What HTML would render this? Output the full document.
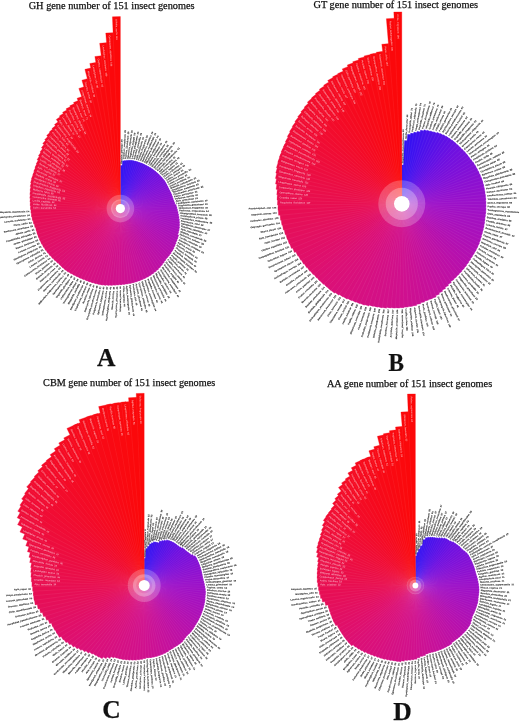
<!DOCTYPE html>
<html><head><meta charset="utf-8"><style>
html,body{margin:0;padding:0;background:#fff;width:520px;height:722px;overflow:hidden}
svg{display:block;filter:blur(0.3px)}
.t{font-family:"Liberation Serif",serif;fill:#111;stroke:#111;stroke-width:0.25px}
.l{font-family:"Liberation Sans",sans-serif}
</style></head><body>
<svg width="520" height="722" viewBox="0 0 520 722">
<rect width="520" height="722" fill="#fff"/>
<g class="l">
<!-- chart A -->
<path d="M120.40 208.60L120.40 165.40L123.33 165.50Z" fill="#2c10f4" stroke="#2c10f4" stroke-width="0.3"/>
<path d="M120.40 208.60L122.39 160.84L125.62 161.09Z" fill="#3010f3" stroke="#3010f3" stroke-width="0.3"/>
<path d="M120.40 208.60L124.41 160.50L127.66 160.88Z" fill="#3310f2" stroke="#3310f2" stroke-width="0.3"/>
<path d="M120.40 208.60L126.48 160.15L129.75 160.67Z" fill="#3710f1" stroke="#3710f1" stroke-width="0.3"/>
<path d="M120.40 208.60L128.54 160.13L131.81 160.79Z" fill="#3b10f0" stroke="#3b10f0" stroke-width="0.3"/>
<path d="M120.40 208.60L130.62 160.21L133.87 161.01Z" fill="#3e10ef" stroke="#3e10ef" stroke-width="0.3"/>
<path d="M120.40 208.60L132.65 160.57L135.87 161.51Z" fill="#4210ee" stroke="#4210ee" stroke-width="0.3"/>
<path d="M120.40 208.60L134.67 161.01L137.86 162.09Z" fill="#4610ed" stroke="#4610ed" stroke-width="0.3"/>
<path d="M120.40 208.60L136.67 161.54L139.82 162.75Z" fill="#4a10ec" stroke="#4a10ec" stroke-width="0.3"/>
<path d="M120.40 208.60L138.66 162.15L141.76 163.49Z" fill="#4d10ea" stroke="#4d10ea" stroke-width="0.3"/>
<path d="M120.40 208.60L140.62 162.84L143.67 164.32Z" fill="#5110e9" stroke="#5110e9" stroke-width="0.3"/>
<path d="M120.40 208.60L142.56 163.62L145.55 165.22Z" fill="#5510e8" stroke="#5510e8" stroke-width="0.3"/>
<path d="M120.40 208.60L144.47 164.48L147.40 166.21Z" fill="#5810e7" stroke="#5810e7" stroke-width="0.3"/>
<path d="M120.40 208.60L146.35 165.39L149.22 167.25Z" fill="#5c10e6" stroke="#5c10e6" stroke-width="0.3"/>
<path d="M120.40 208.60L148.21 166.39L151.00 168.37Z" fill="#6010e5" stroke="#6010e5" stroke-width="0.3"/>
<path d="M120.40 208.60L150.02 167.47L152.74 169.57Z" fill="#6310e4" stroke="#6310e4" stroke-width="0.3"/>
<path d="M120.40 208.60L151.80 168.62L154.43 170.84Z" fill="#6710e3" stroke="#6710e3" stroke-width="0.3"/>
<path d="M120.40 208.60L153.53 169.86L156.07 172.19Z" fill="#6b10e2" stroke="#6b10e2" stroke-width="0.3"/>
<path d="M120.40 208.60L155.24 171.12L157.70 173.57Z" fill="#6f10e0" stroke="#6f10e0" stroke-width="0.3"/>
<path d="M120.40 208.60L156.92 172.46L159.28 175.02Z" fill="#7110df" stroke="#7110df" stroke-width="0.3"/>
<path d="M120.40 208.60L158.50 173.91L160.76 176.57Z" fill="#7410de" stroke="#7410de" stroke-width="0.3"/>
<path d="M120.40 208.60L160.03 175.42L162.19 178.18Z" fill="#7610dd" stroke="#7610dd" stroke-width="0.3"/>
<path d="M120.40 208.60L161.50 177.01L163.55 179.86Z" fill="#7810db" stroke="#7810db" stroke-width="0.3"/>
<path d="M120.40 208.60L162.91 178.65L164.84 181.60Z" fill="#7b10da" stroke="#7b10da" stroke-width="0.3"/>
<path d="M120.40 208.60L164.25 180.36L166.06 183.40Z" fill="#7d10d9" stroke="#7d10d9" stroke-width="0.3"/>
<path d="M120.40 208.60L165.38 182.21L167.07 185.32Z" fill="#7f10d8" stroke="#7f10d8" stroke-width="0.3"/>
<path d="M120.40 208.60L166.44 184.11L168.00 187.28Z" fill="#8210d6" stroke="#8210d6" stroke-width="0.3"/>
<path d="M120.40 208.60L167.50 186.00L168.92 189.25Z" fill="#8410d5" stroke="#8410d5" stroke-width="0.3"/>
<path d="M120.40 208.60L168.48 187.95L169.77 191.25Z" fill="#8610d4" stroke="#8610d4" stroke-width="0.3"/>
<path d="M120.40 208.60L169.55 189.87L170.70 193.24Z" fill="#8910d2" stroke="#8910d2" stroke-width="0.3"/>
<path d="M120.40 208.60L170.54 191.85L171.56 195.28Z" fill="#8b10d1" stroke="#8b10d1" stroke-width="0.3"/>
<path d="M120.40 208.60L171.45 193.87L172.33 197.37Z" fill="#8d10d0" stroke="#8d10d0" stroke-width="0.3"/>
<path d="M120.40 208.60L172.27 195.95L173.01 199.49Z" fill="#9010cf" stroke="#9010cf" stroke-width="0.3"/>
<path d="M120.40 208.60L173.01 198.06L173.61 201.65Z" fill="#9210cd" stroke="#9210cd" stroke-width="0.3"/>
<path d="M120.40 208.60L173.91 200.18L174.36 203.83Z" fill="#9410cc" stroke="#9410cc" stroke-width="0.3"/>
<path d="M120.40 208.60L174.72 202.36L175.02 206.05Z" fill="#9710cb" stroke="#9710cb" stroke-width="0.3"/>
<path d="M120.40 208.60L176.19 204.53L176.34 208.32Z" fill="#9910ca" stroke="#9910ca" stroke-width="0.3"/>
<path d="M120.40 208.60L176.90 206.84L176.89 210.67Z" fill="#9b10c8" stroke="#9b10c8" stroke-width="0.3"/>
<path d="M120.40 208.60L177.51 209.19L177.33 213.06Z" fill="#9d10c7" stroke="#9d10c7" stroke-width="0.3"/>
<path d="M120.40 208.60L178.18 211.61L177.84 215.51Z" fill="#9f10c5" stroke="#9f10c5" stroke-width="0.3"/>
<path d="M120.40 208.60L178.75 214.08L178.24 218.02Z" fill="#a010c4" stroke="#a010c4" stroke-width="0.3"/>
<path d="M120.40 208.60L179.21 216.60L178.54 220.57Z" fill="#a210c2" stroke="#a210c2" stroke-width="0.3"/>
<path d="M120.40 208.60L179.57 219.17L178.71 223.16Z" fill="#a310c1" stroke="#a310c1" stroke-width="0.3"/>
<path d="M120.40 208.60L179.81 221.79L178.78 225.78Z" fill="#a510bf" stroke="#a510bf" stroke-width="0.3"/>
<path d="M120.40 208.60L179.83 224.41L178.62 228.40Z" fill="#a610be" stroke="#a610be" stroke-width="0.3"/>
<path d="M120.40 208.60L179.73 227.06L178.35 231.04Z" fill="#a710bd" stroke="#a710bd" stroke-width="0.3"/>
<path d="M120.40 208.60L179.27 229.64L177.71 233.58Z" fill="#a910bb" stroke="#a910bb" stroke-width="0.3"/>
<path d="M120.40 208.60L178.70 232.22L176.96 236.11Z" fill="#aa10ba" stroke="#aa10ba" stroke-width="0.3"/>
<path d="M120.40 208.60L178.91 235.19L176.97 239.09Z" fill="#ac10b8" stroke="#ac10b8" stroke-width="0.3"/>
<path d="M120.40 208.60L178.07 237.76L175.96 241.60Z" fill="#ad10b7" stroke="#ad10b7" stroke-width="0.3"/>
<path d="M120.40 208.60L177.12 240.31L174.84 244.08Z" fill="#af10b5" stroke="#af10b5" stroke-width="0.3"/>
<path d="M120.40 208.60L176.24 242.94L173.79 246.64Z" fill="#b010b4" stroke="#b010b4" stroke-width="0.3"/>
<path d="M120.40 208.60L175.24 245.55L172.61 249.18Z" fill="#b210b2" stroke="#b210b2" stroke-width="0.3"/>
<path d="M120.40 208.60L174.12 248.14L171.32 251.69Z" fill="#b310b1" stroke="#b310b1" stroke-width="0.3"/>
<path d="M120.40 208.60L172.74 250.59L169.77 254.04Z" fill="#b510af" stroke="#b510af" stroke-width="0.3"/>
<path d="M120.40 208.60L171.25 253.00L168.12 256.34Z" fill="#b610ae" stroke="#b610ae" stroke-width="0.3"/>
<path d="M120.40 208.60L169.51 255.22L166.24 258.43Z" fill="#b810ac" stroke="#b810ac" stroke-width="0.3"/>
<path d="M120.40 208.60L167.67 257.37L164.26 260.46Z" fill="#b910ab" stroke="#b910ab" stroke-width="0.3"/>
<path d="M120.40 208.60L166.12 259.88L162.55 262.86Z" fill="#ba10a9" stroke="#ba10a9" stroke-width="0.3"/>
<path d="M120.40 208.60L164.43 262.33L160.69 265.19Z" fill="#bc10a7" stroke="#bc10a7" stroke-width="0.3"/>
<path d="M120.40 208.60L162.62 264.72L158.72 267.45Z" fill="#bd10a6" stroke="#bd10a6" stroke-width="0.3"/>
<path d="M120.40 208.60L160.68 267.05L156.63 269.65Z" fill="#be10a4" stroke="#be10a4" stroke-width="0.3"/>
<path d="M120.40 208.60L158.62 269.32L154.41 271.77Z" fill="#bf10a3" stroke="#bf10a3" stroke-width="0.3"/>
<path d="M120.40 208.60L156.31 271.30L151.98 273.59Z" fill="#c110a1" stroke="#c110a1" stroke-width="0.3"/>
<path d="M120.40 208.60L153.91 273.19L149.45 275.31Z" fill="#c2109f" stroke="#c2109f" stroke-width="0.3"/>
<path d="M120.40 208.60L151.39 274.96L146.82 276.90Z" fill="#c3109e" stroke="#c3109e" stroke-width="0.3"/>
<path d="M120.40 208.60L148.78 276.62L144.11 278.39Z" fill="#c5109c" stroke="#c5109c" stroke-width="0.3"/>
<path d="M120.40 208.60L146.04 278.04L141.27 279.61Z" fill="#c6109b" stroke="#c6109b" stroke-width="0.3"/>
<path d="M120.40 208.60L143.22 279.34L138.38 280.72Z" fill="#c71099" stroke="#c71099" stroke-width="0.3"/>
<path d="M120.40 208.60L140.34 280.53L135.42 281.71Z" fill="#c81098" stroke="#c81098" stroke-width="0.3"/>
<path d="M120.40 208.60L137.40 281.60L132.42 282.58Z" fill="#ca1096" stroke="#ca1096" stroke-width="0.3"/>
<path d="M120.40 208.60L134.41 282.55L129.37 283.33Z" fill="#cb1094" stroke="#cb1094" stroke-width="0.3"/>
<path d="M120.40 208.60L131.35 283.27L126.27 283.84Z" fill="#cc1093" stroke="#cc1093" stroke-width="0.3"/>
<path d="M120.40 208.60L128.26 283.87L123.14 284.23Z" fill="#cd1091" stroke="#cd1091" stroke-width="0.3"/>
<path d="M120.40 208.60L125.13 284.34L119.99 284.49Z" fill="#cf1090" stroke="#cf1090" stroke-width="0.3"/>
<path d="M120.40 208.60L121.98 284.68L116.83 284.62Z" fill="#d0108e" stroke="#d0108e" stroke-width="0.3"/>
<path d="M120.40 208.60L118.81 285.04L113.64 284.76Z" fill="#d1108d" stroke="#d1108d" stroke-width="0.3"/>
<path d="M120.40 208.60L115.61 285.26L110.43 284.76Z" fill="#d1108b" stroke="#d1108b" stroke-width="0.3"/>
<path d="M120.40 208.60L112.38 285.44L107.19 284.72Z" fill="#d2108a" stroke="#d2108a" stroke-width="0.3"/>
<path d="M120.40 208.60L109.12 285.48L103.94 284.54Z" fill="#d31089" stroke="#d31089" stroke-width="0.3"/>
<path d="M120.40 208.60L105.85 285.38L100.68 284.22Z" fill="#d31088" stroke="#d31088" stroke-width="0.3"/>
<path d="M120.40 208.60L102.57 285.14L97.43 283.76Z" fill="#d41086" stroke="#d41086" stroke-width="0.3"/>
<path d="M120.40 208.60L99.34 284.54L94.25 282.94Z" fill="#d41085" stroke="#d41085" stroke-width="0.3"/>
<path d="M120.40 208.60L96.14 283.80L91.10 281.99Z" fill="#d51084" stroke="#d51084" stroke-width="0.3"/>
<path d="M120.40 208.60L92.96 282.93L87.98 280.90Z" fill="#d61083" stroke="#d61083" stroke-width="0.3"/>
<path d="M120.40 208.60L89.81 281.92L84.91 279.68Z" fill="#d61081" stroke="#d61081" stroke-width="0.3"/>
<path d="M120.40 208.60L86.69 280.78L81.88 278.33Z" fill="#d71080" stroke="#d71080" stroke-width="0.3"/>
<path d="M120.40 208.60L83.54 279.66L78.81 277.00Z" fill="#d8107f" stroke="#d8107f" stroke-width="0.3"/>
<path d="M120.40 208.60L80.42 278.40L75.79 275.53Z" fill="#d8107d" stroke="#d8107d" stroke-width="0.3"/>
<path d="M120.40 208.60L77.33 277.03L72.80 273.95Z" fill="#d9107c" stroke="#d9107c" stroke-width="0.3"/>
<path d="M120.40 208.60L74.29 275.52L69.86 272.24Z" fill="#da107b" stroke="#da107b" stroke-width="0.3"/>
<path d="M120.40 208.60L71.22 273.97L66.91 270.49Z" fill="#da107a" stroke="#da107a" stroke-width="0.3"/>
<path d="M120.40 208.60L68.21 272.28L64.02 268.60Z" fill="#db1078" stroke="#db1078" stroke-width="0.3"/>
<path d="M120.40 208.60L65.52 270.15L61.48 266.29Z" fill="#db1077" stroke="#db1077" stroke-width="0.3"/>
<path d="M120.40 208.60L62.92 267.90L59.04 263.87Z" fill="#dc1076" stroke="#dc1076" stroke-width="0.3"/>
<path d="M120.40 208.60L60.41 265.55L56.69 261.35Z" fill="#dd1074" stroke="#dd1074" stroke-width="0.3"/>
<path d="M120.40 208.60L57.70 263.35L54.14 258.97Z" fill="#dd1072" stroke="#dd1072" stroke-width="0.3"/>
<path d="M120.40 208.60L55.07 261.02L51.67 256.47Z" fill="#de1070" stroke="#de1070" stroke-width="0.3"/>
<path d="M120.40 208.60L52.52 258.57L49.29 253.85Z" fill="#df106e" stroke="#df106e" stroke-width="0.3"/>
<path d="M120.40 208.60L50.06 255.99L47.02 251.12Z" fill="#df0f6c" stroke="#df0f6c" stroke-width="0.3"/>
<path d="M120.40 208.60L47.81 253.24L44.95 248.22Z" fill="#e00f6a" stroke="#e00f6a" stroke-width="0.3"/>
<path d="M120.40 208.60L45.66 250.38L43.01 245.22Z" fill="#e10f68" stroke="#e10f68" stroke-width="0.3"/>
<path d="M120.40 208.60L43.63 247.41L41.18 242.13Z" fill="#e10f66" stroke="#e10f66" stroke-width="0.3"/>
<path d="M120.40 208.60L41.71 244.35L39.47 238.94Z" fill="#e20f64" stroke="#e20f64" stroke-width="0.3"/>
<path d="M120.40 208.60L40.15 241.11L38.13 235.60Z" fill="#e20f62" stroke="#e20f62" stroke-width="0.3"/>
<path d="M120.40 208.60L38.72 237.80L36.93 232.20Z" fill="#e30f60" stroke="#e30f60" stroke-width="0.3"/>
<path d="M120.40 208.60L37.51 234.39L35.95 228.72Z" fill="#e40f5e" stroke="#e40f5e" stroke-width="0.3"/>
<path d="M120.40 208.60L36.44 230.94L35.12 225.20Z" fill="#e40f5c" stroke="#e40f5c" stroke-width="0.3"/>
<path d="M120.40 208.60L34.94 227.57L33.86 221.74Z" fill="#e50f5a" stroke="#e50f5a" stroke-width="0.3"/>
<path d="M120.40 208.60L33.58 224.12L32.73 218.20Z" fill="#e60e58" stroke="#e60e58" stroke-width="0.3"/>
<path d="M120.40 208.60L32.36 220.58L31.75 214.59Z" fill="#e60e56" stroke="#e60e56" stroke-width="0.3"/>
<path d="M120.40 208.60L31.59 216.94L31.23 210.90Z" fill="#e70e54" stroke="#e70e54" stroke-width="0.3"/>
<path d="M120.40 208.60L30.97 213.26L30.86 207.19Z" fill="#e80e52" stroke="#e80e52" stroke-width="0.3"/>
<path d="M120.40 208.60L30.50 209.54L30.65 203.44Z" fill="#e80e50" stroke="#e80e50" stroke-width="0.3"/>
<path d="M120.40 208.60L30.14 205.78L30.54 199.68Z" fill="#e90e4e" stroke="#e90e4e" stroke-width="0.3"/>
<path d="M120.40 208.60L29.94 202.00L30.60 195.89Z" fill="#e90e4c" stroke="#e90e4c" stroke-width="0.3"/>
<path d="M120.40 208.60L29.79 198.19L30.70 192.07Z" fill="#ea0e4a" stroke="#ea0e4a" stroke-width="0.3"/>
<path d="M120.40 208.60L29.80 194.35L30.97 188.24Z" fill="#ea0e48" stroke="#ea0e48" stroke-width="0.3"/>
<path d="M120.40 208.60L29.97 190.49L31.41 184.41Z" fill="#eb0d47" stroke="#eb0d47" stroke-width="0.3"/>
<path d="M120.40 208.60L30.16 186.59L31.86 180.53Z" fill="#eb0d45" stroke="#eb0d45" stroke-width="0.3"/>
<path d="M120.40 208.60L30.49 182.66L32.46 176.63Z" fill="#ec0d43" stroke="#ec0d43" stroke-width="0.3"/>
<path d="M120.40 208.60L31.53 178.90L33.75 172.95Z" fill="#ec0d41" stroke="#ec0d41" stroke-width="0.3"/>
<path d="M120.40 208.60L32.73 175.19L35.19 169.33Z" fill="#ed0d3f" stroke="#ed0d3f" stroke-width="0.3"/>
<path d="M120.40 208.60L33.72 171.37L36.44 165.58Z" fill="#ed0d3e" stroke="#ed0d3e" stroke-width="0.3"/>
<path d="M120.40 208.60L34.88 167.57L37.86 161.87Z" fill="#ee0d3c" stroke="#ee0d3c" stroke-width="0.3"/>
<path d="M120.40 208.60L36.21 163.81L39.44 158.21Z" fill="#ee0d3a" stroke="#ee0d3a" stroke-width="0.3"/>
<path d="M120.40 208.60L37.03 159.69L40.53 154.15Z" fill="#ef0d38" stroke="#ef0d38" stroke-width="0.3"/>
<path d="M120.40 208.60L38.43 155.81L42.20 150.38Z" fill="#f00c36" stroke="#f00c36" stroke-width="0.3"/>
<path d="M120.40 208.60L40.02 151.97L44.04 146.66Z" fill="#f00c35" stroke="#f00c35" stroke-width="0.3"/>
<path d="M120.40 208.60L41.35 147.84L45.65 142.62Z" fill="#f10c33" stroke="#f10c33" stroke-width="0.3"/>
<path d="M120.40 208.60L42.71 143.56L47.29 138.45Z" fill="#f10c31" stroke="#f10c31" stroke-width="0.3"/>
<path d="M120.40 208.60L44.67 139.65L49.52 134.68Z" fill="#f20c2f" stroke="#f20c2f" stroke-width="0.3"/>
<path d="M120.40 208.60L46.62 135.58L51.73 130.75Z" fill="#f20c2d" stroke="#f20c2d" stroke-width="0.3"/>
<path d="M120.40 208.60L49.21 132.02L54.56 127.38Z" fill="#f30c2b" stroke="#f30c2b" stroke-width="0.3"/>
<path d="M120.40 208.60L51.98 128.57L57.56 124.12Z" fill="#f30b29" stroke="#f30b29" stroke-width="0.3"/>
<path d="M120.40 208.60L54.45 124.62L60.29 120.35Z" fill="#f40b27" stroke="#f40b27" stroke-width="0.3"/>
<path d="M120.40 208.60L56.23 119.50L62.41 115.35Z" fill="#f40b25" stroke="#f40b25" stroke-width="0.3"/>
<path d="M120.40 208.60L59.33 115.91L65.75 111.98Z" fill="#f50b23" stroke="#f50b23" stroke-width="0.3"/>
<path d="M120.40 208.60L62.57 112.33L69.23 108.64Z" fill="#f50b21" stroke="#f50b21" stroke-width="0.3"/>
<path d="M120.40 208.60L66.00 108.87L72.88 105.41Z" fill="#f60a1f" stroke="#f60a1f" stroke-width="0.3"/>
<path d="M120.40 208.60L69.76 105.80L76.84 102.60Z" fill="#f60a1d" stroke="#f60a1d" stroke-width="0.3"/>
<path d="M120.40 208.60L73.51 102.50L80.81 99.57Z" fill="#f70a1b" stroke="#f70a1b" stroke-width="0.3"/>
<path d="M120.40 208.60L77.05 98.31L84.62 95.63Z" fill="#f70a19" stroke="#f70a19" stroke-width="0.3"/>
<path d="M120.40 208.60L78.83 88.38L87.07 85.84Z" fill="#f80a17" stroke="#f80a17" stroke-width="0.3"/>
<path d="M120.40 208.60L81.89 80.15L90.68 77.83Z" fill="#f90915" stroke="#f90915" stroke-width="0.3"/>
<path d="M120.40 208.60L84.89 69.36L94.41 67.27Z" fill="#f90913" stroke="#f90913" stroke-width="0.3"/>
<path d="M120.40 208.60L89.77 63.50L99.67 61.76Z" fill="#fa0911" stroke="#fa0911" stroke-width="0.3"/>
<path d="M120.40 208.60L94.85 56.53L105.21 55.15Z" fill="#fa090f" stroke="#fa090f" stroke-width="0.3"/>
<path d="M120.40 208.60L99.66 43.30L110.90 42.27Z" fill="#fb090d" stroke="#fb090d" stroke-width="0.3"/>
<path d="M120.40 208.60L105.76 33.11L117.68 32.52Z" fill="#fb080b" stroke="#fb080b" stroke-width="0.3"/>
<path d="M120.40 208.60L112.41 16.77L120.40 16.60Z" fill="#fc0809" stroke="#fc0809" stroke-width="0.3"/>
<path d="M120.40 200.60L120.40 165.40M120.73 200.61L122.20 165.44M121.06 200.63L124.37 160.97M121.40 200.66L126.41 160.71M121.73 200.71L128.49 160.44M122.05 200.77L130.55 160.51M122.38 200.85L132.62 160.67M122.70 200.94L134.64 161.12M123.01 201.04L136.63 161.65M123.33 201.15L138.62 162.26M123.63 201.28L140.57 162.95M123.94 201.42L142.51 163.72M124.23 201.58L144.41 164.58M124.52 201.74L146.28 165.52M124.80 201.92L148.13 166.51M125.08 202.11L149.94 167.58M125.34 202.31L151.71 168.74M125.60 202.52L153.43 169.96M125.85 202.74L155.11 171.27M126.09 202.97L156.77 172.60M126.32 203.21L158.39 174.01M126.53 203.46L159.91 175.52M126.74 203.72L161.38 177.10M126.94 203.99L162.78 178.74M127.13 204.27L164.12 180.45M127.30 204.55L165.38 182.21M127.46 204.84L166.44 184.11M127.61 205.14L167.42 186.04M127.75 205.44L168.40 187.98M127.88 205.75L169.30 189.97M127.99 206.06L170.28 191.93M128.09 206.38L171.19 193.95M128.17 206.70L172.01 196.01M128.24 207.03L172.75 198.12M128.30 207.36L173.41 200.26M128.35 207.69L174.21 202.42M128.38 208.02L174.93 204.62M128.40 208.35L176.31 206.85M128.40 208.68L176.92 209.19M128.39 209.02L177.43 211.57M128.36 209.35L178.00 214.01M128.33 209.68L178.47 216.50M128.28 210.01L178.83 219.04M128.21 210.33L179.08 221.63M128.13 210.66L179.21 224.25M128.04 210.98L179.12 226.87M127.93 211.29L178.91 229.51M127.81 211.60L178.35 232.07M127.68 211.91L177.67 234.62M127.54 212.21L177.75 237.60M127.38 212.50L176.81 240.13M127.21 212.79L175.75 242.64M127.03 213.07L174.76 245.23M126.84 213.34L173.66 247.80M126.64 213.61L172.43 250.34M126.43 213.86L170.95 252.73M126.20 214.11L169.36 255.07M125.97 214.34L167.52 257.22M125.72 214.57L165.60 259.29M125.47 214.79L163.95 261.74M125.21 214.99L162.16 264.11M124.94 215.19L160.25 266.43M124.66 215.37L158.21 268.68M124.38 215.54L156.06 270.86M124.08 215.70L153.67 272.74M123.79 215.85L151.19 274.53M123.48 215.98L148.60 276.19M123.17 216.10L145.93 277.74M122.86 216.21L143.13 279.04M122.54 216.31L140.26 280.23M122.21 216.39L137.33 281.30M121.89 216.46L134.35 282.24M121.56 216.52L131.32 283.07M121.23 216.56L128.24 283.67M120.90 216.58L125.12 284.13M120.57 216.60L121.98 284.47M120.23 216.60L118.82 284.68M119.90 216.58L115.63 284.91M119.57 216.56L112.42 285.00M119.24 216.52L109.19 285.04M118.91 216.46L105.94 284.94M118.59 216.39L102.67 284.71M118.26 216.31L99.40 284.34M117.94 216.21L96.20 283.60M117.63 216.10L93.03 282.73M117.32 215.98L89.89 281.72M117.01 215.85L86.78 280.59M116.72 215.70L83.72 279.31M116.42 215.54L80.62 278.06M116.14 215.37L77.56 276.67M115.86 215.19L74.52 275.18M115.59 214.99L71.54 273.55M115.33 214.79L68.55 271.87M115.08 214.57L65.61 270.05M114.83 214.34L63.01 267.81M114.60 214.11L60.50 265.46M114.37 213.86L58.10 263.00M114.16 213.61L55.48 260.69M113.96 213.34L52.95 258.25M113.77 213.07L50.50 255.70M113.59 212.79L48.15 253.03M113.42 212.50L46.02 250.18M113.26 212.21L43.99 247.23M113.12 211.91L42.08 244.19M112.99 211.60L40.30 241.05M112.87 211.29L38.87 237.74M112.76 210.98L37.58 234.37M112.67 210.66L36.51 230.92M112.59 210.33L35.59 227.43M112.52 210.01L34.23 224.00M112.47 209.68L33.01 220.49M112.44 209.35L31.94 216.91M112.41 209.02L31.32 213.24M112.40 208.68L30.85 209.53M112.40 208.35L30.54 205.79M112.42 208.02L30.34 202.03M112.45 207.69L30.29 198.24M112.50 207.36L30.30 194.43M112.56 207.03L30.47 190.59M112.63 206.70L30.81 186.75M112.71 206.38L31.16 182.85M112.81 206.06L31.65 178.94M112.92 205.75L32.84 175.23M113.05 205.44L34.19 171.57M113.19 205.14L35.34 167.80M113.34 204.84L36.66 164.05M113.50 204.55L38.15 160.35M113.67 204.27L39.13 156.26M113.86 203.99L40.70 152.45M114.06 203.72L42.45 148.68M114.27 203.46L43.95 144.60M114.48 203.21L45.48 140.38M114.71 202.97L47.60 136.56M114.95 202.74L49.72 132.58M115.20 202.52L52.45 129.13M115.46 202.31L55.37 125.80M115.72 202.11L58.00 121.95M116.00 201.92L59.99 116.90M116.28 201.74L63.24 113.45M116.57 201.58L66.63 110.01M116.86 201.42L70.20 106.69M117.17 201.28L74.08 103.78M117.47 201.15L77.97 100.64M117.79 201.04L81.68 96.61M118.10 200.94L83.87 86.76M118.42 200.85L87.27 78.66M118.75 200.77L90.72 68.00M119.07 200.71L95.83 62.35M119.40 200.66L101.20 55.60M119.74 200.63L106.55 42.58M120.07 200.61L113.07 32.65" stroke="#fff" stroke-opacity="0.18" stroke-width="0.35" fill="none"/>
<g font-size="2.40" fill="#444" stroke="#444" stroke-width="0.14" font-weight="bold" text-rendering="geometricPrecision" style="filter:grayscale(1)"><text transform="translate(121.33 163.71) rotate(-88.81) scale(1 0.87)" dy="0.35em">Bemisia_gambiae&#160;&#160;26</text><text transform="translate(123.49 159.20) rotate(-86.42) scale(1 0.87)" dy="0.35em">Tribolium_nevadensis&#160;&#160;29</text><text transform="translate(125.59 158.90) rotate(-84.04) scale(1 0.87)" dy="0.35em">Polistes_canadensis&#160;&#160;29</text><text transform="translate(127.73 158.60) rotate(-81.66) scale(1 0.87)" dy="0.35em">Ephemera_migratoria&#160;&#160;29</text><text transform="translate(129.87 158.64) rotate(-79.27) scale(1 0.87)" dy="0.35em">Diaphorina_aegypti&#160;&#160;29</text><text transform="translate(132.01 158.77) rotate(-76.89) scale(1 0.87)" dy="0.35em">Locusta_planipennis&#160;&#160;30</text><text transform="translate(134.10 159.19) rotate(-74.50) scale(1 0.87)" dy="0.35em">Amyelois_persimilis&#160;&#160;30</text><text transform="translate(136.18 159.70) rotate(-72.12) scale(1 0.87)" dy="0.35em">Apis_canadensis&#160;&#160;30</text><text transform="translate(138.24 160.29) rotate(-69.74) scale(1 0.87)" dy="0.35em">Polistes_frugiperda&#160;&#160;30</text><text transform="translate(140.27 160.97) rotate(-67.35) scale(1 0.87)" dy="0.35em">Harpegnathos_simulans&#160;&#160;30</text><text transform="translate(142.29 161.73) rotate(-64.97) scale(1 0.87)" dy="0.35em">Bactrocera_occidentalis&#160;&#160;30</text><text transform="translate(144.27 162.58) rotate(-62.58) scale(1 0.87)" dy="0.35em">Spodoptera_floridanus&#160;&#160;30</text><text transform="translate(146.22 163.51) rotate(-60.20) scale(1 0.87)" dy="0.35em">Manduca_melpomene&#160;&#160;30</text><text transform="translate(148.15 164.50) rotate(-57.81) scale(1 0.87)" dy="0.35em">Ladona_floridanus&#160;&#160;30</text><text transform="translate(150.04 165.58) rotate(-55.43) scale(1 0.87)" dy="0.35em">Timema_melanogaster&#160;&#160;30</text><text transform="translate(151.89 166.73) rotate(-53.05) scale(1 0.87)" dy="0.35em">Rhodnius_mexicana&#160;&#160;30</text><text transform="translate(153.70 167.97) rotate(-50.66) scale(1 0.87)" dy="0.35em">Spodoptera_glabripennis&#160;&#160;30</text><text transform="translate(155.46 169.28) rotate(-48.28) scale(1 0.87)" dy="0.35em">Locusta_transitella&#160;&#160;31</text><text transform="translate(157.20 170.63) rotate(-45.89) scale(1 0.87)" dy="0.35em">Calycopis_decemlineata&#160;&#160;31</text><text transform="translate(158.89 172.06) rotate(-43.51) scale(1 0.87)" dy="0.35em">Apis_domestica&#160;&#160;31</text><text transform="translate(160.50 173.59) rotate(-41.13) scale(1 0.87)" dy="0.35em">Pediculus_yakuba&#160;&#160;31</text><text transform="translate(162.04 175.19) rotate(-38.74) scale(1 0.87)" dy="0.35em">Vespa_lugens&#160;&#160;31</text><text transform="translate(163.52 176.86) rotate(-36.36) scale(1 0.87)" dy="0.35em">Cimex_xylostella&#160;&#160;31</text><text transform="translate(164.93 178.59) rotate(-33.97) scale(1 0.87)" dy="0.35em">Ladona_armigera&#160;&#160;31</text><text transform="translate(166.27 180.39) rotate(-31.59) scale(1 0.87)" dy="0.35em">Aedes_accius&#160;&#160;31</text><text transform="translate(167.41 182.32) rotate(-29.21) scale(1 0.87)" dy="0.35em">Dufourea_persimilis&#160;&#160;31</text><text transform="translate(168.46 184.30) rotate(-26.82) scale(1 0.87)" dy="0.35em">Culex_cecrops&#160;&#160;31</text><text transform="translate(169.51 186.29) rotate(-24.44) scale(1 0.87)" dy="0.35em">Aedes_mellifera&#160;&#160;31</text><text transform="translate(170.48 188.31) rotate(-22.05) scale(1 0.87)" dy="0.35em">Blattella_canadensis&#160;&#160;31</text><text transform="translate(171.53 190.33) rotate(-19.67) scale(1 0.87)" dy="0.35em">Anoplophora_furcifera&#160;&#160;32</text><text transform="translate(172.50 192.39) rotate(-17.28) scale(1 0.87)" dy="0.35em">Tribolium_transitella&#160;&#160;32</text><text transform="translate(173.38 194.50) rotate(-14.90) scale(1 0.87)" dy="0.35em">Ceratosolen_americana&#160;&#160;32</text><text transform="translate(174.18 196.66) rotate(-12.52) scale(1 0.87)" dy="0.35em">Pieris_germanica&#160;&#160;32</text><text transform="translate(174.90 198.86) rotate(-10.13) scale(1 0.87)" dy="0.35em">Dufourea_humile&#160;&#160;32</text><text transform="translate(175.76 201.07) rotate(-7.75) scale(1 0.87)" dy="0.35em">Apis_grimshawi&#160;&#160;33</text><text transform="translate(176.53 203.33) rotate(-5.36) scale(1 0.87)" dy="0.35em">Laodelphax_castaneum&#160;&#160;33</text><text transform="translate(177.96 205.60) rotate(-2.98) scale(1 0.87)" dy="0.35em">Diaphorina_grimshawi&#160;&#160;34</text><text transform="translate(178.62 207.99) rotate(-0.60) scale(1 0.87)" dy="0.35em">Heliconius_frugiperda&#160;&#160;34</text><text transform="translate(179.18 210.43) rotate(1.79) scale(1 0.87)" dy="0.35em">Pediculus_mojavensis&#160;&#160;34</text><text transform="translate(179.80 212.93) rotate(4.17) scale(1 0.87)" dy="0.35em">Harpegnathos_humanus&#160;&#160;35</text><text transform="translate(180.31 215.49) rotate(6.56) scale(1 0.87)" dy="0.35em">Anoplophora_pisum&#160;&#160;35</text><text transform="translate(180.71 218.09) rotate(8.94) scale(1 0.87)" dy="0.35em">Laodelphax_melpomene&#160;&#160;36</text><text transform="translate(181.00 220.74) rotate(11.32) scale(1 0.87)" dy="0.35em">Bactrocera_mori&#160;&#160;36</text><text transform="translate(181.17 223.42) rotate(13.71) scale(1 0.87)" dy="0.35em">Neodiprion_destructor&#160;&#160;37</text><text transform="translate(181.12 226.12) rotate(16.09) scale(1 0.87)" dy="0.35em">Eufriesea_calcitrans&#160;&#160;37</text><text transform="translate(180.95 228.83) rotate(18.48) scale(1 0.87)" dy="0.35em">Apis_transitella&#160;&#160;37</text><text transform="translate(180.41 231.47) rotate(20.86) scale(1 0.87)" dy="0.35em">Blattella_canadensis&#160;&#160;38</text><text transform="translate(179.76 234.10) rotate(23.25) scale(1 0.87)" dy="0.35em">Heliconius_saltator&#160;&#160;38</text><text transform="translate(179.87 237.13) rotate(25.63) scale(1 0.87)" dy="0.35em">Lucilia_rotundata&#160;&#160;39</text><text transform="translate(178.95 239.75) rotate(28.01) scale(1 0.87)" dy="0.35em">Neodiprion_armigera&#160;&#160;39</text><text transform="translate(177.91 242.34) rotate(30.40) scale(1 0.87)" dy="0.35em">Agrilus_sexta&#160;&#160;39</text><text transform="translate(176.94 245.01) rotate(32.78) scale(1 0.87)" dy="0.35em">Nasonia_mellifera&#160;&#160;39</text><text transform="translate(175.85 247.67) rotate(35.17) scale(1 0.87)" dy="0.35em">Orussus_terrestris&#160;&#160;40</text><text transform="translate(174.63 250.29) rotate(37.55) scale(1 0.87)" dy="0.35em">Amyelois_calcitrans&#160;&#160;40</text><text transform="translate(173.16 252.76) rotate(39.93) scale(1 0.87)" dy="0.35em">Zootermopsis_furcifera&#160;&#160;40</text><text transform="translate(171.57 255.19) rotate(42.32) scale(1 0.87)" dy="0.35em">Papilio_gambiae&#160;&#160;41</text><text transform="translate(169.73 257.42) rotate(44.70) scale(1 0.87)" dy="0.35em">Pediculus_pisum&#160;&#160;41</text><text transform="translate(167.80 259.58) rotate(47.09) scale(1 0.87)" dy="0.35em">Fopius_americana&#160;&#160;41</text><text transform="translate(166.15 262.11) rotate(49.47) scale(1 0.87)" dy="0.35em">Dendroctonus_danica&#160;&#160;41</text><text transform="translate(164.36 264.57) rotate(51.85) scale(1 0.87)" dy="0.35em">Bombus_aegypti&#160;&#160;42</text><text transform="translate(162.43 266.96) rotate(54.24) scale(1 0.87)" dy="0.35em">Bactrocera_nevadensis&#160;&#160;42</text><text transform="translate(160.39 269.30) rotate(56.62) scale(1 0.87)" dy="0.35em">Trichogramma_morsitans&#160;&#160;43</text><text transform="translate(158.22 271.56) rotate(59.01) scale(1 0.87)" dy="0.35em">Pediculus_cinctus&#160;&#160;43</text><text transform="translate(155.81 273.52) rotate(61.39) scale(1 0.87)" dy="0.35em">Megachile_plexippus&#160;&#160;43</text><text transform="translate(153.31 275.40) rotate(63.77) scale(1 0.87)" dy="0.35em">Bactrocera_persimilis&#160;&#160;44</text><text transform="translate(150.69 277.14) rotate(66.16) scale(1 0.87)" dy="0.35em">Zootermopsis_taurus&#160;&#160;44</text><text transform="translate(147.98 278.78) rotate(68.54) scale(1 0.87)" dy="0.35em">Sogatella_furcifera&#160;&#160;44</text><text transform="translate(145.14 280.16) rotate(70.93) scale(1 0.87)" dy="0.35em">Anopheles_novaeangliae&#160;&#160;44</text><text transform="translate(142.23 281.43) rotate(73.31) scale(1 0.87)" dy="0.35em">Diaphorina_sennae&#160;&#160;45</text><text transform="translate(139.26 282.58) rotate(75.70) scale(1 0.87)" dy="0.35em">Operophtera_plexippus&#160;&#160;45</text><text transform="translate(136.23 283.60) rotate(78.08) scale(1 0.87)" dy="0.35em">Amyelois_grimshawi&#160;&#160;45</text><text transform="translate(133.15 284.50) rotate(80.46) scale(1 0.87)" dy="0.35em">Pediculus_citri&#160;&#160;45</text><text transform="translate(130.01 285.17) rotate(82.85) scale(1 0.87)" dy="0.35em">Ephemera_glabripennis&#160;&#160;45</text><text transform="translate(126.83 285.71) rotate(85.23) scale(1 0.87)" dy="0.35em">Agrilus_melanogaster&#160;&#160;45</text><text transform="translate(123.63 286.12) rotate(87.62) scale(1 0.87)" dy="0.35em">Chilo_capitata&#160;&#160;46</text><text transform="translate(120.40 286.40) rotate(270.00) scale(1 0.87)" dy="0.35em" text-anchor="end">Nilaparvata_erecta&#160;&#160;46</text><text transform="translate(117.15 286.69) rotate(272.38) scale(1 0.87)" dy="0.35em" text-anchor="end">Operophtera_plexippus&#160;&#160;46</text><text transform="translate(113.87 286.84) rotate(274.77) scale(1 0.87)" dy="0.35em" text-anchor="end">Nasonia_cinctus&#160;&#160;46</text><text transform="translate(110.57 286.94) rotate(277.15) scale(1 0.87)" dy="0.35em" text-anchor="end">Acyrthosiphon_vitripennis&#160;&#160;46</text><text transform="translate(107.25 286.90) rotate(279.54) scale(1 0.87)" dy="0.35em" text-anchor="end">Trichogramma_accius&#160;&#160;47</text><text transform="translate(103.91 286.73) rotate(281.92) scale(1 0.87)" dy="0.35em" text-anchor="end">Ephemera_migratoria&#160;&#160;47</text><text transform="translate(100.56 286.40) rotate(284.30) scale(1 0.87)" dy="0.35em" text-anchor="end">Periplaneta_mexicana&#160;&#160;47</text><text transform="translate(97.28 285.72) rotate(286.69) scale(1 0.87)" dy="0.35em" text-anchor="end">Drosophila_pseudoobscura&#160;&#160;49</text><text transform="translate(94.02 284.89) rotate(289.07) scale(1 0.87)" dy="0.35em" text-anchor="end">Habropoda_laboriosa&#160;&#160;47</text><text transform="translate(90.79 283.93) rotate(291.46) scale(1 0.87)" dy="0.35em" text-anchor="end">Bombus_sexta&#160;&#160;48</text><text transform="translate(87.60 282.82) rotate(293.84) scale(1 0.87)" dy="0.35em" text-anchor="end">Copidosoma_mexicana&#160;&#160;48</text><text transform="translate(84.45 281.59) rotate(296.23) scale(1 0.87)" dy="0.35em" text-anchor="end">Neodiprion_ponderosae&#160;&#160;48</text><text transform="translate(81.26 280.37) rotate(298.61) scale(1 0.87)" dy="0.35em" text-anchor="end">Megachile_sechellia&#160;&#160;48</text><text transform="translate(78.11 279.01) rotate(300.99) scale(1 0.87)" dy="0.35em" text-anchor="end">Trichogramma_tabaci&#160;&#160;48</text><text transform="translate(74.98 277.54) rotate(303.38) scale(1 0.87)" dy="0.35em" text-anchor="end">Leptinotarsa_rapae&#160;&#160;49</text><text transform="translate(71.91 275.93) rotate(305.76) scale(1 0.87)" dy="0.35em" text-anchor="end">Sogatella_plexippus&#160;&#160;49</text><text transform="translate(68.82 274.27) rotate(308.15) scale(1 0.87)" dy="0.35em" text-anchor="end">Spodoptera_erecta&#160;&#160;49</text><text transform="translate(65.79 272.47) rotate(310.53) scale(1 0.87)" dy="0.35em" text-anchor="end">Heliconius_melpomene_rosina_x&#160;&#160;52</text><text transform="translate(63.10 270.24) rotate(312.91) scale(1 0.87)" dy="0.35em" text-anchor="end">Manduca_canadensis&#160;&#160;49</text><text transform="translate(60.49 267.89) rotate(315.30) scale(1 0.87)" dy="0.35em" text-anchor="end">Copidosoma_germanica&#160;&#160;50</text><text transform="translate(57.98 265.43) rotate(317.68) scale(1 0.87)" dy="0.35em" text-anchor="end">Habropoda_rosae&#160;&#160;50</text><text transform="translate(55.27 263.12) rotate(320.07) scale(1 0.87)" dy="0.35em" text-anchor="end">Bemisia_terrestris&#160;&#160;50</text><text transform="translate(52.65 260.68) rotate(322.45) scale(1 0.87)" dy="0.35em" text-anchor="end">Vespa_gambiae&#160;&#160;50</text><text transform="translate(50.11 258.12) rotate(324.83) scale(1 0.87)" dy="0.35em" text-anchor="end">Camponotus_floridanus&#160;&#160;51</text><text transform="translate(47.66 255.44) rotate(327.22) scale(1 0.87)" dy="0.35em" text-anchor="end">Lerema_invicta&#160;&#160;51</text><text transform="translate(45.43 252.58) rotate(329.60) scale(1 0.87)" dy="0.35em" text-anchor="end">Culex_cinctus&#160;&#160;51</text><text transform="translate(43.31 249.61) rotate(331.99) scale(1 0.87)" dy="0.35em" text-anchor="end">Operophtera_xylostella&#160;&#160;51</text><text transform="translate(41.31 246.54) rotate(334.37) scale(1 0.87)" dy="0.35em" text-anchor="end">Spodoptera_vitripennis&#160;&#160;52</text><text transform="translate(39.43 243.38) rotate(336.75) scale(1 0.87)" dy="0.35em" text-anchor="end">Lerema_cecrops&#160;&#160;52</text><text transform="translate(37.90 240.04) rotate(339.14) scale(1 0.87)" dy="0.35em" text-anchor="end">Musca_mexicana&#160;&#160;52</text><text transform="translate(36.52 236.63) rotate(341.52) scale(1 0.87)" dy="0.35em" text-anchor="end">Aedes_grimshawi&#160;&#160;52</text><text transform="translate(35.36 233.13) rotate(343.91) scale(1 0.87)" dy="0.35em" text-anchor="end">Frankliniella_xylostella&#160;&#160;52</text><text transform="translate(34.35 229.59) rotate(346.29) scale(1 0.87)" dy="0.35em" text-anchor="end">Athalia_sexta&#160;&#160;52</text><text transform="translate(32.90 226.12) rotate(348.68) scale(1 0.87)" dy="0.35em" text-anchor="end">Bactrocera_americana&#160;&#160;53</text><text transform="translate(31.60 222.57) rotate(351.06) scale(1 0.87)" dy="0.35em" text-anchor="end">Pieris_virilis&#160;&#160;53</text><text transform="translate(30.44 218.94) rotate(353.44) scale(1 0.87)" dy="0.35em" text-anchor="end">Locusta_lectularius&#160;&#160;53</text><text transform="translate(29.74 215.21) rotate(355.83) scale(1 0.87)" dy="0.35em" text-anchor="end">Habropoda_nevadensis&#160;&#160;54</text><text transform="translate(29.19 211.45) rotate(358.21) scale(1 0.87)" dy="0.35em" text-anchor="end">Mayetiola_mojavensis&#160;&#160;54</text></g>
<g font-size="2.40" fill="#fff" fill-opacity="0.60" font-weight="bold" text-rendering="geometricPrecision"><text transform="translate(33.00 207.69) rotate(360.60)" dy="0.35em">Culex_persimilis&#160;&#160;54</text><text transform="translate(32.72 204.04) rotate(362.98)" dy="0.35em">Vespa_floridanus&#160;&#160;54</text><text transform="translate(32.59 200.35) rotate(365.36)" dy="0.35em">Lucilia_capitata&#160;&#160;54</text><text transform="translate(32.50 196.64) rotate(367.75)" dy="0.35em">Ceratosolen_brumata&#160;&#160;55</text><text transform="translate(32.58 192.91) rotate(370.13)" dy="0.35em">Frankliniella_occidentalis&#160;&#160;55</text><text transform="translate(32.81 189.16) rotate(372.52)" dy="0.35em">Melipona_fulva&#160;&#160;55</text><text transform="translate(33.06 185.36) rotate(374.90)" dy="0.35em">Tribolium_migratoria&#160;&#160;56</text><text transform="translate(33.44 181.54) rotate(377.28)" dy="0.35em">Zootermopsis_frugiperda&#160;&#160;56</text><text transform="translate(34.52 177.90) rotate(379.67)" dy="0.35em">Neodiprion_invicta&#160;&#160;56</text><text transform="translate(35.76 174.31) rotate(382.05)" dy="0.35em">Blattella_erecta&#160;&#160;56</text><text transform="translate(36.79 170.61) rotate(384.44)" dy="0.35em">Stomoxys_mexicana&#160;&#160;57</text><text transform="translate(37.99 166.93) rotate(386.82)" dy="0.35em">Apis_cuprina&#160;&#160;57</text><text transform="translate(39.34 163.29) rotate(389.21)" dy="0.35em">Orussus_cuprina&#160;&#160;57</text><text transform="translate(40.19 159.28) rotate(391.59)" dy="0.35em">Lucilia_willistoni&#160;&#160;58</text><text transform="translate(41.62 155.52) rotate(393.97)" dy="0.35em">Ephemera_plexippus&#160;&#160;58</text><text transform="translate(43.23 151.79) rotate(396.36)" dy="0.35em">Danaus_striatellus&#160;&#160;59</text><text transform="translate(44.59 147.77) rotate(398.74)" dy="0.35em">Ladona_quadrifasciata&#160;&#160;60</text><text transform="translate(45.96 143.60) rotate(401.13)" dy="0.35em">Copidosoma_taurus&#160;&#160;61</text><text transform="translate(47.93 139.81) rotate(403.51)" dy="0.35em">Drosophila_germanica&#160;&#160;61</text><text transform="translate(49.89 135.86) rotate(405.89)" dy="0.35em">Copidosoma_pisum&#160;&#160;62</text><text transform="translate(52.48 132.42) rotate(408.28)" dy="0.35em">Phoebis_armigera&#160;&#160;63</text><text transform="translate(55.24 129.10) rotate(410.66)" dy="0.35em">Bombus_fulva&#160;&#160;63</text><text transform="translate(57.71 125.27) rotate(413.05)" dy="0.35em">Copidosoma_suppressalis&#160;&#160;64</text><text transform="translate(59.51 120.24) rotate(415.43)" dy="0.35em">Apis_ananassae&#160;&#160;66</text><text transform="translate(62.61 116.77) rotate(417.81)" dy="0.35em">Lerema_danica&#160;&#160;67</text><text transform="translate(65.83 113.32) rotate(420.20)" dy="0.35em">Mayetiola_germanica&#160;&#160;67</text><text transform="translate(69.24 109.98) rotate(422.58)" dy="0.35em">Pediculus_accius&#160;&#160;68</text><text transform="translate(72.97 107.03) rotate(424.97)" dy="0.35em">Spodoptera_plexippus&#160;&#160;69</text><text transform="translate(76.69 103.85) rotate(427.35)" dy="0.35em">Lerema_mori&#160;&#160;70</text><text transform="translate(80.22 99.78) rotate(429.74)" dy="0.35em">Bombyx_rosae&#160;&#160;71</text><text transform="translate(82.11 89.92) rotate(432.12)" dy="0.35em">Linepithema_dorsalis&#160;&#160;76</text><text transform="translate(85.24 81.78) rotate(434.50)" dy="0.35em">Timema_accius&#160;&#160;80</text><text transform="translate(88.37 71.08) rotate(436.89)" dy="0.35em">Megachile_cristinae&#160;&#160;86</text><text transform="translate(93.26 65.35) rotate(439.27)" dy="0.35em">Laodelphax_citri&#160;&#160;89</text><text transform="translate(98.38 58.51) rotate(441.66)" dy="0.35em">Cephus_suppressalis&#160;&#160;93</text><text transform="translate(103.36 45.39) rotate(444.04)" dy="0.35em">Laodelphax_calcitrans&#160;&#160;100</text><text transform="translate(109.57 35.34) rotate(446.42)" dy="0.35em">Ceratosolen_abietinus&#160;&#160;106</text><text transform="translate(116.46 19.14) rotate(448.81)" dy="0.35em">Athalia_sexta&#160;&#160;115</text></g>
<circle cx="120.40" cy="208.60" r="13.80" fill="#fff" fill-opacity="0.22"/>
<circle cx="120.40" cy="208.60" r="9.43" fill="#fff" fill-opacity="0.28"/>
<circle cx="120.40" cy="208.60" r="4.60" fill="#fff"/>
<!-- chart B -->
<path d="M401.80 203.80L401.80 164.90L404.44 164.99Z" fill="#2c10f4" stroke="#2c10f4" stroke-width="0.3"/>
<path d="M401.80 203.80L404.44 140.45L408.72 140.78Z" fill="#3010f3" stroke="#3010f3" stroke-width="0.3"/>
<path d="M401.80 203.80L407.60 134.25L412.30 134.80Z" fill="#3310f2" stroke="#3310f2" stroke-width="0.3"/>
<path d="M401.80 203.80L410.67 133.09L415.44 133.85Z" fill="#3710f1" stroke="#3710f1" stroke-width="0.3"/>
<path d="M401.80 203.80L413.85 132.07L418.68 133.05Z" fill="#3b10f0" stroke="#3b10f0" stroke-width="0.3"/>
<path d="M401.80 203.80L417.13 131.20L422.01 132.40Z" fill="#3e10ef" stroke="#3e10ef" stroke-width="0.3"/>
<path d="M401.80 203.80L420.60 130.06L425.56 131.50Z" fill="#4210ee" stroke="#4210ee" stroke-width="0.3"/>
<path d="M401.80 203.80L424.00 129.76L428.96 131.44Z" fill="#4610ed" stroke="#4610ed" stroke-width="0.3"/>
<path d="M401.80 203.80L427.23 130.26L432.15 132.15Z" fill="#4a10ec" stroke="#4a10ec" stroke-width="0.3"/>
<path d="M401.80 203.80L430.45 130.90L435.32 133.01Z" fill="#4d10ea" stroke="#4d10ea" stroke-width="0.3"/>
<path d="M401.80 203.80L433.67 131.68L438.48 134.01Z" fill="#5110e9" stroke="#5110e9" stroke-width="0.3"/>
<path d="M401.80 203.80L437.07 132.21L441.83 134.76Z" fill="#5510e8" stroke="#5510e8" stroke-width="0.3"/>
<path d="M401.80 203.80L440.21 133.39L444.89 136.15Z" fill="#5810e7" stroke="#5810e7" stroke-width="0.3"/>
<path d="M401.80 203.80L443.31 134.70L447.89 137.67Z" fill="#5c10e6" stroke="#5c10e6" stroke-width="0.3"/>
<path d="M401.80 203.80L446.24 136.35L450.70 139.52Z" fill="#6010e5" stroke="#6010e5" stroke-width="0.3"/>
<path d="M401.80 203.80L449.09 138.14L453.42 141.50Z" fill="#6310e4" stroke="#6310e4" stroke-width="0.3"/>
<path d="M401.80 203.80L451.86 140.06L456.07 143.59Z" fill="#6710e3" stroke="#6710e3" stroke-width="0.3"/>
<path d="M401.80 203.80L454.49 142.17L458.55 145.88Z" fill="#6b10e2" stroke="#6b10e2" stroke-width="0.3"/>
<path d="M401.80 203.80L457.04 144.39L460.93 148.27Z" fill="#6f10e0" stroke="#6f10e0" stroke-width="0.3"/>
<path d="M401.80 203.80L459.48 146.71L463.22 150.75Z" fill="#7110df" stroke="#7110df" stroke-width="0.3"/>
<path d="M401.80 203.80L461.97 149.02L465.54 153.22Z" fill="#7410de" stroke="#7410de" stroke-width="0.3"/>
<path d="M401.80 203.80L464.36 151.43L467.76 155.79Z" fill="#7610dd" stroke="#7610dd" stroke-width="0.3"/>
<path d="M401.80 203.80L466.58 154.01L469.80 158.51Z" fill="#7810db" stroke="#7810db" stroke-width="0.3"/>
<path d="M401.80 203.80L468.69 156.68L471.73 161.32Z" fill="#7b10da" stroke="#7b10da" stroke-width="0.3"/>
<path d="M401.80 203.80L470.96 159.26L473.82 164.05Z" fill="#7d10d9" stroke="#7d10d9" stroke-width="0.3"/>
<path d="M401.80 203.80L473.13 161.96L475.80 166.88Z" fill="#7f10d8" stroke="#7f10d8" stroke-width="0.3"/>
<path d="M401.80 203.80L474.96 164.88L477.42 169.93Z" fill="#8210d6" stroke="#8210d6" stroke-width="0.3"/>
<path d="M401.80 203.80L476.66 167.89L478.92 173.04Z" fill="#8410d5" stroke="#8410d5" stroke-width="0.3"/>
<path d="M401.80 203.80L478.30 170.94L480.35 176.20Z" fill="#8610d4" stroke="#8610d4" stroke-width="0.3"/>
<path d="M401.80 203.80L479.82 174.07L481.66 179.42Z" fill="#8910d2" stroke="#8910d2" stroke-width="0.3"/>
<path d="M401.80 203.80L481.21 177.27L482.83 182.71Z" fill="#8b10d1" stroke="#8b10d1" stroke-width="0.3"/>
<path d="M401.80 203.80L482.32 180.57L483.71 186.08Z" fill="#8d10d0" stroke="#8d10d0" stroke-width="0.3"/>
<path d="M401.80 203.80L483.25 183.93L484.41 189.50Z" fill="#9010cf" stroke="#9010cf" stroke-width="0.3"/>
<path d="M401.80 203.80L484.00 187.34L484.93 192.94Z" fill="#9210cd" stroke="#9210cd" stroke-width="0.3"/>
<path d="M401.80 203.80L484.66 190.76L485.35 196.41Z" fill="#9410cc" stroke="#9410cc" stroke-width="0.3"/>
<path d="M401.80 203.80L485.21 194.21L485.67 199.89Z" fill="#9710cb" stroke="#9710cb" stroke-width="0.3"/>
<path d="M401.80 203.80L485.55 197.69L485.77 203.38Z" fill="#9910ca" stroke="#9910ca" stroke-width="0.3"/>
<path d="M401.80 203.80L485.80 201.18L485.79 206.87Z" fill="#9b10c8" stroke="#9b10c8" stroke-width="0.3"/>
<path d="M401.80 203.80L485.91 204.67L485.66 210.37Z" fill="#9d10c7" stroke="#9d10c7" stroke-width="0.3"/>
<path d="M401.80 203.80L485.98 208.18L485.49 213.87Z" fill="#9f10c5" stroke="#9f10c5" stroke-width="0.3"/>
<path d="M401.80 203.80L485.76 211.68L485.03 217.35Z" fill="#a010c4" stroke="#a010c4" stroke-width="0.3"/>
<path d="M401.80 203.80L485.39 215.17L484.43 220.81Z" fill="#a210c2" stroke="#a210c2" stroke-width="0.3"/>
<path d="M401.80 203.80L485.13 218.69L483.93 224.30Z" fill="#a310c1" stroke="#a310c1" stroke-width="0.3"/>
<path d="M401.80 203.80L484.73 222.21L483.29 227.78Z" fill="#a510bf" stroke="#a510bf" stroke-width="0.3"/>
<path d="M401.80 203.80L484.17 225.72L482.50 231.25Z" fill="#a610be" stroke="#a610be" stroke-width="0.3"/>
<path d="M401.80 203.80L483.42 229.20L481.51 234.67Z" fill="#a710bd" stroke="#a710bd" stroke-width="0.3"/>
<path d="M401.80 203.80L482.52 232.65L480.38 238.05Z" fill="#a910bb" stroke="#a910bb" stroke-width="0.3"/>
<path d="M401.80 203.80L481.67 236.16L479.29 241.49Z" fill="#aa10ba" stroke="#aa10ba" stroke-width="0.3"/>
<path d="M401.80 203.80L480.67 239.64L478.06 244.90Z" fill="#ac10b8" stroke="#ac10b8" stroke-width="0.3"/>
<path d="M401.80 203.80L479.51 243.09L476.67 248.26Z" fill="#ad10b7" stroke="#ad10b7" stroke-width="0.3"/>
<path d="M401.80 203.80L478.01 246.40L474.95 251.47Z" fill="#af10b5" stroke="#af10b5" stroke-width="0.3"/>
<path d="M401.80 203.80L476.37 249.66L473.09 254.60Z" fill="#b010b4" stroke="#b010b4" stroke-width="0.3"/>
<path d="M401.80 203.80L474.56 252.83L471.08 257.65Z" fill="#b210b2" stroke="#b210b2" stroke-width="0.3"/>
<path d="M401.80 203.80L472.62 255.93L468.93 260.61Z" fill="#b310b1" stroke="#b310b1" stroke-width="0.3"/>
<path d="M401.80 203.80L470.80 259.16L466.89 263.71Z" fill="#b510af" stroke="#b510af" stroke-width="0.3"/>
<path d="M401.80 203.80L468.83 262.33L464.71 266.73Z" fill="#b610ae" stroke="#b610ae" stroke-width="0.3"/>
<path d="M401.80 203.80L466.67 265.39L462.35 269.64Z" fill="#b810ac" stroke="#b810ac" stroke-width="0.3"/>
<path d="M401.80 203.80L464.38 268.37L459.86 272.46Z" fill="#b910ab" stroke="#b910ab" stroke-width="0.3"/>
<path d="M401.80 203.80L461.95 271.26L457.24 275.18Z" fill="#ba10a9" stroke="#ba10a9" stroke-width="0.3"/>
<path d="M401.80 203.80L459.42 274.10L454.52 277.84Z" fill="#bc10a7" stroke="#bc10a7" stroke-width="0.3"/>
<path d="M401.80 203.80L456.75 276.84L451.68 280.40Z" fill="#bd10a6" stroke="#bd10a6" stroke-width="0.3"/>
<path d="M401.80 203.80L453.95 279.49L448.71 282.84Z" fill="#be10a4" stroke="#be10a4" stroke-width="0.3"/>
<path d="M401.80 203.80L451.41 282.62L445.95 285.80Z" fill="#bf10a3" stroke="#bf10a3" stroke-width="0.3"/>
<path d="M401.80 203.80L448.64 285.58L442.99 288.56Z" fill="#c110a1" stroke="#c110a1" stroke-width="0.3"/>
<path d="M401.80 203.80L445.70 288.44L439.87 291.22Z" fill="#c2109f" stroke="#c2109f" stroke-width="0.3"/>
<path d="M401.80 203.80L442.70 291.37L436.67 293.94Z" fill="#c3109e" stroke="#c3109e" stroke-width="0.3"/>
<path d="M401.80 203.80L439.52 294.21L433.31 296.55Z" fill="#c5109c" stroke="#c5109c" stroke-width="0.3"/>
<path d="M401.80 203.80L436.18 296.92L429.80 299.04Z" fill="#c6109b" stroke="#c6109b" stroke-width="0.3"/>
<path d="M401.80 203.80L432.38 298.58L425.89 300.43Z" fill="#c71099" stroke="#c71099" stroke-width="0.3"/>
<path d="M401.80 203.80L428.49 300.08L421.91 301.66Z" fill="#c81098" stroke="#c81098" stroke-width="0.3"/>
<path d="M401.80 203.80L424.68 302.01L417.97 303.34Z" fill="#ca1096" stroke="#ca1096" stroke-width="0.3"/>
<path d="M401.80 203.80L420.75 303.79L413.93 304.85Z" fill="#cb1094" stroke="#cb1094" stroke-width="0.3"/>
<path d="M401.80 203.80L416.70 305.42L409.79 306.19Z" fill="#cc1093" stroke="#cc1093" stroke-width="0.3"/>
<path d="M401.80 203.80L412.50 306.31L405.53 306.80Z" fill="#cd1091" stroke="#cd1091" stroke-width="0.3"/>
<path d="M401.80 203.80L408.25 307.03L401.24 307.23Z" fill="#cf1090" stroke="#cf1090" stroke-width="0.3"/>
<path d="M401.80 203.80L403.96 307.79L396.91 307.69Z" fill="#d0108e" stroke="#d0108e" stroke-width="0.3"/>
<path d="M401.80 203.80L399.63 308.04L392.57 307.66Z" fill="#d1108d" stroke="#d1108d" stroke-width="0.3"/>
<path d="M401.80 203.80L395.28 308.12L388.23 307.44Z" fill="#d1108b" stroke="#d1108b" stroke-width="0.3"/>
<path d="M401.80 203.80L390.92 308.01L383.89 307.04Z" fill="#d2108a" stroke="#d2108a" stroke-width="0.3"/>
<path d="M401.80 203.80L386.48 308.23L379.44 306.95Z" fill="#d31089" stroke="#d31089" stroke-width="0.3"/>
<path d="M401.80 203.80L382.10 307.79L375.10 306.22Z" fill="#d31088" stroke="#d31088" stroke-width="0.3"/>
<path d="M401.80 203.80L377.72 307.17L370.77 305.30Z" fill="#d41086" stroke="#d41086" stroke-width="0.3"/>
<path d="M401.80 203.80L373.35 306.41L366.46 304.25Z" fill="#d41085" stroke="#d41085" stroke-width="0.3"/>
<path d="M401.80 203.80L368.79 306.11L361.94 303.64Z" fill="#d51084" stroke="#d51084" stroke-width="0.3"/>
<path d="M401.80 203.80L364.38 305.14L357.61 302.37Z" fill="#d61083" stroke="#d61083" stroke-width="0.3"/>
<path d="M401.80 203.80L360.06 303.83L353.38 300.77Z" fill="#d61081" stroke="#d61081" stroke-width="0.3"/>
<path d="M401.80 203.80L355.80 302.31L349.23 298.96Z" fill="#d71080" stroke="#d71080" stroke-width="0.3"/>
<path d="M401.80 203.80L351.54 300.70L345.09 297.07Z" fill="#d8107f" stroke="#d8107f" stroke-width="0.3"/>
<path d="M401.80 203.80L347.18 299.17L340.84 295.25Z" fill="#d8107d" stroke="#d8107d" stroke-width="0.3"/>
<path d="M401.80 203.80L343.12 297.04L336.94 292.85Z" fill="#d9107c" stroke="#d9107c" stroke-width="0.3"/>
<path d="M401.80 203.80L338.83 295.18L332.79 290.71Z" fill="#da107b" stroke="#da107b" stroke-width="0.3"/>
<path d="M401.80 203.80L334.51 293.25L328.61 288.48Z" fill="#da107a" stroke="#da107a" stroke-width="0.3"/>
<path d="M401.80 203.80L330.85 290.37L325.15 285.37Z" fill="#db1078" stroke="#db1078" stroke-width="0.3"/>
<path d="M401.80 203.80L327.31 287.34L321.82 282.11Z" fill="#db1077" stroke="#db1077" stroke-width="0.3"/>
<path d="M401.80 203.80L323.59 284.48L318.31 279.00Z" fill="#dc1076" stroke="#dc1076" stroke-width="0.3"/>
<path d="M401.80 203.80L320.13 281.33L315.06 275.62Z" fill="#dd1074" stroke="#dd1074" stroke-width="0.3"/>
<path d="M401.80 203.80L316.78 278.04L311.95 272.11Z" fill="#dd1072" stroke="#dd1072" stroke-width="0.3"/>
<path d="M401.80 203.80L313.30 274.81L308.70 268.65Z" fill="#de1070" stroke="#de1070" stroke-width="0.3"/>
<path d="M401.80 203.80L309.96 271.41L305.59 265.03Z" fill="#df106e" stroke="#df106e" stroke-width="0.3"/>
<path d="M401.80 203.80L306.74 267.85L302.62 261.27Z" fill="#df0f6c" stroke="#df0f6c" stroke-width="0.3"/>
<path d="M401.80 203.80L303.66 264.15L299.80 257.36Z" fill="#e00f6a" stroke="#e00f6a" stroke-width="0.3"/>
<path d="M401.80 203.80L300.73 260.30L297.13 253.32Z" fill="#e10f68" stroke="#e10f68" stroke-width="0.3"/>
<path d="M401.80 203.80L297.95 256.31L294.63 249.15Z" fill="#e10f66" stroke="#e10f66" stroke-width="0.3"/>
<path d="M401.80 203.80L294.47 252.57L291.41 245.19Z" fill="#e20f64" stroke="#e20f64" stroke-width="0.3"/>
<path d="M401.80 203.80L291.46 248.50L288.68 240.92Z" fill="#e20f62" stroke="#e20f62" stroke-width="0.3"/>
<path d="M401.80 203.80L289.24 244.03L286.77 236.32Z" fill="#e30f60" stroke="#e30f60" stroke-width="0.3"/>
<path d="M401.80 203.80L287.30 239.43L285.15 231.59Z" fill="#e40f5e" stroke="#e40f5e" stroke-width="0.3"/>
<path d="M401.80 203.80L285.28 234.81L283.44 226.84Z" fill="#e40f5c" stroke="#e40f5c" stroke-width="0.3"/>
<path d="M401.80 203.80L283.44 230.08L281.93 222.00Z" fill="#e50f5a" stroke="#e50f5a" stroke-width="0.3"/>
<path d="M401.80 203.80L281.92 225.22L280.75 217.05Z" fill="#e60e58" stroke="#e60e58" stroke-width="0.3"/>
<path d="M401.80 203.80L280.59 220.29L279.75 212.04Z" fill="#e60e56" stroke="#e60e56" stroke-width="0.3"/>
<path d="M401.80 203.80L278.57 215.37L278.07 207.00Z" fill="#e70e54" stroke="#e70e54" stroke-width="0.3"/>
<path d="M401.80 203.80L278.14 210.24L277.99 201.85Z" fill="#e80e52" stroke="#e80e52" stroke-width="0.3"/>
<path d="M401.80 203.80L277.47 205.09L277.67 196.67Z" fill="#e80e50" stroke="#e80e50" stroke-width="0.3"/>
<path d="M401.80 203.80L277.02 199.90L277.57 191.46Z" fill="#e90e4e" stroke="#e90e4e" stroke-width="0.3"/>
<path d="M401.80 203.80L276.78 194.68L277.69 186.23Z" fill="#e90e4c" stroke="#e90e4c" stroke-width="0.3"/>
<path d="M401.80 203.80L276.09 189.35L277.35 180.87Z" fill="#ea0e4a" stroke="#ea0e4a" stroke-width="0.3"/>
<path d="M401.80 203.80L275.50 183.93L277.13 175.42Z" fill="#ea0e48" stroke="#ea0e48" stroke-width="0.3"/>
<path d="M401.80 203.80L275.41 178.49L277.41 169.98Z" fill="#eb0d47" stroke="#eb0d47" stroke-width="0.3"/>
<path d="M401.80 203.80L275.78 173.06L278.15 164.59Z" fill="#eb0d45" stroke="#eb0d45" stroke-width="0.3"/>
<path d="M401.80 203.80L276.42 167.63L279.16 159.22Z" fill="#ec0d43" stroke="#ec0d43" stroke-width="0.3"/>
<path d="M401.80 203.80L277.78 162.36L280.87 154.05Z" fill="#ec0d41" stroke="#ec0d41" stroke-width="0.3"/>
<path d="M401.80 203.80L279.36 157.14L282.80 148.95Z" fill="#ed0d3f" stroke="#ed0d3f" stroke-width="0.3"/>
<path d="M401.80 203.80L281.15 151.98L284.94 143.93Z" fill="#ed0d3e" stroke="#ed0d3e" stroke-width="0.3"/>
<path d="M401.80 203.80L283.41 147.01L287.53 139.12Z" fill="#ee0d3c" stroke="#ee0d3c" stroke-width="0.3"/>
<path d="M401.80 203.80L285.31 141.83L289.78 134.08Z" fill="#ee0d3a" stroke="#ee0d3a" stroke-width="0.3"/>
<path d="M401.80 203.80L287.26 136.60L292.07 129.00Z" fill="#ef0d38" stroke="#ef0d38" stroke-width="0.3"/>
<path d="M401.80 203.80L289.52 131.49L294.67 124.05Z" fill="#f00c36" stroke="#f00c36" stroke-width="0.3"/>
<path d="M401.80 203.80L292.17 126.56L297.66 119.32Z" fill="#f00c35" stroke="#f00c35" stroke-width="0.3"/>
<path d="M401.80 203.80L294.83 121.57L300.64 114.51Z" fill="#f10c33" stroke="#f10c33" stroke-width="0.3"/>
<path d="M401.80 203.80L297.71 116.66L303.85 109.81Z" fill="#f10c31" stroke="#f10c31" stroke-width="0.3"/>
<path d="M401.80 203.80L300.82 111.86L307.28 105.23Z" fill="#f20c2f" stroke="#f20c2f" stroke-width="0.3"/>
<path d="M401.80 203.80L304.15 107.16L310.92 100.76Z" fill="#f20c2d" stroke="#f20c2d" stroke-width="0.3"/>
<path d="M401.80 203.80L307.31 102.17L314.41 96.00Z" fill="#f30c2b" stroke="#f30c2b" stroke-width="0.3"/>
<path d="M401.80 203.80L311.35 98.00L318.72 92.12Z" fill="#f30b29" stroke="#f30b29" stroke-width="0.3"/>
<path d="M401.80 203.80L315.29 93.65L322.95 88.04Z" fill="#f40b27" stroke="#f40b27" stroke-width="0.3"/>
<path d="M401.80 203.80L319.31 89.27L327.26 83.94Z" fill="#f40b25" stroke="#f40b25" stroke-width="0.3"/>
<path d="M401.80 203.80L323.63 85.15L331.85 80.13Z" fill="#f50b23" stroke="#f50b23" stroke-width="0.3"/>
<path d="M401.80 203.80L327.71 80.46L336.24 75.73Z" fill="#f50b21" stroke="#f50b21" stroke-width="0.3"/>
<path d="M401.80 203.80L332.57 76.87L341.33 72.48Z" fill="#f60a1f" stroke="#f60a1f" stroke-width="0.3"/>
<path d="M401.80 203.80L337.68 73.64L346.65 69.60Z" fill="#f60a1d" stroke="#f60a1d" stroke-width="0.3"/>
<path d="M401.80 203.80L342.18 68.88L351.45 65.15Z" fill="#f70a1b" stroke="#f70a1b" stroke-width="0.3"/>
<path d="M401.80 203.80L347.25 65.00L356.77 61.62Z" fill="#f70a19" stroke="#f70a19" stroke-width="0.3"/>
<path d="M401.80 203.80L352.70 61.78L362.43 58.78Z" fill="#f80a17" stroke="#f80a17" stroke-width="0.3"/>
<path d="M401.80 203.80L358.24 58.50L368.18 55.88Z" fill="#f90915" stroke="#f90915" stroke-width="0.3"/>
<path d="M401.80 203.80L364.09 55.92L374.20 53.71Z" fill="#f90913" stroke="#f90913" stroke-width="0.3"/>
<path d="M401.80 203.80L370.21 54.16L380.42 52.36Z" fill="#fa0911" stroke="#fa0911" stroke-width="0.3"/>
<path d="M401.80 203.80L376.34 52.22L386.66 50.85Z" fill="#fa090f" stroke="#fa090f" stroke-width="0.3"/>
<path d="M401.80 203.80L381.78 44.25L392.63 43.26Z" fill="#fb090d" stroke="#fb090d" stroke-width="0.3"/>
<path d="M401.80 203.80L386.36 18.64L398.93 18.02Z" fill="#fb080b" stroke="#fb080b" stroke-width="0.3"/>
<path d="M401.80 203.80L393.82 12.07L401.80 11.90Z" fill="#fc0809" stroke="#fc0809" stroke-width="0.3"/>
<path d="M401.80 195.80L401.80 164.90M402.13 195.81L403.42 164.93M402.46 195.83L407.07 140.62M402.80 195.86L410.49 134.55M403.13 195.91L413.61 133.52M403.45 195.97L416.82 132.63M403.78 196.05L420.13 131.90M404.10 196.14L423.65 130.90M404.41 196.24L427.06 130.75M404.73 196.35L430.26 131.38M405.03 196.48L433.46 132.16M405.34 196.62L436.64 133.07M405.63 196.78L440.01 133.74M405.92 196.94L443.10 135.04M406.20 197.12L446.15 136.49M406.48 197.31L449.00 138.26M406.74 197.51L451.78 140.17M407.00 197.72L454.47 142.19M407.25 197.94L457.01 144.41M407.49 198.17L459.46 146.74M407.72 198.41L461.81 149.16M407.93 198.66L464.19 151.57M408.14 198.92L466.48 154.08M408.34 199.19L468.59 156.74M408.53 199.47L470.59 159.50M408.70 199.75L472.75 162.18M408.86 200.04L474.81 164.96M409.01 200.34L476.51 167.96M409.15 200.64L478.09 171.03M409.28 200.95L479.60 174.15M409.39 201.26L480.99 177.34M409.49 201.58L482.25 180.59M409.57 201.90L483.21 183.94M409.64 202.23L484.00 187.34M409.70 202.56L484.62 190.77M409.75 202.89L485.13 194.22M409.78 203.22L485.54 197.69M409.80 203.55L485.73 201.18M409.80 203.88L485.84 204.67M409.79 204.22L485.80 208.17M409.76 204.55L485.72 211.68M409.73 204.88L485.36 215.17M409.68 205.21L484.85 218.64M409.61 205.53L484.44 222.15M409.53 205.86L483.89 225.64M409.44 206.18L483.19 229.13M409.33 206.49L482.29 232.57M409.21 206.80L481.25 235.99M409.08 207.11L480.25 239.45M408.94 207.41L479.11 242.89M408.78 207.70L477.81 246.29M408.61 207.99L476.17 249.54M408.43 208.27L474.40 252.72M408.24 208.54L472.46 255.82M408.04 208.81L470.39 258.83M407.83 209.06L468.44 261.98M407.60 209.31L466.34 265.06M407.37 209.54L464.06 268.03M407.12 209.77L461.64 270.91M406.87 209.99L459.09 273.71M406.61 210.19L456.44 276.44M406.34 210.39L453.66 279.07M406.06 210.57L450.76 281.59M405.78 210.74L448.08 284.61M405.48 210.90L445.19 287.45M405.19 211.05L442.15 290.19M404.88 211.18L439.02 293.00M404.57 211.30L435.73 295.70M404.26 211.41L432.28 298.27M403.94 211.51L428.41 299.77M403.61 211.59L424.47 301.10M403.29 211.66L420.57 302.88M402.96 211.72L416.57 304.49M402.63 211.76L412.46 305.95M402.30 211.78L408.23 306.67M401.97 211.80L403.95 307.21M401.63 211.80L399.64 307.79M401.30 211.78L395.30 307.86M400.97 211.76L390.95 307.76M400.64 211.72L386.59 307.47M400.31 211.66L382.15 307.50M399.99 211.59L377.79 306.88M399.66 211.51L373.44 306.08M399.34 211.41L369.11 305.14M399.03 211.30L364.56 304.65M398.72 211.18L360.20 303.49M398.41 211.05L355.94 302.00M398.12 210.90L351.74 300.31M397.82 210.74L347.55 298.52M397.54 210.57L343.26 296.81M397.26 210.39L339.29 294.51M396.99 210.19L335.08 292.48M396.73 209.99L330.85 290.37M396.48 209.77L327.31 287.34M396.23 209.54L323.90 284.17M396.00 209.31L320.31 281.16M395.77 209.06L316.97 277.87M395.56 208.81L313.76 274.44M395.36 208.54L310.43 271.06M395.17 208.27L307.22 267.53M394.99 207.99L304.16 263.84M394.82 207.70L301.24 260.01M394.66 207.41L298.47 256.05M394.52 207.11L295.85 251.94M394.39 206.80L292.53 248.06M394.27 206.49L289.69 243.87M394.16 206.18L287.66 239.32M394.07 205.86L285.92 234.63M393.99 205.53L284.09 229.93M393.92 205.21L282.45 225.13M393.87 204.88L281.14 220.22M393.84 204.55L280.01 215.24M393.81 204.22L278.20 210.23M393.80 203.88L277.98 205.09M393.80 203.55L277.52 199.92M393.82 203.22L277.29 194.72M393.85 202.89L277.27 189.49M393.90 202.56L276.80 184.13M393.96 202.23L276.43 178.69M394.03 201.90L276.57 173.25M394.11 201.58L277.17 167.84M394.21 201.26L278.04 162.44M394.32 200.95L279.61 157.24M394.45 200.64L281.40 152.09M394.59 200.34L283.41 147.01M394.74 200.04L285.88 142.13M394.90 199.75L287.99 137.03M395.07 199.47L290.15 131.90M395.26 199.19L292.62 126.88M395.46 198.92L295.48 122.07M395.67 198.66L298.34 117.19M395.88 198.41L301.43 112.41M396.11 198.17L304.73 107.73M396.35 197.94L308.25 103.18M396.60 197.72L311.62 98.32M396.86 197.51L315.83 94.33M397.12 197.31L319.95 90.15M397.40 197.12L324.15 85.93M397.68 196.94L328.64 82.00M397.97 196.78L332.91 77.49M398.26 196.62L337.91 74.10M398.57 196.48L343.15 71.09M398.87 196.35L347.84 66.52M399.19 196.24L353.07 62.85M399.50 196.14L358.65 59.86M399.82 196.05L364.32 56.81M400.15 195.97L370.28 54.48M400.47 195.91L376.46 52.97M400.80 195.86L382.66 51.30M401.14 195.83L388.43 43.56M401.47 195.81L394.07 18.16" stroke="#fff" stroke-opacity="0.18" stroke-width="0.35" fill="none"/>
<g font-size="2.40" fill="#444" stroke="#444" stroke-width="0.14" font-weight="bold" text-rendering="geometricPrecision" style="filter:grayscale(1)"><text transform="translate(402.64 163.21) rotate(-88.81) scale(1 0.87)" dy="0.35em">Sogatella_pseudoobscura&#160;&#160;40</text><text transform="translate(405.86 138.83) rotate(-86.42) scale(1 0.87)" dy="0.35em">Aedes_destructor&#160;&#160;65</text><text transform="translate(409.22 132.69) rotate(-84.04) scale(1 0.87)" dy="0.35em">Drosophila_tabaci&#160;&#160;71</text><text transform="translate(412.39 131.61) rotate(-81.66) scale(1 0.87)" dy="0.35em">Pediculus_migratoria&#160;&#160;73</text><text transform="translate(415.66 130.67) rotate(-79.27) scale(1 0.87)" dy="0.35em">Vespa_melanogaster&#160;&#160;74</text><text transform="translate(419.02 129.88) rotate(-76.89) scale(1 0.87)" dy="0.35em">Sogatella_simulans&#160;&#160;76</text><text transform="translate(422.59 128.83) rotate(-74.50) scale(1 0.87)" dy="0.35em">Fopius_decemlineata&#160;&#160;78</text><text transform="translate(426.05 128.62) rotate(-72.12) scale(1 0.87)" dy="0.35em">Megachile_willistoni&#160;&#160;79</text><text transform="translate(429.34 129.21) rotate(-69.74) scale(1 0.87)" dy="0.35em">Cephus_germanica&#160;&#160;79</text><text transform="translate(432.62 129.94) rotate(-67.35) scale(1 0.87)" dy="0.35em">Lucilia_melpomene&#160;&#160;80</text><text transform="translate(435.88 130.82) rotate(-64.97) scale(1 0.87)" dy="0.35em">Athalia_sennae&#160;&#160;80</text><text transform="translate(439.33 131.45) rotate(-62.58) scale(1 0.87)" dy="0.35em">Polistes_germanica&#160;&#160;81</text><text transform="translate(442.51 132.73) rotate(-60.20) scale(1 0.87)" dy="0.35em">Acyrthosiphon_cecrops&#160;&#160;82</text><text transform="translate(445.64 134.14) rotate(-57.81) scale(1 0.87)" dy="0.35em">Bemisia_pseudoobscura&#160;&#160;82</text><text transform="translate(448.59 135.89) rotate(-55.43) scale(1 0.87)" dy="0.35em">Leptinotarsa_hookeri&#160;&#160;82</text><text transform="translate(451.46 137.78) rotate(-53.05) scale(1 0.87)" dy="0.35em">Danaus_ananassae&#160;&#160;83</text><text transform="translate(454.26 139.80) rotate(-50.66) scale(1 0.87)" dy="0.35em">Sogatella_americana&#160;&#160;83</text><text transform="translate(456.90 142.01) rotate(-48.28) scale(1 0.87)" dy="0.35em">Megachile_frugiperda&#160;&#160;83</text><text transform="translate(459.44 144.33) rotate(-45.89) scale(1 0.87)" dy="0.35em">Trichogramma_vitripennis&#160;&#160;83</text><text transform="translate(461.89 146.75) rotate(-43.51) scale(1 0.87)" dy="0.35em">Orussus_invicta&#160;&#160;83</text><text transform="translate(464.37 149.16) rotate(-41.13) scale(1 0.87)" dy="0.35em">Camponotus_rapae&#160;&#160;83</text><text transform="translate(466.76 151.68) rotate(-38.74) scale(1 0.87)" dy="0.35em">Lerema_germanica&#160;&#160;83</text><text transform="translate(468.97 154.36) rotate(-36.36) scale(1 0.87)" dy="0.35em">Trichogramma_novaeangliae&#160;&#160;83</text><text transform="translate(471.06 157.13) rotate(-33.97) scale(1 0.87)" dy="0.35em">Pieris_armigera&#160;&#160;83</text><text transform="translate(473.32 159.82) rotate(-31.59) scale(1 0.87)" dy="0.35em">Periplaneta_prolixus&#160;&#160;84</text><text transform="translate(475.47 162.62) rotate(-29.21) scale(1 0.87)" dy="0.35em">Fopius_virilis&#160;&#160;84</text><text transform="translate(477.27 165.64) rotate(-26.82) scale(1 0.87)" dy="0.35em">Zootermopsis_capitata&#160;&#160;85</text><text transform="translate(478.94 168.75) rotate(-24.44) scale(1 0.87)" dy="0.35em">Rhodnius_rapae&#160;&#160;85</text><text transform="translate(480.55 171.90) rotate(-22.05) scale(1 0.87)" dy="0.35em">Operophtera_pisum&#160;&#160;85</text><text transform="translate(482.02 175.12) rotate(-19.67) scale(1 0.87)" dy="0.35em">Ephemera_accius&#160;&#160;85</text><text transform="translate(483.37 178.42) rotate(-17.28) scale(1 0.87)" dy="0.35em">Mayetiola_glabripennis&#160;&#160;85</text><text transform="translate(484.43 181.81) rotate(-14.90) scale(1 0.87)" dy="0.35em">Camponotus_domestica&#160;&#160;85</text><text transform="translate(485.30 185.26) rotate(-12.52) scale(1 0.87)" dy="0.35em">Apis_hookeri&#160;&#160;86</text><text transform="translate(486.00 188.75) rotate(-10.13) scale(1 0.87)" dy="0.35em">Phoebis_vitripennis&#160;&#160;86</text><text transform="translate(486.60 192.26) rotate(-7.75) scale(1 0.87)" dy="0.35em">Danaus_destructor&#160;&#160;86</text><text transform="translate(487.09 195.79) rotate(-5.36) scale(1 0.87)" dy="0.35em">Dendroctonus_xuthus&#160;&#160;86</text><text transform="translate(487.36 199.35) rotate(-2.98) scale(1 0.87)" dy="0.35em">Tribolium_canadensis&#160;&#160;86</text><text transform="translate(487.54 202.91) rotate(-0.60) scale(1 0.87)" dy="0.35em">Musca_migratoria&#160;&#160;86</text><text transform="translate(487.57 206.48) rotate(1.79) scale(1 0.87)" dy="0.35em">Papilio_cecrops&#160;&#160;86</text><text transform="translate(487.56 210.06) rotate(4.17) scale(1 0.87)" dy="0.35em">Trichogramma_occidentalis&#160;&#160;86</text><text transform="translate(487.26 213.62) rotate(6.56) scale(1 0.87)" dy="0.35em">Chilo_migratoria&#160;&#160;86</text><text transform="translate(486.82 217.17) rotate(8.94) scale(1 0.87)" dy="0.35em">Bombus_armigera&#160;&#160;86</text><text transform="translate(486.47 220.76) rotate(11.32) scale(1 0.87)" dy="0.35em">Plutella_abietinus&#160;&#160;86</text><text transform="translate(485.98 224.33) rotate(13.71) scale(1 0.87)" dy="0.35em">Locusta_invicta&#160;&#160;87</text><text transform="translate(485.33 227.90) rotate(16.09) scale(1 0.87)" dy="0.35em">Zootermopsis_dorsalis&#160;&#160;87</text><text transform="translate(484.49 231.43) rotate(18.48) scale(1 0.87)" dy="0.35em">Cimex_sexta&#160;&#160;87</text><text transform="translate(483.49 234.93) rotate(20.86) scale(1 0.87)" dy="0.35em">Fopius_planipennis&#160;&#160;87</text><text transform="translate(482.54 238.48) rotate(23.25) scale(1 0.87)" dy="0.35em">Eufriesea_cecrops&#160;&#160;88</text><text transform="translate(481.44 242.01) rotate(25.63) scale(1 0.87)" dy="0.35em">Mayetiola_citri&#160;&#160;88</text><text transform="translate(480.18 245.50) rotate(28.01) scale(1 0.87)" dy="0.35em">Polistes_floridanus&#160;&#160;89</text><text transform="translate(478.58 248.84) rotate(30.40) scale(1 0.87)" dy="0.35em">Plutella_rosae&#160;&#160;89</text><text transform="translate(476.83 252.12) rotate(32.78) scale(1 0.87)" dy="0.35em">Dufourea_brumata&#160;&#160;89</text><text transform="translate(474.92 255.31) rotate(35.17) scale(1 0.87)" dy="0.35em">Plutella_lugens&#160;&#160;89</text><text transform="translate(472.87 258.43) rotate(37.55) scale(1 0.87)" dy="0.35em">Onthophagus_fulva&#160;&#160;90</text><text transform="translate(470.94 261.68) rotate(39.93) scale(1 0.87)" dy="0.35em">Habropoda_germanica&#160;&#160;90</text><text transform="translate(468.85 264.85) rotate(42.32) scale(1 0.87)" dy="0.35em">Solenopsis_rotundata&#160;&#160;91</text><text transform="translate(466.59 267.92) rotate(44.70) scale(1 0.87)" dy="0.35em">Clitarchus_hookeri&#160;&#160;91</text><text transform="translate(464.18 270.90) rotate(47.09) scale(1 0.87)" dy="0.35em">Frankliniella_humile&#160;&#160;92</text><text transform="translate(461.64 273.79) rotate(49.47) scale(1 0.87)" dy="0.35em">Orussus_persimilis&#160;&#160;92</text><text transform="translate(458.99 276.62) rotate(51.85) scale(1 0.87)" dy="0.35em">Diaphorina_grimshawi&#160;&#160;93</text><text transform="translate(456.21 279.35) rotate(54.24) scale(1 0.87)" dy="0.35em">Ceratosolen_laboriosa&#160;&#160;93</text><text transform="translate(453.30 281.97) rotate(56.62) scale(1 0.87)" dy="0.35em">Spodoptera_novaeangliae&#160;&#160;94</text><text transform="translate(450.63 285.09) rotate(59.01) scale(1 0.87)" dy="0.35em">Plutella_frugiperda&#160;&#160;95</text><text transform="translate(447.74 288.02) rotate(61.39) scale(1 0.87)" dy="0.35em">Orussus_pisum&#160;&#160;96</text><text transform="translate(444.68 290.86) rotate(63.77) scale(1 0.87)" dy="0.35em">Dendroctonus_grimshawi&#160;&#160;97</text><text transform="translate(441.55 293.76) rotate(66.16) scale(1 0.87)" dy="0.35em">Musca_grimshawi&#160;&#160;99</text><text transform="translate(438.26 296.55) rotate(68.54) scale(1 0.87)" dy="0.35em">Zootermopsis_laboriosa&#160;&#160;100</text><text transform="translate(434.79 299.22) rotate(70.93) scale(1 0.87)" dy="0.35em">Papilio_tabaci&#160;&#160;101</text><text transform="translate(430.89 300.82) rotate(73.31) scale(1 0.87)" dy="0.35em">Danaus_cecrops&#160;&#160;102</text><text transform="translate(426.91 302.26) rotate(75.70) scale(1 0.87)" dy="0.35em">Spodoptera_saltator&#160;&#160;102</text><text transform="translate(422.98 304.13) rotate(78.08) scale(1 0.87)" dy="0.35em">Pieris_gambiae&#160;&#160;103</text><text transform="translate(418.94 305.84) rotate(80.46) scale(1 0.87)" dy="0.35em">Drosophila_plexippus&#160;&#160;104</text><text transform="translate(414.80 307.39) rotate(82.85) scale(1 0.87)" dy="0.35em">Amyelois_cinctus&#160;&#160;105</text><text transform="translate(410.51 308.21) rotate(85.23) scale(1 0.87)" dy="0.35em">Megachile_cristinae&#160;&#160;105</text><text transform="translate(406.17 308.84) rotate(87.62) scale(1 0.87)" dy="0.35em">Lucilia_invicta&#160;&#160;106</text><text transform="translate(401.80 309.51) rotate(270.00) scale(1 0.87)" dy="0.35em" text-anchor="end">Agrilus_planipennis&#160;&#160;106</text><text transform="translate(397.39 309.67) rotate(272.38) scale(1 0.87)" dy="0.35em" text-anchor="end">Megachile_striatellus&#160;&#160;106</text><text transform="translate(392.97 309.65) rotate(274.77) scale(1 0.87)" dy="0.35em" text-anchor="end">Amyelois_laboriosa&#160;&#160;107</text><text transform="translate(388.54 309.45) rotate(277.15) scale(1 0.87)" dy="0.35em" text-anchor="end">Bombus_humanus&#160;&#160;107</text><text transform="translate(384.03 309.56) rotate(279.54) scale(1 0.87)" dy="0.35em" text-anchor="end">Frankliniella_nevadensis&#160;&#160;108</text><text transform="translate(379.59 309.02) rotate(281.92) scale(1 0.87)" dy="0.35em" text-anchor="end">Bombus_planipennis&#160;&#160;108</text><text transform="translate(375.16 308.30) rotate(284.30) scale(1 0.87)" dy="0.35em" text-anchor="end">Periplaneta_humanus&#160;&#160;108</text><text transform="translate(370.73 307.43) rotate(286.69) scale(1 0.87)" dy="0.35em" text-anchor="end">Pediculus_mojavensis&#160;&#160;109</text><text transform="translate(366.11 307.01) rotate(289.07) scale(1 0.87)" dy="0.35em" text-anchor="end">Aedes_terrestris&#160;&#160;110</text><text transform="translate(361.66 305.92) rotate(291.46) scale(1 0.87)" dy="0.35em" text-anchor="end">Nilaparvata_rotundata&#160;&#160;110</text><text transform="translate(357.30 304.49) rotate(293.84) scale(1 0.87)" dy="0.35em" text-anchor="end">Papilio_xuthus&#160;&#160;111</text><text transform="translate(353.01 302.85) rotate(296.23) scale(1 0.87)" dy="0.35em" text-anchor="end">Lucilia_cristinae&#160;&#160;111</text><text transform="translate(348.72 301.12) rotate(298.61) scale(1 0.87)" dy="0.35em" text-anchor="end">Cimex_invicta&#160;&#160;111</text><text transform="translate(344.33 299.47) rotate(300.99) scale(1 0.87)" dy="0.35em" text-anchor="end">Diachasma_sennae&#160;&#160;112</text><text transform="translate(340.26 297.21) rotate(303.38) scale(1 0.87)" dy="0.35em" text-anchor="end">Chilo_terrestris&#160;&#160;112</text><text transform="translate(335.95 295.23) rotate(305.76) scale(1 0.87)" dy="0.35em" text-anchor="end">Bactrocera_destructor&#160;&#160;113</text><text transform="translate(331.61 293.17) rotate(308.15) scale(1 0.87)" dy="0.35em" text-anchor="end">Onthophagus_ponderosae&#160;&#160;114</text><text transform="translate(327.96 290.17) rotate(310.53) scale(1 0.87)" dy="0.35em" text-anchor="end">Bemisia_glabripennis&#160;&#160;114</text><text transform="translate(324.43 287.02) rotate(312.91) scale(1 0.87)" dy="0.35em" text-anchor="end">Bemisia_americana&#160;&#160;114</text><text transform="translate(320.72 284.04) rotate(315.30) scale(1 0.87)" dy="0.35em" text-anchor="end">Nasonia_mexicana&#160;&#160;115</text><text transform="translate(317.27 280.76) rotate(317.68) scale(1 0.87)" dy="0.35em" text-anchor="end">Fopius_rotundata&#160;&#160;115</text><text transform="translate(313.95 277.34) rotate(320.07) scale(1 0.87)" dy="0.35em" text-anchor="end">Aedes_gambiae&#160;&#160;115</text><text transform="translate(310.50 273.98) rotate(322.45) scale(1 0.87)" dy="0.35em" text-anchor="end">Heliconius_canadensis&#160;&#160;116</text><text transform="translate(307.18 270.46) rotate(324.83) scale(1 0.87)" dy="0.35em" text-anchor="end">Ceratitis_cristinae&#160;&#160;116</text><text transform="translate(304.00 266.78) rotate(327.22) scale(1 0.87)" dy="0.35em" text-anchor="end">Bemisia_nevadensis&#160;&#160;117</text><text transform="translate(300.96 262.95) rotate(329.60) scale(1 0.87)" dy="0.35em" text-anchor="end">Onthophagus_cecrops&#160;&#160;118</text><text transform="translate(298.07 258.98) rotate(331.99) scale(1 0.87)" dy="0.35em" text-anchor="end">Spodoptera_pisum&#160;&#160;118</text><text transform="translate(295.34 254.87) rotate(334.37) scale(1 0.87)" dy="0.35em" text-anchor="end">Dendroctonus_tabaci&#160;&#160;119</text><text transform="translate(291.92 251.00) rotate(336.75) scale(1 0.87)" dy="0.35em" text-anchor="end">Heliconius_lugens&#160;&#160;120</text><text transform="translate(288.96 246.80) rotate(339.14) scale(1 0.87)" dy="0.35em" text-anchor="end">Harpegnathos_furcifera&#160;&#160;121</text><text transform="translate(286.81 242.22) rotate(341.52) scale(1 0.87)" dy="0.35em" text-anchor="end">Cephus_transitella&#160;&#160;122</text><text transform="translate(284.95 237.51) rotate(343.91) scale(1 0.87)" dy="0.35em" text-anchor="end">Chilo_hookeri&#160;&#160;122</text><text transform="translate(283.01 232.78) rotate(346.29) scale(1 0.87)" dy="0.35em" text-anchor="end">Apis_nevadensis&#160;&#160;123</text><text transform="translate(281.25 227.94) rotate(348.68) scale(1 0.87)" dy="0.35em" text-anchor="end">Musca_pisum&#160;&#160;124</text><text transform="translate(279.82 222.99) rotate(351.06) scale(1 0.87)" dy="0.35em" text-anchor="end">Calycopis_germanica&#160;&#160;124</text><text transform="translate(278.59 217.96) rotate(353.44) scale(1 0.87)" dy="0.35em" text-anchor="end">Pediculus_abietinus&#160;&#160;125</text><text transform="translate(276.66 212.93) rotate(355.83) scale(1 0.87)" dy="0.35em" text-anchor="end">Amyelois_sennae&#160;&#160;126</text><text transform="translate(276.33 207.72) rotate(358.21) scale(1 0.87)" dy="0.35em" text-anchor="end">Acyrthosiphon_citri&#160;&#160;126</text></g>
<g font-size="2.40" fill="#fff" fill-opacity="0.60" font-weight="bold" text-rendering="geometricPrecision"><text transform="translate(279.97 202.53) rotate(360.60)" dy="0.35em">Anopheles_floridanus&#160;&#160;127</text><text transform="translate(279.62 197.44) rotate(362.98)" dy="0.35em">Ceratitis_rosae&#160;&#160;127</text><text transform="translate(279.49 192.32) rotate(365.36)" dy="0.35em">Operophtera_danica&#160;&#160;128</text><text transform="translate(278.89 187.08) rotate(367.75)" dy="0.35em">Ceratosolen_plexippus&#160;&#160;129</text><text transform="translate(278.40 181.75) rotate(370.13)" dy="0.35em">Linepithema_accius&#160;&#160;130</text><text transform="translate(278.40 176.41) rotate(372.52)" dy="0.35em">Nilaparvata_transitella&#160;&#160;131</text><text transform="translate(278.86 171.09) rotate(374.90)" dy="0.35em">Camponotus_rotundata&#160;&#160;132</text><text transform="translate(279.59 165.77) rotate(377.28)" dy="0.35em">Ceratosolen_frugiperda&#160;&#160;133</text><text transform="translate(281.02 160.63) rotate(379.67)" dy="0.35em">Camponotus_erecta&#160;&#160;133</text><text transform="translate(282.67 155.54) rotate(382.05)" dy="0.35em">Calycopis_armigera&#160;&#160;134</text><text transform="translate(284.53 150.51) rotate(384.44)" dy="0.35em">Phoebis_pseudoobscura&#160;&#160;134</text><text transform="translate(286.85 145.68) rotate(386.82)" dy="0.35em">Anopheles_pseudoobscura&#160;&#160;134</text><text transform="translate(288.81 140.64) rotate(389.21)" dy="0.35em">Leptinotarsa_cristinae&#160;&#160;135</text><text transform="translate(290.81 135.55) rotate(391.59)" dy="0.35em">Bactrocera_gambiae&#160;&#160;135</text><text transform="translate(293.12 130.57) rotate(393.97)" dy="0.35em">Zootermopsis_danica&#160;&#160;136</text><text transform="translate(295.82 125.78) rotate(396.36)" dy="0.35em">Pediculus_lectularius&#160;&#160;137</text><text transform="translate(298.51 120.93) rotate(398.74)" dy="0.35em">Orussus_accius&#160;&#160;138</text><text transform="translate(301.43 116.16) rotate(401.13)" dy="0.35em">Eufriesea_laboriosa&#160;&#160;138</text><text transform="translate(304.57 111.50) rotate(403.51)" dy="0.35em">Calycopis_calcitrans&#160;&#160;139</text><text transform="translate(307.92 106.94) rotate(405.89)" dy="0.35em">Sogatella_mellifera&#160;&#160;140</text><text transform="translate(311.11 102.09) rotate(408.28)" dy="0.35em">Bombus_capitata&#160;&#160;142</text><text transform="translate(315.15 98.08) rotate(410.66)" dy="0.35em">Frankliniella_dorsalis&#160;&#160;142</text><text transform="translate(319.10 93.87) rotate(413.05)" dy="0.35em">Drosophila_melpomene&#160;&#160;143</text><text transform="translate(323.13 89.63) rotate(415.43)" dy="0.35em">Solenopsis_yakuba&#160;&#160;144</text><text transform="translate(327.45 85.67) rotate(417.81)" dy="0.35em">Ceratosolen_laboriosa&#160;&#160;145</text><text transform="translate(331.54 81.12) rotate(420.20)" dy="0.35em">Diachasma_cuprina&#160;&#160;147</text><text transform="translate(336.38 77.68) rotate(422.58)" dy="0.35em">Ceratitis_erecta&#160;&#160;147</text><text transform="translate(341.46 74.60) rotate(424.97)" dy="0.35em">Ceratosolen_americana&#160;&#160;148</text><text transform="translate(345.96 69.98) rotate(427.35)" dy="0.35em">Chilo_germanica&#160;&#160;150</text><text transform="translate(351.01 66.24) rotate(429.74)" dy="0.35em">Harpegnathos_aegypti&#160;&#160;152</text><text transform="translate(356.43 63.16) rotate(432.12)" dy="0.35em">Polistes_lectularius&#160;&#160;153</text><text transform="translate(361.94 60.04) rotate(434.50)" dy="0.35em">Phoebis_cuprina&#160;&#160;155</text><text transform="translate(367.75 57.60) rotate(436.89)" dy="0.35em">Chilo_striatellus&#160;&#160;156</text><text transform="translate(373.79 55.99) rotate(439.27)" dy="0.35em">Harpegnathos_domestica&#160;&#160;156</text><text transform="translate(379.86 54.20) rotate(441.66)" dy="0.35em">Solenopsis_destructor&#160;&#160;157</text><text transform="translate(385.36 46.36) rotate(444.04)" dy="0.35em">Pieris_virilis&#160;&#160;164</text><text transform="translate(390.37 20.86) rotate(446.42)" dy="0.35em">Fopius_melanogaster&#160;&#160;190</text><text transform="translate(397.86 14.44) rotate(448.81)" dy="0.35em">Chilo_migratoria&#160;&#160;196</text></g>
<circle cx="401.80" cy="203.80" r="23.55" fill="#fff" fill-opacity="0.22"/>
<circle cx="401.80" cy="203.80" r="16.09" fill="#fff" fill-opacity="0.28"/>
<circle cx="401.80" cy="203.80" r="7.85" fill="#fff"/>
<!-- chart C -->
<path d="M144.20 585.40L144.20 558.40L146.03 558.46Z" fill="#2c10f4" stroke="#2c10f4" stroke-width="0.3"/>
<path d="M144.20 585.40L145.73 548.54L148.23 548.73Z" fill="#3010f3" stroke="#3010f3" stroke-width="0.3"/>
<path d="M144.20 585.40L147.46 546.30L150.10 546.61Z" fill="#3310f2" stroke="#3310f2" stroke-width="0.3"/>
<path d="M144.20 585.40L149.42 543.79L152.23 544.24Z" fill="#3710f1" stroke="#3710f1" stroke-width="0.3"/>
<path d="M144.20 585.40L151.38 542.69L154.25 543.27Z" fill="#3b10f0" stroke="#3b10f0" stroke-width="0.3"/>
<path d="M144.20 585.40L153.43 541.68L156.37 542.40Z" fill="#3e10ef" stroke="#3e10ef" stroke-width="0.3"/>
<path d="M144.20 585.40L155.25 542.05L158.16 542.90Z" fill="#4210ee" stroke="#4210ee" stroke-width="0.3"/>
<path d="M144.20 585.40L157.06 542.51L159.94 543.48Z" fill="#4610ed" stroke="#4610ed" stroke-width="0.3"/>
<path d="M144.20 585.40L159.62 540.80L162.61 541.95Z" fill="#4a10ec" stroke="#4a10ec" stroke-width="0.3"/>
<path d="M144.20 585.40L161.92 540.32L164.93 541.62Z" fill="#4d10ea" stroke="#4d10ea" stroke-width="0.3"/>
<path d="M144.20 585.40L164.28 539.95L167.32 541.41Z" fill="#5110e9" stroke="#5110e9" stroke-width="0.3"/>
<path d="M144.20 585.40L166.71 539.70L169.75 541.33Z" fill="#5510e8" stroke="#5510e8" stroke-width="0.3"/>
<path d="M144.20 585.40L168.77 540.35L171.77 542.12Z" fill="#5810e7" stroke="#5810e7" stroke-width="0.3"/>
<path d="M144.20 585.40L170.82 541.09L173.76 543.00Z" fill="#5c10e6" stroke="#5c10e6" stroke-width="0.3"/>
<path d="M144.20 585.40L172.82 541.96L175.70 544.00Z" fill="#6010e5" stroke="#6010e5" stroke-width="0.3"/>
<path d="M144.20 585.40L174.60 543.19L177.39 545.34Z" fill="#6310e4" stroke="#6310e4" stroke-width="0.3"/>
<path d="M144.20 585.40L176.33 544.49L179.03 546.76Z" fill="#6710e3" stroke="#6710e3" stroke-width="0.3"/>
<path d="M144.20 585.40L178.19 545.64L180.81 548.04Z" fill="#6b10e2" stroke="#6b10e2" stroke-width="0.3"/>
<path d="M144.20 585.40L180.22 546.66L182.76 549.19Z" fill="#6f10e0" stroke="#6f10e0" stroke-width="0.3"/>
<path d="M144.20 585.40L182.48 547.51L184.96 550.19Z" fill="#7110df" stroke="#7110df" stroke-width="0.3"/>
<path d="M144.20 585.40L184.26 548.92L186.64 551.72Z" fill="#7410de" stroke="#7410de" stroke-width="0.3"/>
<path d="M144.20 585.40L185.99 550.42L188.26 553.33Z" fill="#7610dd" stroke="#7610dd" stroke-width="0.3"/>
<path d="M144.20 585.40L187.97 551.76L190.15 554.80Z" fill="#7810db" stroke="#7810db" stroke-width="0.3"/>
<path d="M144.20 585.40L189.91 553.20L191.99 556.37Z" fill="#7b10da" stroke="#7b10da" stroke-width="0.3"/>
<path d="M144.20 585.40L192.52 554.28L194.51 557.63Z" fill="#7d10d9" stroke="#7d10d9" stroke-width="0.3"/>
<path d="M144.20 585.40L195.01 555.59L196.92 559.10Z" fill="#7f10d8" stroke="#7f10d8" stroke-width="0.3"/>
<path d="M144.20 585.40L196.21 557.73L197.97 561.32Z" fill="#8210d6" stroke="#8210d6" stroke-width="0.3"/>
<path d="M144.20 585.40L197.32 559.92L198.92 563.57Z" fill="#8410d5" stroke="#8410d5" stroke-width="0.3"/>
<path d="M144.20 585.40L198.33 562.15L199.78 565.87Z" fill="#8610d4" stroke="#8610d4" stroke-width="0.3"/>
<path d="M144.20 585.40L199.25 564.42L200.55 568.20Z" fill="#8910d2" stroke="#8910d2" stroke-width="0.3"/>
<path d="M144.20 585.40L200.08 566.73L201.21 570.56Z" fill="#8b10d1" stroke="#8b10d1" stroke-width="0.3"/>
<path d="M144.20 585.40L200.80 569.07L201.78 572.94Z" fill="#8d10d0" stroke="#8d10d0" stroke-width="0.3"/>
<path d="M144.20 585.40L201.43 571.44L202.25 575.35Z" fill="#9010cf" stroke="#9010cf" stroke-width="0.3"/>
<path d="M144.20 585.40L201.97 573.83L202.62 577.77Z" fill="#9210cd" stroke="#9210cd" stroke-width="0.3"/>
<path d="M144.20 585.40L202.46 576.23L202.95 580.20Z" fill="#9410cc" stroke="#9410cc" stroke-width="0.3"/>
<path d="M144.20 585.40L203.21 578.62L203.53 582.63Z" fill="#9710cb" stroke="#9710cb" stroke-width="0.3"/>
<path d="M144.20 585.40L203.86 581.05L204.01 585.10Z" fill="#9910ca" stroke="#9910ca" stroke-width="0.3"/>
<path d="M144.20 585.40L204.49 583.52L204.48 587.61Z" fill="#9b10c8" stroke="#9b10c8" stroke-width="0.3"/>
<path d="M144.20 585.40L205.01 586.03L204.83 590.15Z" fill="#9d10c7" stroke="#9d10c7" stroke-width="0.3"/>
<path d="M144.20 585.40L205.44 588.59L205.08 592.73Z" fill="#9f10c5" stroke="#9f10c5" stroke-width="0.3"/>
<path d="M144.20 585.40L205.71 591.18L205.18 595.33Z" fill="#a010c4" stroke="#a010c4" stroke-width="0.3"/>
<path d="M144.20 585.40L205.42 593.73L204.72 597.86Z" fill="#a210c2" stroke="#a210c2" stroke-width="0.3"/>
<path d="M144.20 585.40L205.38 596.33L204.50 600.45Z" fill="#a310c1" stroke="#a310c1" stroke-width="0.3"/>
<path d="M144.20 585.40L205.26 598.95L204.20 603.06Z" fill="#a510bf" stroke="#a510bf" stroke-width="0.3"/>
<path d="M144.20 585.40L204.87 601.54L203.64 605.62Z" fill="#a610be" stroke="#a610be" stroke-width="0.3"/>
<path d="M144.20 585.40L204.37 604.12L202.96 608.16Z" fill="#a710bd" stroke="#a710bd" stroke-width="0.3"/>
<path d="M144.20 585.40L203.76 606.69L202.18 610.68Z" fill="#a910bb" stroke="#a910bb" stroke-width="0.3"/>
<path d="M144.20 585.40L203.04 609.24L201.29 613.17Z" fill="#aa10ba" stroke="#aa10ba" stroke-width="0.3"/>
<path d="M144.20 585.40L202.21 611.76L200.29 615.63Z" fill="#ac10b8" stroke="#ac10b8" stroke-width="0.3"/>
<path d="M144.20 585.40L201.28 614.26L199.19 618.06Z" fill="#ad10b7" stroke="#ad10b7" stroke-width="0.3"/>
<path d="M144.20 585.40L200.23 616.72L197.98 620.45Z" fill="#af10b5" stroke="#af10b5" stroke-width="0.3"/>
<path d="M144.20 585.40L199.08 619.15L196.67 622.79Z" fill="#b010b4" stroke="#b010b4" stroke-width="0.3"/>
<path d="M144.20 585.40L197.80 621.52L195.23 625.06Z" fill="#b210b2" stroke="#b210b2" stroke-width="0.3"/>
<path d="M144.20 585.40L196.41 623.83L193.69 627.28Z" fill="#b310b1" stroke="#b310b1" stroke-width="0.3"/>
<path d="M144.20 585.40L195.07 626.22L192.19 629.57Z" fill="#b510af" stroke="#b510af" stroke-width="0.3"/>
<path d="M144.20 585.40L193.63 628.56L190.59 631.81Z" fill="#b610ae" stroke="#b610ae" stroke-width="0.3"/>
<path d="M144.20 585.40L191.99 630.76L188.80 633.90Z" fill="#b810ac" stroke="#b810ac" stroke-width="0.3"/>
<path d="M144.20 585.40L190.12 632.77L186.80 635.77Z" fill="#b910ab" stroke="#b910ab" stroke-width="0.3"/>
<path d="M144.20 585.40L188.11 634.64L184.67 637.50Z" fill="#ba10a9" stroke="#ba10a9" stroke-width="0.3"/>
<path d="M144.20 585.40L186.42 636.91L182.83 639.65Z" fill="#bc10a7" stroke="#bc10a7" stroke-width="0.3"/>
<path d="M144.20 585.40L184.73 639.27L180.99 641.90Z" fill="#bd10a6" stroke="#bd10a6" stroke-width="0.3"/>
<path d="M144.20 585.40L182.92 641.59L179.02 644.08Z" fill="#be10a4" stroke="#be10a4" stroke-width="0.3"/>
<path d="M144.20 585.40L180.64 643.30L176.64 645.64Z" fill="#bf10a3" stroke="#bf10a3" stroke-width="0.3"/>
<path d="M144.20 585.40L178.30 644.93L174.18 647.10Z" fill="#c110a1" stroke="#c110a1" stroke-width="0.3"/>
<path d="M144.20 585.40L175.87 646.46L171.66 648.46Z" fill="#c2109f" stroke="#c2109f" stroke-width="0.3"/>
<path d="M144.20 585.40L173.50 648.15L169.19 649.99Z" fill="#c3109e" stroke="#c3109e" stroke-width="0.3"/>
<path d="M144.20 585.40L171.02 649.67L166.60 651.33Z" fill="#c5109c" stroke="#c5109c" stroke-width="0.3"/>
<path d="M144.20 585.40L168.61 651.50L164.07 653.00Z" fill="#c6109b" stroke="#c6109b" stroke-width="0.3"/>
<path d="M144.20 585.40L165.98 652.90L161.35 654.22Z" fill="#c71099" stroke="#c71099" stroke-width="0.3"/>
<path d="M144.20 585.40L163.27 654.19L158.57 655.32Z" fill="#c81098" stroke="#c81098" stroke-width="0.3"/>
<path d="M144.20 585.40L160.47 655.25L155.70 656.19Z" fill="#ca1096" stroke="#ca1096" stroke-width="0.3"/>
<path d="M144.20 585.40L157.61 656.19L152.79 656.93Z" fill="#cb1094" stroke="#cb1094" stroke-width="0.3"/>
<path d="M144.20 585.40L154.70 657.01L149.83 657.56Z" fill="#cc1093" stroke="#cc1093" stroke-width="0.3"/>
<path d="M144.20 585.40L151.72 657.43L146.82 657.78Z" fill="#cd1091" stroke="#cd1091" stroke-width="0.3"/>
<path d="M144.20 585.40L148.72 657.73L143.81 657.87Z" fill="#cf1090" stroke="#cf1090" stroke-width="0.3"/>
<path d="M144.20 585.40L145.72 658.65L140.76 658.59Z" fill="#d0108e" stroke="#d0108e" stroke-width="0.3"/>
<path d="M144.20 585.40L142.66 659.44L137.65 659.17Z" fill="#d1108d" stroke="#d1108d" stroke-width="0.3"/>
<path d="M144.20 585.40L139.55 659.87L134.51 659.38Z" fill="#d1108b" stroke="#d1108b" stroke-width="0.3"/>
<path d="M144.20 585.40L136.39 660.16L131.35 659.46Z" fill="#d2108a" stroke="#d2108a" stroke-width="0.3"/>
<path d="M144.20 585.40L133.22 660.27L128.17 659.35Z" fill="#d31089" stroke="#d31089" stroke-width="0.3"/>
<path d="M144.20 585.40L130.02 660.24L124.98 659.11Z" fill="#d31088" stroke="#d31088" stroke-width="0.3"/>
<path d="M144.20 585.40L126.81 660.05L121.80 658.70Z" fill="#d41086" stroke="#d41086" stroke-width="0.3"/>
<path d="M144.20 585.40L123.60 659.71L118.61 658.15Z" fill="#d41085" stroke="#d41085" stroke-width="0.3"/>
<path d="M144.20 585.40L120.43 659.06L115.50 657.28Z" fill="#d51084" stroke="#d51084" stroke-width="0.3"/>
<path d="M144.20 585.40L117.29 658.28L112.42 656.29Z" fill="#d61083" stroke="#d61083" stroke-width="0.3"/>
<path d="M144.20 585.40L113.87 658.09L109.02 655.87Z" fill="#d61081" stroke="#d61081" stroke-width="0.3"/>
<path d="M144.20 585.40L110.05 658.52L105.18 656.04Z" fill="#d71080" stroke="#d71080" stroke-width="0.3"/>
<path d="M144.20 585.40L106.15 658.75L101.27 656.01Z" fill="#d8107f" stroke="#d8107f" stroke-width="0.3"/>
<path d="M144.20 585.40L102.17 658.79L97.29 655.77Z" fill="#d8107d" stroke="#d8107d" stroke-width="0.3"/>
<path d="M144.20 585.40L98.98 657.25L94.21 654.03Z" fill="#d9107c" stroke="#d9107c" stroke-width="0.3"/>
<path d="M144.20 585.40L95.84 655.58L91.19 652.15Z" fill="#da107b" stroke="#da107b" stroke-width="0.3"/>
<path d="M144.20 585.40L92.35 654.33L87.80 650.66Z" fill="#da107a" stroke="#da107a" stroke-width="0.3"/>
<path d="M144.20 585.40L88.56 653.29L84.08 649.37Z" fill="#db1078" stroke="#db1078" stroke-width="0.3"/>
<path d="M144.20 585.40L84.76 652.06L80.39 647.88Z" fill="#db1077" stroke="#db1077" stroke-width="0.3"/>
<path d="M144.20 585.40L80.98 650.62L76.71 646.19Z" fill="#dc1076" stroke="#dc1076" stroke-width="0.3"/>
<path d="M144.20 585.40L77.21 648.99L73.06 644.31Z" fill="#dd1074" stroke="#dd1074" stroke-width="0.3"/>
<path d="M144.20 585.40L73.48 647.15L69.46 642.22Z" fill="#dd1072" stroke="#dd1072" stroke-width="0.3"/>
<path d="M144.20 585.40L69.78 645.11L65.91 639.93Z" fill="#de1070" stroke="#de1070" stroke-width="0.3"/>
<path d="M144.20 585.40L66.13 642.87L62.42 637.45Z" fill="#df106e" stroke="#df106e" stroke-width="0.3"/>
<path d="M144.20 585.40L63.26 639.94L59.75 634.33Z" fill="#df0f6c" stroke="#df0f6c" stroke-width="0.3"/>
<path d="M144.20 585.40L59.45 637.51L56.12 631.65Z" fill="#e00f6a" stroke="#e00f6a" stroke-width="0.3"/>
<path d="M144.20 585.40L57.30 633.98L54.21 627.98Z" fill="#e10f68" stroke="#e10f68" stroke-width="0.3"/>
<path d="M144.20 585.40L54.84 630.58L51.98 624.42Z" fill="#e10f66" stroke="#e10f66" stroke-width="0.3"/>
<path d="M144.20 585.40L52.90 626.89L50.30 620.61Z" fill="#e20f64" stroke="#e20f64" stroke-width="0.3"/>
<path d="M144.20 585.40L49.65 623.70L47.27 617.21Z" fill="#e20f62" stroke="#e20f62" stroke-width="0.3"/>
<path d="M144.20 585.40L46.51 620.32L44.37 613.62Z" fill="#e30f60" stroke="#e30f60" stroke-width="0.3"/>
<path d="M144.20 585.40L43.49 616.74L41.60 609.84Z" fill="#e40f5e" stroke="#e40f5e" stroke-width="0.3"/>
<path d="M144.20 585.40L40.60 612.97L38.97 605.89Z" fill="#e40f5c" stroke="#e40f5c" stroke-width="0.3"/>
<path d="M144.20 585.40L38.07 608.96L36.72 601.72Z" fill="#e50f5a" stroke="#e50f5a" stroke-width="0.3"/>
<path d="M144.20 585.40L35.14 604.89L34.07 597.46Z" fill="#e60e58" stroke="#e60e58" stroke-width="0.3"/>
<path d="M144.20 585.40L34.10 600.38L33.34 592.89Z" fill="#e60e56" stroke="#e60e56" stroke-width="0.3"/>
<path d="M144.20 585.40L33.57 595.79L33.12 588.27Z" fill="#e70e54" stroke="#e70e54" stroke-width="0.3"/>
<path d="M144.20 585.40L32.68 591.21L32.54 583.64Z" fill="#e80e52" stroke="#e80e52" stroke-width="0.3"/>
<path d="M144.20 585.40L31.89 586.57L32.06 578.96Z" fill="#e80e50" stroke="#e80e50" stroke-width="0.3"/>
<path d="M144.20 585.40L31.28 581.87L31.78 574.23Z" fill="#e90e4e" stroke="#e90e4e" stroke-width="0.3"/>
<path d="M144.20 585.40L30.88 577.13L31.70 569.48Z" fill="#e90e4c" stroke="#e90e4c" stroke-width="0.3"/>
<path d="M144.20 585.40L30.67 572.35L31.82 564.69Z" fill="#ea0e4a" stroke="#ea0e4a" stroke-width="0.3"/>
<path d="M144.20 585.40L30.67 567.54L32.14 559.89Z" fill="#ea0e48" stroke="#ea0e48" stroke-width="0.3"/>
<path d="M144.20 585.40L29.67 562.46L31.49 554.76Z" fill="#eb0d47" stroke="#eb0d47" stroke-width="0.3"/>
<path d="M144.20 585.40L28.91 557.28L31.08 549.53Z" fill="#eb0d45" stroke="#eb0d45" stroke-width="0.3"/>
<path d="M144.20 585.40L27.39 551.70L29.94 543.86Z" fill="#ec0d43" stroke="#ec0d43" stroke-width="0.3"/>
<path d="M144.20 585.40L25.78 545.83L28.74 537.90Z" fill="#ec0d41" stroke="#ec0d41" stroke-width="0.3"/>
<path d="M144.20 585.40L22.68 539.09L26.09 530.97Z" fill="#ed0d3f" stroke="#ed0d3f" stroke-width="0.3"/>
<path d="M144.20 585.40L19.94 532.03L23.84 523.73Z" fill="#ed0d3e" stroke="#ed0d3e" stroke-width="0.3"/>
<path d="M144.20 585.40L17.58 524.66L21.99 516.22Z" fill="#ee0d3c" stroke="#ee0d3c" stroke-width="0.3"/>
<path d="M144.20 585.40L17.15 517.81L22.02 509.36Z" fill="#ee0d3a" stroke="#ee0d3a" stroke-width="0.3"/>
<path d="M144.20 585.40L17.77 511.23L23.08 502.84Z" fill="#ef0d38" stroke="#ef0d38" stroke-width="0.3"/>
<path d="M144.20 585.40L19.82 505.30L25.53 497.06Z" fill="#f00c36" stroke="#f00c36" stroke-width="0.3"/>
<path d="M144.20 585.40L21.58 499.01L27.72 490.91Z" fill="#f00c35" stroke="#f00c35" stroke-width="0.3"/>
<path d="M144.20 585.40L24.54 493.41L31.04 485.52Z" fill="#f10c33" stroke="#f10c33" stroke-width="0.3"/>
<path d="M144.20 585.40L26.64 486.98L33.57 479.25Z" fill="#f10c31" stroke="#f10c31" stroke-width="0.3"/>
<path d="M144.20 585.40L30.41 481.79L37.69 474.32Z" fill="#f20c2f" stroke="#f20c2f" stroke-width="0.3"/>
<path d="M144.20 585.40L34.16 476.50L41.79 469.30Z" fill="#f20c2d" stroke="#f20c2d" stroke-width="0.3"/>
<path d="M144.20 585.40L37.68 470.83L45.69 463.88Z" fill="#f30c2b" stroke="#f30c2b" stroke-width="0.3"/>
<path d="M144.20 585.40L41.46 465.24L49.84 458.55Z" fill="#f30b29" stroke="#f30b29" stroke-width="0.3"/>
<path d="M144.20 585.40L46.18 460.59L54.86 454.24Z" fill="#f40b27" stroke="#f40b27" stroke-width="0.3"/>
<path d="M144.20 585.40L50.05 454.68L59.13 448.60Z" fill="#f40b25" stroke="#f40b25" stroke-width="0.3"/>
<path d="M144.20 585.40L54.20 448.79L63.66 443.01Z" fill="#f50b23" stroke="#f50b23" stroke-width="0.3"/>
<path d="M144.20 585.40L58.72 443.10L68.56 437.64Z" fill="#f50b21" stroke="#f50b21" stroke-width="0.3"/>
<path d="M144.20 585.40L63.76 437.91L73.93 432.80Z" fill="#f60a1f" stroke="#f60a1f" stroke-width="0.3"/>
<path d="M144.20 585.40L66.87 428.41L77.68 423.54Z" fill="#f60a1d" stroke="#f60a1d" stroke-width="0.3"/>
<path d="M144.20 585.40L73.46 425.33L84.47 420.91Z" fill="#f70a1b" stroke="#f70a1b" stroke-width="0.3"/>
<path d="M144.20 585.40L79.09 419.74L90.46 415.71Z" fill="#f70a19" stroke="#f70a19" stroke-width="0.3"/>
<path d="M144.20 585.40L86.03 417.17L97.56 413.62Z" fill="#f80a17" stroke="#f80a17" stroke-width="0.3"/>
<path d="M144.20 585.40L93.08 414.90L104.75 411.83Z" fill="#f90915" stroke="#f90915" stroke-width="0.3"/>
<path d="M144.20 585.40L98.61 406.62L110.83 403.94Z" fill="#f90913" stroke="#f90913" stroke-width="0.3"/>
<path d="M144.20 585.40L106.09 404.88L118.41 402.71Z" fill="#fa0911" stroke="#fa0911" stroke-width="0.3"/>
<path d="M144.20 585.40L113.63 403.45L126.03 401.80Z" fill="#fa090f" stroke="#fa090f" stroke-width="0.3"/>
<path d="M144.20 585.40L121.23 402.34L133.68 401.20Z" fill="#fb090d" stroke="#fb090d" stroke-width="0.3"/>
<path d="M144.20 585.40L128.55 397.75L141.29 397.12Z" fill="#fb080b" stroke="#fb080b" stroke-width="0.3"/>
<path d="M144.20 585.40L136.21 393.47L144.20 393.30Z" fill="#fc0809" stroke="#fc0809" stroke-width="0.3"/>
<path d="M144.20 577.40L144.20 558.40M144.53 577.41L145.32 558.42M144.86 577.43L147.27 548.64M145.20 577.46L149.09 546.47M145.53 577.51L151.15 544.05M145.85 577.57L153.15 543.02M146.18 577.65L155.24 542.10M146.50 577.74L157.05 542.55M146.81 577.84L158.83 543.08M147.13 577.95L161.46 541.48M147.43 578.08L163.78 541.09M147.74 578.22L166.16 540.82M148.03 578.38L168.59 540.68M148.32 578.54L170.62 541.41M148.60 578.72L172.64 542.24M148.88 578.91L174.60 543.19M149.14 579.11L176.33 544.49M149.40 579.32L178.00 545.86M149.65 579.54L179.82 547.09M149.89 579.77L181.80 548.19M150.12 580.01L184.03 549.14M150.33 580.26L185.74 550.62M150.54 580.52L187.41 552.19M150.74 580.79L189.33 553.60M150.93 581.07L191.21 555.13M151.10 581.35L193.77 556.32M151.26 581.64L196.21 557.73M151.41 581.94L197.32 559.92M151.55 582.24L198.33 562.15M151.68 582.55L199.25 564.42M151.79 582.86L200.08 566.73M151.89 583.18L200.80 569.07M151.97 583.50L201.43 571.44M152.04 583.83L201.97 573.83M152.10 584.16L202.40 576.24M152.15 584.49L202.79 578.67M152.18 584.82L203.44 581.08M152.20 585.15L203.99 583.53M152.20 585.48L204.51 586.03M152.19 585.82L204.94 588.56M152.16 586.15L205.25 591.13M152.13 586.48L205.42 593.73M152.08 586.81L205.02 596.27M152.01 587.13L204.87 598.87M151.93 587.46L204.64 601.48M151.84 587.78L204.15 604.05M151.73 588.09L203.54 606.61M151.61 588.40L202.82 609.15M151.48 588.71L202.00 611.66M151.34 589.01L201.07 614.15M151.18 589.30L200.03 616.61M151.01 589.59L198.88 619.03M150.83 589.87L197.63 621.40M150.64 590.14L196.25 623.71M150.44 590.41L194.77 625.97M150.23 590.66L193.33 628.30M150.00 590.91L191.79 630.58M149.77 591.14L190.06 632.71M149.52 591.37L188.11 634.64M149.27 591.59L186.02 636.43M149.01 591.79L184.24 638.62M148.74 591.99L182.45 640.91M148.46 592.17L180.54 643.15M148.18 592.34L178.20 644.77M147.88 592.50L175.79 646.30M147.59 592.65L173.30 647.72M147.28 592.78L170.87 649.31M146.97 592.90L168.32 650.73M146.66 593.01L165.84 652.46M146.34 593.11L163.15 653.75M146.01 593.19L160.39 654.92M145.69 593.26L157.55 655.86M145.36 593.32L154.66 656.68M145.03 593.36L151.72 657.39M144.70 593.38L148.72 657.69M144.37 593.40L145.71 657.86M144.03 593.40L142.68 658.65M143.70 593.38L139.58 659.31M143.37 593.36L136.45 659.61M143.04 593.32L133.29 659.77M142.71 593.26L130.11 659.75M142.39 593.19L126.92 659.59M142.06 593.11L123.72 659.26M141.74 593.01L120.52 658.79M141.43 592.90L117.39 658.01M141.12 592.78L114.28 657.10M140.81 592.65L110.87 656.76M140.52 592.50L107.04 657.03M140.22 592.34L103.13 657.11M139.94 592.17L99.15 656.97M139.66 591.99L96.03 655.31M139.39 591.79L92.96 653.51M139.13 591.59L89.52 652.11M138.88 591.37L85.78 650.92M138.63 591.14L82.04 649.53M138.40 590.91L78.32 647.94M138.17 590.66L74.63 646.15M137.96 590.41L70.97 644.16M137.76 590.14L67.36 641.96M137.57 589.87L63.81 639.57M137.39 589.59L61.06 636.53M137.22 589.30L57.36 633.94M137.06 589.01L55.36 630.32M136.92 588.71L53.04 626.82M136.79 588.40L51.25 623.05M136.67 588.09L48.14 619.74M136.56 587.78L45.14 616.22M136.47 587.46L42.27 612.52M136.39 587.13L39.55 608.63M136.32 586.81L37.18 604.53M136.27 586.48L34.42 600.34M136.24 586.15L33.57 595.79M136.21 585.82L33.24 591.18M136.20 585.48L32.54 586.56M136.20 585.15L31.93 581.90M136.22 584.82L31.53 577.18M136.25 584.49L31.32 572.43M136.30 584.16L31.31 567.64M136.36 583.83L31.51 562.83M136.43 583.50L30.73 557.72M136.51 583.18L30.18 552.50M136.61 582.86L28.89 546.87M136.72 582.55L27.53 540.94M136.85 582.24L24.71 534.08M136.99 581.94L22.26 526.90M137.14 581.64L20.22 519.44M137.30 581.35L20.07 512.58M137.47 581.07L20.96 506.04M137.66 580.79L23.26 500.19M137.86 580.52L25.28 493.99M138.07 580.26L28.47 488.52M138.28 580.01L30.83 482.18M138.51 579.77L34.82 477.15M138.75 579.54L38.79 472.02M139.00 579.32L42.54 466.50M139.26 579.11L46.55 461.07M139.52 578.91L51.45 456.62M139.80 578.72L55.57 450.88M140.08 578.54L59.96 445.16M140.37 578.38L64.71 439.67M140.66 578.22L69.96 434.69M140.97 578.08L73.46 425.33M141.27 577.95L80.18 422.53M141.59 577.84L86.03 417.17M141.90 577.74L93.08 414.90M142.22 577.65L100.22 412.92M142.55 577.57L106.09 404.88M142.87 577.51L113.63 403.45M143.20 577.46L121.23 402.34M143.54 577.43L128.86 401.54M143.87 577.41L136.37 397.26" stroke="#fff" stroke-opacity="0.18" stroke-width="0.35" fill="none"/>
<g font-size="2.40" fill="#444" stroke="#444" stroke-width="0.14" font-weight="bold" text-rendering="geometricPrecision" style="filter:grayscale(1)"><text transform="translate(144.80 556.71) rotate(-88.81) scale(1 0.87)" dy="0.35em">Cimex_quadrifasciata&#160;&#160;8</text><text transform="translate(146.61 546.88) rotate(-86.42) scale(1 0.87)" dy="0.35em">Onthophagus_frugiperda&#160;&#160;11</text><text transform="translate(148.45 544.68) rotate(-84.04) scale(1 0.87)" dy="0.35em">Megachile_planipennis&#160;&#160;12</text><text transform="translate(150.53 542.23) rotate(-81.66) scale(1 0.87)" dy="0.35em">Fopius_rapae&#160;&#160;13</text><text transform="translate(152.58 541.18) rotate(-79.27) scale(1 0.87)" dy="0.35em">Ephemera_accius&#160;&#160;13</text><text transform="translate(154.72 540.22) rotate(-76.89) scale(1 0.87)" dy="0.35em">Tribolium_decemlineata&#160;&#160;13</text><text transform="translate(156.61 540.65) rotate(-74.50) scale(1 0.87)" dy="0.35em">Polistes_terrestris&#160;&#160;13</text><text transform="translate(158.47 541.17) rotate(-72.12) scale(1 0.87)" dy="0.35em">Amyelois_ponderosae&#160;&#160;13</text><text transform="translate(161.13 539.54) rotate(-69.74) scale(1 0.87)" dy="0.35em">Glossina_sennae&#160;&#160;14</text><text transform="translate(163.51 539.13) rotate(-67.35) scale(1 0.87)" dy="0.35em">Blattella_danica&#160;&#160;15</text><text transform="translate(165.95 538.84) rotate(-64.97) scale(1 0.87)" dy="0.35em">Fopius_destructor&#160;&#160;15</text><text transform="translate(168.44 538.67) rotate(-62.58) scale(1 0.87)" dy="0.35em">Bactrocera_canadensis&#160;&#160;15</text><text transform="translate(170.55 539.40) rotate(-60.20) scale(1 0.87)" dy="0.35em">Lucilia_nevadensis&#160;&#160;15</text><text transform="translate(172.64 540.21) rotate(-57.81) scale(1 0.87)" dy="0.35em">Ephemera_ananassae&#160;&#160;16</text><text transform="translate(174.68 541.17) rotate(-55.43) scale(1 0.87)" dy="0.35em">Pediculus_migratoria&#160;&#160;16</text><text transform="translate(176.49 542.47) rotate(-53.05) scale(1 0.87)" dy="0.35em">Dendroctonus_ananassae&#160;&#160;16</text><text transform="translate(178.25 543.85) rotate(-50.66) scale(1 0.87)" dy="0.35em">Dendroctonus_erecta&#160;&#160;16</text><text transform="translate(180.14 545.09) rotate(-48.28) scale(1 0.87)" dy="0.35em">Nilaparvata_pseudoobscura&#160;&#160;16</text><text transform="translate(182.20 546.19) rotate(-45.89) scale(1 0.87)" dy="0.35em">Bemisia_prolixus&#160;&#160;16</text><text transform="translate(184.50 547.15) rotate(-43.51) scale(1 0.87)" dy="0.35em">Amyelois_glabripennis&#160;&#160;16</text><text transform="translate(186.29 548.65) rotate(-41.13) scale(1 0.87)" dy="0.35em">Nilaparvata_suppressalis&#160;&#160;16</text><text transform="translate(188.03 550.23) rotate(-38.74) scale(1 0.87)" dy="0.35em">Zootermopsis_sechellia&#160;&#160;16</text><text transform="translate(190.03 551.67) rotate(-36.36) scale(1 0.87)" dy="0.35em">Sogatella_plexippus&#160;&#160;17</text><text transform="translate(191.98 553.20) rotate(-33.97) scale(1 0.87)" dy="0.35em">Ceratosolen_sexta&#160;&#160;17</text><text transform="translate(194.60 554.40) rotate(-31.59) scale(1 0.87)" dy="0.35em">Cephus_aegypti&#160;&#160;17</text><text transform="translate(197.11 555.82) rotate(-29.21) scale(1 0.87)" dy="0.35em">Nasonia_migratoria&#160;&#160;18</text><text transform="translate(198.29 558.05) rotate(-26.82) scale(1 0.87)" dy="0.35em">Trichogramma_xuthus&#160;&#160;18</text><text transform="translate(199.38 560.32) rotate(-24.44) scale(1 0.87)" dy="0.35em">Harpegnathos_transitella&#160;&#160;18</text><text transform="translate(200.38 562.64) rotate(-22.05) scale(1 0.87)" dy="0.35em">Megachile_nevadensis&#160;&#160;18</text><text transform="translate(201.28 565.00) rotate(-19.67) scale(1 0.87)" dy="0.35em">Clitarchus_pisum&#160;&#160;18</text><text transform="translate(202.08 567.39) rotate(-17.28) scale(1 0.87)" dy="0.35em">Melipona_quadrifasciata&#160;&#160;18</text><text transform="translate(202.77 569.81) rotate(-14.90) scale(1 0.87)" dy="0.35em">Bemisia_planipennis&#160;&#160;18</text><text transform="translate(203.37 572.26) rotate(-12.52) scale(1 0.87)" dy="0.35em">Harpegnathos_castaneum&#160;&#160;18</text><text transform="translate(203.87 574.74) rotate(-10.13) scale(1 0.87)" dy="0.35em">Neodiprion_xylostella&#160;&#160;18</text><text transform="translate(204.32 577.22) rotate(-7.75) scale(1 0.87)" dy="0.35em">Plutella_novaeangliae&#160;&#160;18</text><text transform="translate(205.03 579.69) rotate(-5.36) scale(1 0.87)" dy="0.35em">Vespa_domestica&#160;&#160;18</text><text transform="translate(205.63 582.20) rotate(-2.98) scale(1 0.87)" dy="0.35em">Onthophagus_gambiae&#160;&#160;18</text><text transform="translate(206.21 584.75) rotate(-0.60) scale(1 0.87)" dy="0.35em">Lerema_grimshawi&#160;&#160;18</text><text transform="translate(206.69 587.35) rotate(1.79) scale(1 0.87)" dy="0.35em">Cephus_virilis&#160;&#160;18</text><text transform="translate(207.05 589.98) rotate(4.17) scale(1 0.87)" dy="0.35em">Bombus_cinctus&#160;&#160;18</text><text transform="translate(207.27 592.65) rotate(6.56) scale(1 0.87)" dy="0.35em">Eufriesea_erecta&#160;&#160;19</text><text transform="translate(206.91 595.27) rotate(8.94) scale(1 0.87)" dy="0.35em">Bombus_erecta&#160;&#160;19</text><text transform="translate(206.81 597.94) rotate(11.32) scale(1 0.87)" dy="0.35em">Periplaneta_abietinus&#160;&#160;19</text><text transform="translate(206.62 600.63) rotate(13.71) scale(1 0.87)" dy="0.35em">Fopius_decemlineata&#160;&#160;19</text><text transform="translate(206.15 603.27) rotate(16.09) scale(1 0.87)" dy="0.35em">Nilaparvata_cinctus&#160;&#160;19</text><text transform="translate(205.58 605.91) rotate(18.48) scale(1 0.87)" dy="0.35em">Glossina_pisum&#160;&#160;19</text><text transform="translate(204.89 608.53) rotate(20.86) scale(1 0.87)" dy="0.35em">Aedes_taurus&#160;&#160;19</text><text transform="translate(204.10 611.13) rotate(23.25) scale(1 0.87)" dy="0.35em">Amyelois_cristinae&#160;&#160;19</text><text transform="translate(203.19 613.70) rotate(25.63) scale(1 0.87)" dy="0.35em">Solenopsis_abietinus&#160;&#160;19</text><text transform="translate(202.17 616.24) rotate(28.01) scale(1 0.87)" dy="0.35em">Frankliniella_furcifera&#160;&#160;19</text><text transform="translate(201.04 618.74) rotate(30.40) scale(1 0.87)" dy="0.35em">Clitarchus_quadrifasciata&#160;&#160;19</text><text transform="translate(199.80 621.20) rotate(32.78) scale(1 0.87)" dy="0.35em">Timema_fulva&#160;&#160;19</text><text transform="translate(198.42 623.60) rotate(35.17) scale(1 0.87)" dy="0.35em">Heliconius_abietinus&#160;&#160;19</text><text transform="translate(196.95 625.95) rotate(37.55) scale(1 0.87)" dy="0.35em">Blattella_xuthus&#160;&#160;19</text><text transform="translate(195.52 628.36) rotate(39.93) scale(1 0.87)" dy="0.35em">Zootermopsis_mexicana&#160;&#160;20</text><text transform="translate(193.98 630.72) rotate(42.32) scale(1 0.87)" dy="0.35em">Neodiprion_xuthus&#160;&#160;20</text><text transform="translate(192.24 632.94) rotate(44.70) scale(1 0.87)" dy="0.35em">Manduca_willistoni&#160;&#160;20</text><text transform="translate(190.28 634.96) rotate(47.09) scale(1 0.87)" dy="0.35em">Copidosoma_rapae&#160;&#160;20</text><text transform="translate(188.18 636.84) rotate(49.47) scale(1 0.87)" dy="0.35em">Copidosoma_brumata&#160;&#160;20</text><text transform="translate(186.39 639.12) rotate(51.85) scale(1 0.87)" dy="0.35em">Nasonia_laboriosa&#160;&#160;20</text><text transform="translate(184.59 641.49) rotate(54.24) scale(1 0.87)" dy="0.35em">Linepithema_plexippus&#160;&#160;20</text><text transform="translate(182.67 643.80) rotate(56.62) scale(1 0.87)" dy="0.35em">Megachile_danica&#160;&#160;20</text><text transform="translate(180.31 645.51) rotate(59.01) scale(1 0.87)" dy="0.35em">Calycopis_floridanus&#160;&#160;21</text><text transform="translate(177.86 647.12) rotate(61.39) scale(1 0.87)" dy="0.35em">Stomoxys_prolixus&#160;&#160;21</text><text transform="translate(175.35 648.63) rotate(63.77) scale(1 0.87)" dy="0.35em">Neodiprion_abietinus&#160;&#160;21</text><text transform="translate(172.88 650.30) rotate(66.16) scale(1 0.87)" dy="0.35em">Bombyx_melpomene&#160;&#160;21</text><text transform="translate(170.29 651.79) rotate(68.54) scale(1 0.87)" dy="0.35em">Eufriesea_glabripennis&#160;&#160;21</text><text transform="translate(167.78 653.60) rotate(70.93) scale(1 0.87)" dy="0.35em">Cephus_morsitans&#160;&#160;21</text><text transform="translate(165.06 654.97) rotate(73.31) scale(1 0.87)" dy="0.35em">Amyelois_planipennis&#160;&#160;21</text><text transform="translate(162.26 656.22) rotate(75.70) scale(1 0.87)" dy="0.35em">Harpegnathos_plexippus&#160;&#160;21</text><text transform="translate(159.36 657.23) rotate(78.08) scale(1 0.87)" dy="0.35em">Leptinotarsa_gambiae&#160;&#160;22</text><text transform="translate(156.42 658.13) rotate(80.46) scale(1 0.87)" dy="0.35em">Anopheles_frugiperda&#160;&#160;22</text><text transform="translate(153.42 658.90) rotate(82.85) scale(1 0.87)" dy="0.35em">Cephus_danica&#160;&#160;22</text><text transform="translate(150.36 659.27) rotate(85.23) scale(1 0.87)" dy="0.35em">Camponotus_prolixus&#160;&#160;22</text><text transform="translate(147.29 659.51) rotate(87.62) scale(1 0.87)" dy="0.35em">Onthophagus_lectularius&#160;&#160;22</text><text transform="translate(144.20 660.37) rotate(270.00) scale(1 0.87)" dy="0.35em" text-anchor="end">Helicoverpa_striatellus&#160;&#160;22</text><text transform="translate(141.05 661.09) rotate(272.38) scale(1 0.87)" dy="0.35em" text-anchor="end">Neodiprion_cristinae&#160;&#160;22</text><text transform="translate(137.86 661.45) rotate(274.77) scale(1 0.87)" dy="0.35em" text-anchor="end">Agrilus_ponderosae&#160;&#160;22</text><text transform="translate(134.63 661.67) rotate(277.15) scale(1 0.87)" dy="0.35em" text-anchor="end">Rhodnius_planipennis&#160;&#160;23</text><text transform="translate(131.38 661.70) rotate(279.54) scale(1 0.87)" dy="0.35em" text-anchor="end">Timema_domestica&#160;&#160;23</text><text transform="translate(128.11 661.59) rotate(281.92) scale(1 0.87)" dy="0.35em" text-anchor="end">Ladona_gambiae&#160;&#160;23</text><text transform="translate(124.84 661.32) rotate(284.30) scale(1 0.87)" dy="0.35em" text-anchor="end">Bombus_tabaci&#160;&#160;23</text><text transform="translate(121.57 660.90) rotate(286.69) scale(1 0.87)" dy="0.35em" text-anchor="end">Drosophila_simulans&#160;&#160;23</text><text transform="translate(118.35 660.16) rotate(289.07) scale(1 0.87)" dy="0.35em" text-anchor="end">Lerema_furcifera&#160;&#160;23</text><text transform="translate(115.16 659.29) rotate(291.46) scale(1 0.87)" dy="0.35em" text-anchor="end">Copidosoma_americana&#160;&#160;23</text><text transform="translate(111.68 659.00) rotate(293.84) scale(1 0.87)" dy="0.35em" text-anchor="end">Drosophila_virilis&#160;&#160;24</text><text transform="translate(107.79 659.32) rotate(296.23) scale(1 0.87)" dy="0.35em" text-anchor="end">Harpegnathos_aegypti&#160;&#160;24</text><text transform="translate(103.82 659.44) rotate(298.61) scale(1 0.87)" dy="0.35em" text-anchor="end">Neodiprion_ananassae&#160;&#160;25</text><text transform="translate(99.78 659.35) rotate(300.99) scale(1 0.87)" dy="0.35em" text-anchor="end">Ephemera_humile&#160;&#160;25</text><text transform="translate(96.56 657.72) rotate(303.38) scale(1 0.87)" dy="0.35em" text-anchor="end">Atta_cecrops&#160;&#160;25</text><text transform="translate(93.39 655.94) rotate(305.76) scale(1 0.87)" dy="0.35em" text-anchor="end">Phoebis_mori&#160;&#160;26</text><text transform="translate(89.87 654.57) rotate(308.15) scale(1 0.87)" dy="0.35em" text-anchor="end">Athalia_simulans&#160;&#160;26</text><text transform="translate(86.05 653.41) rotate(310.53) scale(1 0.87)" dy="0.35em" text-anchor="end">Nasonia_castaneum&#160;&#160;26</text><text transform="translate(82.23 652.05) rotate(312.91) scale(1 0.87)" dy="0.35em" text-anchor="end">Diaphorina_simulans&#160;&#160;27</text><text transform="translate(78.43 650.49) rotate(315.30) scale(1 0.87)" dy="0.35em" text-anchor="end">Ceratosolen_decemlineata&#160;&#160;27</text><text transform="translate(74.65 648.73) rotate(317.68) scale(1 0.87)" dy="0.35em" text-anchor="end">Glossina_mellifera&#160;&#160;28</text><text transform="translate(70.90 646.76) rotate(320.07) scale(1 0.87)" dy="0.35em" text-anchor="end">Bombus_brumata&#160;&#160;28</text><text transform="translate(67.21 644.59) rotate(322.45) scale(1 0.87)" dy="0.35em" text-anchor="end">Chilo_tabaci&#160;&#160;29</text><text transform="translate(63.56 642.21) rotate(324.83) scale(1 0.87)" dy="0.35em" text-anchor="end">Polistes_xylostella&#160;&#160;29</text><text transform="translate(60.71 639.17) rotate(327.22) scale(1 0.87)" dy="0.35em" text-anchor="end">Rhodnius_glabripennis&#160;&#160;29</text><text transform="translate(56.92 636.60) rotate(329.60) scale(1 0.87)" dy="0.35em" text-anchor="end">Ladona_cephalotes&#160;&#160;30</text><text transform="translate(54.81 632.96) rotate(331.99) scale(1 0.87)" dy="0.35em" text-anchor="end">Diaphorina_erecta&#160;&#160;30</text><text transform="translate(52.39 629.45) rotate(334.37) scale(1 0.87)" dy="0.35em" text-anchor="end">Sogatella_danica&#160;&#160;30</text><text transform="translate(50.49 625.65) rotate(336.75) scale(1 0.87)" dy="0.35em" text-anchor="end">Bemisia_taurus&#160;&#160;30</text><text transform="translate(47.28 622.33) rotate(339.14) scale(1 0.87)" dy="0.35em" text-anchor="end">Pediculus_citri&#160;&#160;31</text><text transform="translate(44.19 618.82) rotate(341.52) scale(1 0.87)" dy="0.35em" text-anchor="end">Locusta_mexicana&#160;&#160;31</text><text transform="translate(41.23 615.11) rotate(343.91) scale(1 0.87)" dy="0.35em" text-anchor="end">Anopheles_pseudoobscura&#160;&#160;32</text><text transform="translate(38.40 611.21) rotate(346.29) scale(1 0.87)" dy="0.35em" text-anchor="end">Dufourea_xuthus&#160;&#160;32</text><text transform="translate(35.94 607.08) rotate(348.68) scale(1 0.87)" dy="0.35em" text-anchor="end">Chilo_quadrifasciata&#160;&#160;33</text><text transform="translate(33.08 602.88) rotate(351.06) scale(1 0.87)" dy="0.35em" text-anchor="end">Orussus_abietinus&#160;&#160;33</text><text transform="translate(32.12 598.28) rotate(353.44) scale(1 0.87)" dy="0.35em" text-anchor="end">Locusta_grimshawi&#160;&#160;33</text><text transform="translate(31.68 593.61) rotate(355.83) scale(1 0.87)" dy="0.35em" text-anchor="end">Vespa_ponderosae&#160;&#160;33</text><text transform="translate(30.89 588.94) rotate(358.21) scale(1 0.87)" dy="0.35em" text-anchor="end">Apis_rapae&#160;&#160;34</text></g>
<g font-size="2.40" fill="#fff" fill-opacity="0.60" font-weight="bold" text-rendering="geometricPrecision"><text transform="translate(34.39 584.26) rotate(360.60)" dy="0.35em">Apis_transitella&#160;&#160;34</text><text transform="translate(33.88 579.66) rotate(362.98)" dy="0.35em">Ceratitis_rotundata&#160;&#160;34</text><text transform="translate(33.56 575.01) rotate(365.36)" dy="0.35em">Phoebis_grimshawi&#160;&#160;34</text><text transform="translate(33.45 570.33) rotate(367.75)" dy="0.35em">Laodelphax_taurus&#160;&#160;34</text><text transform="translate(33.53 565.62) rotate(370.13)" dy="0.35em">Sogatella_gambiae&#160;&#160;34</text><text transform="translate(32.62 560.63) rotate(372.52)" dy="0.35em">Microplitis_invicta&#160;&#160;35</text><text transform="translate(31.93 555.53) rotate(374.90)" dy="0.35em">Acyrthosiphon_gambiae&#160;&#160;36</text><text transform="translate(30.50 550.02) rotate(377.28)" dy="0.35em">Polistes_morsitans&#160;&#160;36</text><text transform="translate(28.99 544.22) rotate(379.67)" dy="0.35em">Operophtera_germanica&#160;&#160;37</text><text transform="translate(25.99 537.51) rotate(382.05)" dy="0.35em">Trichogramma_sennae&#160;&#160;39</text><text transform="translate(23.35 530.49) rotate(384.44)" dy="0.35em">Laodelphax_accius&#160;&#160;41</text><text transform="translate(21.10 523.16) rotate(386.82)" dy="0.35em">Solenopsis_danica&#160;&#160;42</text><text transform="translate(20.77 516.40) rotate(389.21)" dy="0.35em">Zootermopsis_transitella&#160;&#160;43</text><text transform="translate(21.47 509.93) rotate(391.59)" dy="0.35em">Danaus_terrestris&#160;&#160;44</text><text transform="translate(23.58 504.12) rotate(393.97)" dy="0.35em">Culex_laboriosa&#160;&#160;44</text><text transform="translate(25.42 497.96) rotate(396.36)" dy="0.35em">Culex_terrestris&#160;&#160;45</text><text transform="translate(28.43 492.51) rotate(398.74)" dy="0.35em">Bombus_simulans&#160;&#160;45</text><text transform="translate(30.59 486.20) rotate(401.13)" dy="0.35em">Diaphorina_lectularius&#160;&#160;46</text><text transform="translate(34.40 481.17) rotate(403.51)" dy="0.35em">Anopheles_occidentalis&#160;&#160;46</text><text transform="translate(38.19 476.03) rotate(405.89)" dy="0.35em">Calycopis_nevadensis&#160;&#160;46</text><text transform="translate(41.75 470.50) rotate(408.28)" dy="0.35em">Culex_destructor&#160;&#160;47</text><text transform="translate(45.57 465.06) rotate(410.66)" dy="0.35em">Acyrthosiphon_ananassae&#160;&#160;47</text><text transform="translate(50.30 460.58) rotate(413.05)" dy="0.35em">Diaphorina_danica&#160;&#160;48</text><text transform="translate(54.21 454.81) rotate(415.43)" dy="0.35em">Acyrthosiphon_transitella&#160;&#160;48</text><text transform="translate(58.39 449.06) rotate(417.81)" dy="0.35em">Camponotus_cephalotes&#160;&#160;49</text><text transform="translate(62.94 443.52) rotate(420.20)" dy="0.35em">Cephus_tabaci&#160;&#160;50</text><text transform="translate(67.99 438.49) rotate(422.58)" dy="0.35em">Bemisia_mojavensis&#160;&#160;50</text><text transform="translate(71.21 429.10) rotate(424.97)" dy="0.35em">Bombus_hookeri&#160;&#160;52</text><text transform="translate(77.77 426.20) rotate(427.35)" dy="0.35em">Spodoptera_domestica&#160;&#160;52</text><text transform="translate(83.41 420.76) rotate(429.74)" dy="0.35em">Helicoverpa_xylostella&#160;&#160;53</text><text transform="translate(90.31 418.38) rotate(432.12)" dy="0.35em">Megachile_cuprina&#160;&#160;53</text><text transform="translate(97.31 416.28) rotate(434.50)" dy="0.35em">Periplaneta_mori&#160;&#160;53</text><text transform="translate(102.91 408.15) rotate(436.89)" dy="0.35em">Melipona_humile&#160;&#160;55</text><text transform="translate(110.32 406.58) rotate(439.27)" dy="0.35em">Papilio_brumata&#160;&#160;55</text><text transform="translate(117.79 405.33) rotate(441.66)" dy="0.35em">Camponotus_humanus&#160;&#160;55</text><text transform="translate(125.30 404.38) rotate(444.04)" dy="0.35em">Linepithema_striatellus&#160;&#160;55</text><text transform="translate(132.61 399.96) rotate(446.42)" dy="0.35em">Agrilus_rotundata&#160;&#160;56</text><text transform="translate(140.26 395.84) rotate(448.81)" dy="0.35em">Dufourea_frugiperda&#160;&#160;58</text></g>
<circle cx="144.20" cy="585.40" r="16.50" fill="#fff" fill-opacity="0.22"/>
<circle cx="144.20" cy="585.40" r="11.27" fill="#fff" fill-opacity="0.28"/>
<circle cx="144.20" cy="585.40" r="5.50" fill="#fff"/>
<!-- chart D -->
<path d="M415.40 585.50L415.40 555.88L417.41 555.95Z" fill="#2c10f4" stroke="#2c10f4" stroke-width="0.3"/>
<path d="M415.40 585.50L416.78 552.41L419.02 552.58Z" fill="#3010f3" stroke="#3010f3" stroke-width="0.3"/>
<path d="M415.40 585.50L418.44 549.01L420.91 549.30Z" fill="#3310f2" stroke="#3310f2" stroke-width="0.3"/>
<path d="M415.40 585.50L420.40 545.69L423.08 546.12Z" fill="#3710f1" stroke="#3710f1" stroke-width="0.3"/>
<path d="M415.40 585.50L423.15 539.39L426.25 540.02Z" fill="#3b10f0" stroke="#3b10f0" stroke-width="0.3"/>
<path d="M415.40 585.50L425.54 537.46L428.77 538.25Z" fill="#3e10ef" stroke="#3e10ef" stroke-width="0.3"/>
<path d="M415.40 585.50L427.78 536.94L431.04 537.89Z" fill="#4210ee" stroke="#4210ee" stroke-width="0.3"/>
<path d="M415.40 585.50L429.95 536.96L433.21 538.06Z" fill="#4610ed" stroke="#4610ed" stroke-width="0.3"/>
<path d="M415.40 585.50L432.14 537.08L435.38 538.32Z" fill="#4a10ec" stroke="#4a10ec" stroke-width="0.3"/>
<path d="M415.40 585.50L434.35 537.30L437.57 538.69Z" fill="#4d10ea" stroke="#4d10ea" stroke-width="0.3"/>
<path d="M415.40 585.50L436.63 537.47L439.83 539.02Z" fill="#5110e9" stroke="#5110e9" stroke-width="0.3"/>
<path d="M415.40 585.50L439.08 537.43L442.28 539.15Z" fill="#5510e8" stroke="#5510e8" stroke-width="0.3"/>
<path d="M415.40 585.50L441.57 537.52L444.76 539.40Z" fill="#5810e7" stroke="#5810e7" stroke-width="0.3"/>
<path d="M415.40 585.50L444.09 537.73L447.26 539.78Z" fill="#5c10e6" stroke="#5c10e6" stroke-width="0.3"/>
<path d="M415.40 585.50L446.27 538.65L449.37 540.85Z" fill="#6010e5" stroke="#6010e5" stroke-width="0.3"/>
<path d="M415.40 585.50L448.19 539.97L451.20 542.30Z" fill="#6310e4" stroke="#6310e4" stroke-width="0.3"/>
<path d="M415.40 585.50L450.56 540.73L453.51 543.22Z" fill="#6710e3" stroke="#6710e3" stroke-width="0.3"/>
<path d="M415.40 585.50L452.95 541.58L455.84 544.22Z" fill="#6b10e2" stroke="#6b10e2" stroke-width="0.3"/>
<path d="M415.40 585.50L454.99 542.92L457.78 545.70Z" fill="#6f10e0" stroke="#6f10e0" stroke-width="0.3"/>
<path d="M415.40 585.50L456.98 544.35L459.68 547.26Z" fill="#7110df" stroke="#7110df" stroke-width="0.3"/>
<path d="M415.40 585.50L458.93 545.87L461.51 548.91Z" fill="#7410de" stroke="#7410de" stroke-width="0.3"/>
<path d="M415.40 585.50L460.57 547.69L463.03 550.83Z" fill="#7610dd" stroke="#7610dd" stroke-width="0.3"/>
<path d="M415.40 585.50L462.67 549.16L465.02 552.45Z" fill="#7810db" stroke="#7810db" stroke-width="0.3"/>
<path d="M415.40 585.50L464.70 550.77L466.94 554.19Z" fill="#7b10da" stroke="#7b10da" stroke-width="0.3"/>
<path d="M415.40 585.50L466.67 552.48L468.79 556.03Z" fill="#7d10d9" stroke="#7d10d9" stroke-width="0.3"/>
<path d="M415.40 585.50L468.07 554.60L470.04 558.24Z" fill="#7f10d8" stroke="#7f10d8" stroke-width="0.3"/>
<path d="M415.40 585.50L469.37 556.79L471.19 560.51Z" fill="#8210d6" stroke="#8210d6" stroke-width="0.3"/>
<path d="M415.40 585.50L470.59 559.03L472.25 562.82Z" fill="#8410d5" stroke="#8410d5" stroke-width="0.3"/>
<path d="M415.40 585.50L471.71 561.31L473.21 565.18Z" fill="#8610d4" stroke="#8610d4" stroke-width="0.3"/>
<path d="M415.40 585.50L472.77 563.64L474.12 567.57Z" fill="#8910d2" stroke="#8910d2" stroke-width="0.3"/>
<path d="M415.40 585.50L473.69 566.02L474.87 570.02Z" fill="#8b10d1" stroke="#8b10d1" stroke-width="0.3"/>
<path d="M415.40 585.50L474.45 568.46L475.47 572.50Z" fill="#8d10d0" stroke="#8d10d0" stroke-width="0.3"/>
<path d="M415.40 585.50L475.11 570.94L475.96 575.01Z" fill="#9010cf" stroke="#9010cf" stroke-width="0.3"/>
<path d="M415.40 585.50L475.96 573.37L476.64 577.50Z" fill="#9210cd" stroke="#9210cd" stroke-width="0.3"/>
<path d="M415.40 585.50L476.77 575.85L477.28 580.02Z" fill="#9410cc" stroke="#9410cc" stroke-width="0.3"/>
<path d="M415.40 585.50L477.48 578.37L477.82 582.59Z" fill="#9710cb" stroke="#9710cb" stroke-width="0.3"/>
<path d="M415.40 585.50L478.08 580.93L478.24 585.18Z" fill="#9910ca" stroke="#9910ca" stroke-width="0.3"/>
<path d="M415.40 585.50L478.57 583.53L478.56 587.81Z" fill="#9b10c8" stroke="#9b10c8" stroke-width="0.3"/>
<path d="M415.40 585.50L478.96 586.16L478.77 590.47Z" fill="#9d10c7" stroke="#9d10c7" stroke-width="0.3"/>
<path d="M415.40 585.50L479.10 588.82L478.73 593.12Z" fill="#9f10c5" stroke="#9f10c5" stroke-width="0.3"/>
<path d="M415.40 585.50L478.93 591.47L478.38 595.76Z" fill="#a010c4" stroke="#a010c4" stroke-width="0.3"/>
<path d="M415.40 585.50L478.63 594.10L477.90 598.37Z" fill="#a210c2" stroke="#a210c2" stroke-width="0.3"/>
<path d="M415.40 585.50L478.45 596.77L477.54 601.01Z" fill="#a310c1" stroke="#a310c1" stroke-width="0.3"/>
<path d="M415.40 585.50L478.35 599.47L477.25 603.71Z" fill="#a510bf" stroke="#a510bf" stroke-width="0.3"/>
<path d="M415.40 585.50L477.74 602.09L476.48 606.27Z" fill="#a610be" stroke="#a610be" stroke-width="0.3"/>
<path d="M415.40 585.50L477.03 604.68L475.59 608.81Z" fill="#a710bd" stroke="#a710bd" stroke-width="0.3"/>
<path d="M415.40 585.50L476.22 607.24L474.60 611.31Z" fill="#a910bb" stroke="#a910bb" stroke-width="0.3"/>
<path d="M415.40 585.50L475.36 609.79L473.58 613.80Z" fill="#aa10ba" stroke="#aa10ba" stroke-width="0.3"/>
<path d="M415.40 585.50L474.30 612.26L472.35 616.19Z" fill="#ac10b8" stroke="#ac10b8" stroke-width="0.3"/>
<path d="M415.40 585.50L473.13 614.69L471.02 618.53Z" fill="#ad10b7" stroke="#ad10b7" stroke-width="0.3"/>
<path d="M415.40 585.50L472.53 617.44L470.23 621.23Z" fill="#af10b5" stroke="#af10b5" stroke-width="0.3"/>
<path d="M415.40 585.50L471.89 620.24L469.41 623.99Z" fill="#b010b4" stroke="#b010b4" stroke-width="0.3"/>
<path d="M415.40 585.50L471.12 623.04L468.45 626.73Z" fill="#b210b2" stroke="#b210b2" stroke-width="0.3"/>
<path d="M415.40 585.50L469.77 625.52L466.93 629.11Z" fill="#b310b1" stroke="#b310b1" stroke-width="0.3"/>
<path d="M415.40 585.50L468.18 627.85L465.19 631.32Z" fill="#b510af" stroke="#b510af" stroke-width="0.3"/>
<path d="M415.40 585.50L466.37 630.01L463.24 633.36Z" fill="#b610ae" stroke="#b610ae" stroke-width="0.3"/>
<path d="M415.40 585.50L464.48 632.09L461.21 635.30Z" fill="#b810ac" stroke="#b810ac" stroke-width="0.3"/>
<path d="M415.40 585.50L462.50 634.09L459.10 637.17Z" fill="#b910ab" stroke="#b910ab" stroke-width="0.3"/>
<path d="M415.40 585.50L460.43 636.01L456.91 638.94Z" fill="#ba10a9" stroke="#ba10a9" stroke-width="0.3"/>
<path d="M415.40 585.50L458.29 637.84L454.65 640.62Z" fill="#bc10a7" stroke="#bc10a7" stroke-width="0.3"/>
<path d="M415.40 585.50L456.08 639.57L452.32 642.21Z" fill="#bd10a6" stroke="#bd10a6" stroke-width="0.3"/>
<path d="M415.40 585.50L453.79 641.22L449.93 643.69Z" fill="#be10a4" stroke="#be10a4" stroke-width="0.3"/>
<path d="M415.40 585.50L451.99 643.63L447.96 645.97Z" fill="#bf10a3" stroke="#bf10a3" stroke-width="0.3"/>
<path d="M415.40 585.50L449.54 645.10L445.42 647.28Z" fill="#c110a1" stroke="#c110a1" stroke-width="0.3"/>
<path d="M415.40 585.50L447.03 646.47L442.82 648.47Z" fill="#c2109f" stroke="#c2109f" stroke-width="0.3"/>
<path d="M415.40 585.50L444.49 647.80L440.21 649.63Z" fill="#c3109e" stroke="#c3109e" stroke-width="0.3"/>
<path d="M415.40 585.50L441.88 648.95L437.52 650.60Z" fill="#c5109c" stroke="#c5109c" stroke-width="0.3"/>
<path d="M415.40 585.50L439.21 650.00L434.79 651.47Z" fill="#c6109b" stroke="#c6109b" stroke-width="0.3"/>
<path d="M415.40 585.50L436.51 650.94L432.03 652.22Z" fill="#c71099" stroke="#c71099" stroke-width="0.3"/>
<path d="M415.40 585.50L433.77 651.76L429.24 652.85Z" fill="#c81098" stroke="#c81098" stroke-width="0.3"/>
<path d="M415.40 585.50L431.00 652.46L426.43 653.37Z" fill="#ca1096" stroke="#ca1096" stroke-width="0.3"/>
<path d="M415.40 585.50L428.31 653.63L423.66 654.35Z" fill="#cb1094" stroke="#cb1094" stroke-width="0.3"/>
<path d="M415.40 585.50L425.66 655.43L420.90 655.97Z" fill="#cc1093" stroke="#cc1093" stroke-width="0.3"/>
<path d="M415.40 585.50L422.79 656.26L417.98 656.60Z" fill="#cd1091" stroke="#cd1091" stroke-width="0.3"/>
<path d="M415.40 585.50L419.92 657.79L415.01 657.93Z" fill="#cf1090" stroke="#cf1090" stroke-width="0.3"/>
<path d="M415.40 585.50L416.94 659.29L411.93 659.23Z" fill="#d0108e" stroke="#d0108e" stroke-width="0.3"/>
<path d="M415.40 585.50L413.85 659.86L408.82 659.59Z" fill="#d1108d" stroke="#d1108d" stroke-width="0.3"/>
<path d="M415.40 585.50L410.73 660.30L405.67 659.81Z" fill="#d1108b" stroke="#d1108b" stroke-width="0.3"/>
<path d="M415.40 585.50L407.56 660.61L402.49 659.91Z" fill="#d2108a" stroke="#d2108a" stroke-width="0.3"/>
<path d="M415.40 585.50L404.27 661.36L399.16 660.43Z" fill="#d31089" stroke="#d31089" stroke-width="0.3"/>
<path d="M415.40 585.50L400.91 661.96L395.77 660.80Z" fill="#d31088" stroke="#d31088" stroke-width="0.3"/>
<path d="M415.40 585.50L397.69 661.54L392.58 660.17Z" fill="#d41086" stroke="#d41086" stroke-width="0.3"/>
<path d="M415.40 585.50L394.47 660.99L389.40 659.40Z" fill="#d41085" stroke="#d41085" stroke-width="0.3"/>
<path d="M415.40 585.50L391.16 660.63L386.13 658.81Z" fill="#d51084" stroke="#d51084" stroke-width="0.3"/>
<path d="M415.40 585.50L387.85 660.12L382.86 658.09Z" fill="#d61083" stroke="#d61083" stroke-width="0.3"/>
<path d="M415.40 585.50L384.53 659.47L379.59 657.21Z" fill="#d61081" stroke="#d61081" stroke-width="0.3"/>
<path d="M415.40 585.50L381.28 658.57L376.41 656.09Z" fill="#d71080" stroke="#d71080" stroke-width="0.3"/>
<path d="M415.40 585.50L378.04 657.52L373.25 654.82Z" fill="#d8107f" stroke="#d8107f" stroke-width="0.3"/>
<path d="M415.40 585.50L374.75 656.48L370.03 653.56Z" fill="#d8107d" stroke="#d8107d" stroke-width="0.3"/>
<path d="M415.40 585.50L371.47 655.29L366.85 652.16Z" fill="#d9107c" stroke="#d9107c" stroke-width="0.3"/>
<path d="M415.40 585.50L368.23 653.95L363.70 650.60Z" fill="#da107b" stroke="#da107b" stroke-width="0.3"/>
<path d="M415.40 585.50L364.86 652.68L360.43 649.10Z" fill="#da107a" stroke="#da107a" stroke-width="0.3"/>
<path d="M415.40 585.50L361.68 651.05L357.36 647.26Z" fill="#db1078" stroke="#db1078" stroke-width="0.3"/>
<path d="M415.40 585.50L358.54 649.27L354.35 645.27Z" fill="#db1077" stroke="#db1077" stroke-width="0.3"/>
<path d="M415.40 585.50L355.46 647.34L351.41 643.14Z" fill="#dc1076" stroke="#dc1076" stroke-width="0.3"/>
<path d="M415.40 585.50L351.75 645.92L347.81 641.47Z" fill="#dd1074" stroke="#dd1074" stroke-width="0.3"/>
<path d="M415.40 585.50L349.29 643.22L345.54 638.61Z" fill="#dd1072" stroke="#dd1072" stroke-width="0.3"/>
<path d="M415.40 585.50L346.95 640.42L343.39 635.66Z" fill="#de1070" stroke="#de1070" stroke-width="0.3"/>
<path d="M415.40 585.50L344.73 637.52L341.36 632.62Z" fill="#df106e" stroke="#df106e" stroke-width="0.3"/>
<path d="M415.40 585.50L342.62 634.54L339.47 629.50Z" fill="#df0f6c" stroke="#df0f6c" stroke-width="0.3"/>
<path d="M415.40 585.50L340.65 631.47L337.70 626.30Z" fill="#e00f6a" stroke="#e00f6a" stroke-width="0.3"/>
<path d="M415.40 585.50L338.80 628.32L336.07 623.03Z" fill="#e10f68" stroke="#e10f68" stroke-width="0.3"/>
<path d="M415.40 585.50L335.78 625.76L333.23 620.27Z" fill="#e10f66" stroke="#e10f66" stroke-width="0.3"/>
<path d="M415.40 585.50L334.13 622.43L331.81 616.84Z" fill="#e20f64" stroke="#e20f64" stroke-width="0.3"/>
<path d="M415.40 585.50L332.61 619.04L330.53 613.35Z" fill="#e20f62" stroke="#e20f62" stroke-width="0.3"/>
<path d="M415.40 585.50L331.25 615.58L329.40 609.81Z" fill="#e30f60" stroke="#e30f60" stroke-width="0.3"/>
<path d="M415.40 585.50L329.96 612.09L328.36 606.24Z" fill="#e40f5e" stroke="#e40f5e" stroke-width="0.3"/>
<path d="M415.40 585.50L328.82 608.54L327.46 602.62Z" fill="#e40f5c" stroke="#e40f5c" stroke-width="0.3"/>
<path d="M415.40 585.50L325.58 605.44L324.44 599.31Z" fill="#e50f5a" stroke="#e50f5a" stroke-width="0.3"/>
<path d="M415.40 585.50L322.46 602.11L321.55 595.78Z" fill="#e60e58" stroke="#e60e58" stroke-width="0.3"/>
<path d="M415.40 585.50L320.62 598.40L319.96 591.95Z" fill="#e60e56" stroke="#e60e56" stroke-width="0.3"/>
<path d="M415.40 585.50L319.51 594.50L319.12 587.99Z" fill="#e70e54" stroke="#e70e54" stroke-width="0.3"/>
<path d="M415.40 585.50L318.56 590.54L318.44 583.97Z" fill="#e80e52" stroke="#e80e52" stroke-width="0.3"/>
<path d="M415.40 585.50L317.77 586.52L317.93 579.90Z" fill="#e80e50" stroke="#e80e50" stroke-width="0.3"/>
<path d="M415.40 585.50L317.15 582.43L317.59 575.78Z" fill="#e90e4e" stroke="#e90e4e" stroke-width="0.3"/>
<path d="M415.40 585.50L317.04 578.33L317.75 571.68Z" fill="#e90e4c" stroke="#e90e4c" stroke-width="0.3"/>
<path d="M415.40 585.50L317.04 574.20L318.03 567.56Z" fill="#ea0e4a" stroke="#ea0e4a" stroke-width="0.3"/>
<path d="M415.40 585.50L317.21 570.05L318.48 563.44Z" fill="#ea0e48" stroke="#ea0e48" stroke-width="0.3"/>
<path d="M415.40 585.50L317.55 565.91L319.11 559.32Z" fill="#eb0d47" stroke="#eb0d47" stroke-width="0.3"/>
<path d="M415.40 585.50L317.57 561.64L319.41 555.06Z" fill="#eb0d45" stroke="#eb0d45" stroke-width="0.3"/>
<path d="M415.40 585.50L316.65 557.01L318.80 550.39Z" fill="#ec0d43" stroke="#ec0d43" stroke-width="0.3"/>
<path d="M415.40 585.50L316.31 552.39L318.78 545.75Z" fill="#ec0d41" stroke="#ec0d41" stroke-width="0.3"/>
<path d="M415.40 585.50L316.69 547.88L319.46 541.28Z" fill="#ed0d3f" stroke="#ed0d3f" stroke-width="0.3"/>
<path d="M415.40 585.50L317.82 543.59L320.89 537.07Z" fill="#ed0d3e" stroke="#ed0d3e" stroke-width="0.3"/>
<path d="M415.40 585.50L319.15 539.32L322.50 532.91Z" fill="#ee0d3c" stroke="#ee0d3c" stroke-width="0.3"/>
<path d="M415.40 585.50L320.22 534.87L323.87 528.54Z" fill="#ee0d3a" stroke="#ee0d3a" stroke-width="0.3"/>
<path d="M415.40 585.50L321.36 530.33L325.31 524.09Z" fill="#ef0d38" stroke="#ef0d38" stroke-width="0.3"/>
<path d="M415.40 585.50L322.24 525.51L326.52 519.33Z" fill="#f00c36" stroke="#f00c36" stroke-width="0.3"/>
<path d="M415.40 585.50L323.26 520.58L327.86 514.49Z" fill="#f00c35" stroke="#f00c35" stroke-width="0.3"/>
<path d="M415.40 585.50L325.74 516.58L330.61 510.66Z" fill="#f10c33" stroke="#f10c33" stroke-width="0.3"/>
<path d="M415.40 585.50L328.50 512.76L333.63 507.04Z" fill="#f10c31" stroke="#f10c31" stroke-width="0.3"/>
<path d="M415.40 585.50L331.06 508.71L336.45 503.17Z" fill="#f20c2f" stroke="#f20c2f" stroke-width="0.3"/>
<path d="M415.40 585.50L332.47 503.43L338.22 498.00Z" fill="#f20c2d" stroke="#f20c2d" stroke-width="0.3"/>
<path d="M415.40 585.50L334.76 498.76L340.82 493.50Z" fill="#f30c2b" stroke="#f30c2b" stroke-width="0.3"/>
<path d="M415.40 585.50L337.29 494.15L343.66 489.07Z" fill="#f30b29" stroke="#f30b29" stroke-width="0.3"/>
<path d="M415.40 585.50L338.44 487.51L345.25 482.52Z" fill="#f40b27" stroke="#f40b27" stroke-width="0.3"/>
<path d="M415.40 585.50L341.52 482.92L348.64 478.15Z" fill="#f40b25" stroke="#f40b25" stroke-width="0.3"/>
<path d="M415.40 585.50L345.19 478.93L352.57 474.42Z" fill="#f50b23" stroke="#f50b23" stroke-width="0.3"/>
<path d="M415.40 585.50L347.87 473.09L355.64 468.77Z" fill="#f50b21" stroke="#f50b21" stroke-width="0.3"/>
<path d="M415.40 585.50L351.24 467.86L359.35 463.79Z" fill="#f60a1f" stroke="#f60a1f" stroke-width="0.3"/>
<path d="M415.40 585.50L355.08 463.05L363.51 459.24Z" fill="#f60a1d" stroke="#f60a1d" stroke-width="0.3"/>
<path d="M415.40 585.50L360.16 460.49L368.75 457.04Z" fill="#f70a1b" stroke="#f70a1b" stroke-width="0.3"/>
<path d="M415.40 585.50L365.41 458.30L374.14 455.21Z" fill="#f70a19" stroke="#f70a19" stroke-width="0.3"/>
<path d="M415.40 585.50L368.85 450.87L378.08 448.02Z" fill="#f80a17" stroke="#f80a17" stroke-width="0.3"/>
<path d="M415.40 585.50L373.81 446.78L383.30 444.28Z" fill="#f90915" stroke="#f90915" stroke-width="0.3"/>
<path d="M415.40 585.50L377.35 436.27L387.55 434.04Z" fill="#f90913" stroke="#f90913" stroke-width="0.3"/>
<path d="M415.40 585.50L383.38 433.84L393.73 432.02Z" fill="#fa0911" stroke="#fa0911" stroke-width="0.3"/>
<path d="M415.40 585.50L389.41 430.77L399.95 429.36Z" fill="#fa090f" stroke="#fa090f" stroke-width="0.3"/>
<path d="M415.40 585.50L395.52 427.04L406.30 426.06Z" fill="#fb090d" stroke="#fb090d" stroke-width="0.3"/>
<path d="M415.40 585.50L400.94 412.10L412.72 411.52Z" fill="#fb080b" stroke="#fb080b" stroke-width="0.3"/>
<path d="M415.40 585.50L407.43 394.07L415.40 393.90Z" fill="#fc0809" stroke="#fc0809" stroke-width="0.3"/>
<path d="M415.40 577.50L415.40 555.88M415.73 577.51L416.63 555.91M416.06 577.53L418.15 552.50M416.40 577.56L419.96 549.17M416.73 577.61L422.05 545.93M417.05 577.67L425.06 539.75M417.38 577.75L427.53 537.92M417.70 577.84L429.79 537.50M418.01 577.94L431.96 537.61M418.33 578.05L434.14 537.82M418.63 578.18L436.33 538.13M418.94 578.32L438.61 538.39M419.23 578.48L441.06 538.46M419.52 578.64L443.54 538.65M419.80 578.82L446.06 538.97M420.08 579.01L448.19 539.97M420.34 579.21L450.05 541.38M420.60 579.42L452.39 542.23M420.85 579.64L454.75 543.18M421.09 579.87L456.73 544.60M421.32 580.11L458.66 546.11M421.53 580.36L460.54 547.72M421.74 580.62L462.10 549.60M421.94 580.89L464.14 551.16M422.13 581.17L466.10 552.85M422.30 581.45L468.00 554.64M422.46 581.74L469.31 556.82M422.61 582.04L470.52 559.06M422.75 582.34L471.64 561.34M422.88 582.65L472.66 563.68M422.99 582.96L473.63 566.04M423.09 583.28L474.45 568.46M423.17 583.60L475.11 570.94M423.24 583.93L475.66 573.43M423.30 584.26L476.41 575.90M423.35 584.59L477.12 578.41M423.38 584.92L477.72 580.95M423.40 585.25L478.21 583.54M423.40 585.58L478.60 586.16M423.39 585.92L478.88 588.80M423.36 586.25L478.91 591.46M423.33 586.58L478.63 594.10M423.28 586.91L478.22 596.73M423.21 587.23L477.92 599.38M423.13 587.56L477.71 602.08M423.04 587.88L477.00 604.67M422.93 588.19L476.18 607.23M422.81 588.50L475.26 609.75M422.68 588.81L474.30 612.26M422.54 589.11L473.13 614.69M422.38 589.40L471.87 617.07M422.21 589.69L471.15 619.78M422.03 589.97L470.40 622.56M421.84 590.24L469.51 625.33M421.64 590.51L468.06 627.75M421.43 590.76L466.37 630.01M421.20 591.01L464.48 632.09M420.97 591.24L462.50 634.09M420.72 591.47L460.43 636.01M420.47 591.69L458.29 637.84M420.21 591.89L456.08 639.57M419.94 592.09L453.79 641.22M419.66 592.27L451.44 642.77M419.38 592.44L449.54 645.10M419.08 592.60L447.03 646.47M418.79 592.75L444.46 647.73M418.48 592.88L441.88 648.95M418.17 593.00L439.21 650.00M417.86 593.11L436.51 650.94M417.54 593.21L433.77 651.76M417.21 593.29L431.00 652.46M416.89 593.36L428.20 653.06M416.56 593.42L425.46 654.11M416.23 593.46L422.74 655.80M415.90 593.48L419.84 656.51M415.57 593.50L416.91 657.91M415.23 593.50L413.86 659.29M414.90 593.48L410.76 659.73M414.57 593.46L407.62 660.04M414.24 593.42L404.44 660.22M413.91 593.36L401.13 660.83M413.59 593.29L397.75 661.29M413.26 593.21L394.54 660.74M412.94 593.11L391.35 660.05M412.63 593.00L388.06 659.56M412.32 592.88L384.77 658.91M412.01 592.75L381.48 658.12M411.72 592.60L378.27 657.09M411.42 592.44L375.08 655.90M411.14 592.27L371.83 654.73M410.86 592.09L368.61 653.40M410.59 591.89L365.43 651.93M410.33 591.69L362.11 650.52M410.08 591.47L358.99 648.76M409.83 591.24L355.93 646.85M409.60 591.01L352.94 644.80M409.37 590.76L349.29 643.22M409.16 590.51L346.95 640.42M408.96 590.24L344.73 637.52M408.77 589.97L342.62 634.54M408.59 589.69L340.65 631.47M408.42 589.40L338.80 628.32M408.26 589.11L337.08 625.10M408.12 588.81L334.17 622.41M407.99 588.50L332.66 619.02M407.87 588.19L331.29 615.56M407.76 587.88L330.07 612.05M407.67 587.56L328.93 608.51M407.59 587.23L327.94 604.92M407.52 586.91L324.83 601.69M407.47 586.58L321.85 598.23M407.44 586.25L320.16 594.44M407.41 585.92L319.21 590.51M407.40 585.58L318.43 586.51M407.40 585.25L317.81 582.45M407.42 584.92L317.37 578.35M407.45 584.59L317.43 574.24M407.50 584.26L317.59 570.11M407.56 583.93L317.94 565.98M407.63 583.60L318.45 561.85M407.71 583.28L318.65 557.59M407.81 582.96L317.92 552.93M407.92 582.65L317.78 548.30M408.05 582.34L318.34 543.81M408.19 582.04L319.65 539.56M408.34 581.74L321.15 535.36M408.50 581.45L322.41 530.95M408.67 581.17L323.73 526.47M408.86 580.89L324.82 521.68M409.06 580.62L326.04 516.81M409.27 580.36L328.68 512.91M409.48 580.11L331.61 509.21M409.71 579.87L334.33 505.26M409.95 579.64L335.95 500.05M410.20 579.42L338.44 495.48M410.46 579.21L341.16 490.98M410.72 579.01L342.58 484.39M411.00 578.82L345.85 479.93M411.28 578.64L349.69 476.11M411.57 578.48L352.61 470.37M411.86 578.32L356.19 465.29M412.17 578.18L360.22 460.64M412.47 578.05L365.41 458.30M412.79 577.94L370.74 456.33M413.10 577.84L374.49 449.05M413.42 577.75L379.62 445.17M413.75 577.67L383.59 434.82M414.07 577.61L389.72 432.64M414.40 577.56L395.86 429.82M414.74 577.53L402.12 426.35M415.07 577.51L408.16 411.65" stroke="#fff" stroke-opacity="0.18" stroke-width="0.35" fill="none"/>
<g font-size="2.40" fill="#444" stroke="#444" stroke-width="0.14" font-weight="bold" text-rendering="geometricPrecision" style="filter:grayscale(1)"><text transform="translate(416.05 554.19) rotate(-88.81) scale(1 0.87)" dy="0.35em">Phoebis_sexta&#160;&#160;10</text><text transform="translate(417.57 550.75) rotate(-86.42) scale(1 0.87)" dy="0.35em">Diaphorina_castaneum&#160;&#160;11</text><text transform="translate(419.38 547.39) rotate(-84.04) scale(1 0.87)" dy="0.35em">Bemisia_rapae&#160;&#160;12</text><text transform="translate(421.47 544.12) rotate(-81.66) scale(1 0.87)" dy="0.35em">Ceratitis_abietinus&#160;&#160;13</text><text transform="translate(424.42 537.89) rotate(-79.27) scale(1 0.87)" dy="0.35em">Periplaneta_calcitrans&#160;&#160;15</text><text transform="translate(426.93 536.02) rotate(-76.89) scale(1 0.87)" dy="0.35em">Melipona_cristinae&#160;&#160;16</text><text transform="translate(429.24 535.57) rotate(-74.50) scale(1 0.87)" dy="0.35em">Clitarchus_cinctus&#160;&#160;17</text><text transform="translate(431.48 535.66) rotate(-72.12) scale(1 0.87)" dy="0.35em">Harpegnathos_rotundata&#160;&#160;17</text><text transform="translate(433.73 535.84) rotate(-69.74) scale(1 0.87)" dy="0.35em">Polistes_mellifera&#160;&#160;17</text><text transform="translate(436.00 536.13) rotate(-67.35) scale(1 0.87)" dy="0.35em">Laodelphax_yakuba&#160;&#160;17</text><text transform="translate(438.34 536.38) rotate(-64.97) scale(1 0.87)" dy="0.35em">Cimex_saltator&#160;&#160;17</text><text transform="translate(440.86 536.43) rotate(-62.58) scale(1 0.87)" dy="0.35em">Nasonia_planipennis&#160;&#160;18</text><text transform="translate(443.41 536.60) rotate(-60.20) scale(1 0.87)" dy="0.35em">Solenopsis_hookeri&#160;&#160;18</text><text transform="translate(445.99 536.90) rotate(-57.81) scale(1 0.87)" dy="0.35em">Apis_taurus&#160;&#160;18</text><text transform="translate(448.20 537.90) rotate(-55.43) scale(1 0.87)" dy="0.35em">Calycopis_danica&#160;&#160;19</text><text transform="translate(450.15 539.31) rotate(-53.05) scale(1 0.87)" dy="0.35em">Frankliniella_quadrifasciata&#160;&#160;19</text><text transform="translate(452.56 540.16) rotate(-50.66) scale(1 0.87)" dy="0.35em">Eufriesea_capitata&#160;&#160;19</text><text transform="translate(454.99 541.10) rotate(-48.28) scale(1 0.87)" dy="0.35em">Plutella_taurus&#160;&#160;19</text><text transform="translate(457.05 542.53) rotate(-45.89) scale(1 0.87)" dy="0.35em">Pieris_mojavensis&#160;&#160;19</text><text transform="translate(459.06 544.05) rotate(-43.51) scale(1 0.87)" dy="0.35em">Lucilia_armigera&#160;&#160;19</text><text transform="translate(461.02 545.67) rotate(-41.13) scale(1 0.87)" dy="0.35em">Dufourea_lectularius&#160;&#160;19</text><text transform="translate(462.67 547.57) rotate(-38.74) scale(1 0.87)" dy="0.35em">Aedes_calcitrans&#160;&#160;19</text><text transform="translate(464.78 549.15) rotate(-36.36) scale(1 0.87)" dy="0.35em">Spodoptera_aegypti&#160;&#160;20</text><text transform="translate(466.82 550.85) rotate(-33.97) scale(1 0.87)" dy="0.35em">Sogatella_armigera&#160;&#160;20</text><text transform="translate(468.80 552.66) rotate(-31.59) scale(1 0.87)" dy="0.35em">Amyelois_erecta&#160;&#160;20</text><text transform="translate(470.18 554.88) rotate(-29.21) scale(1 0.87)" dy="0.35em">Pachypsylla_venusta_cerasiformis&#160;&#160;20</text><text transform="translate(471.47 557.15) rotate(-26.82) scale(1 0.87)" dy="0.35em">Apis_ponderosae&#160;&#160;20</text><text transform="translate(472.67 559.48) rotate(-24.44) scale(1 0.87)" dy="0.35em">Aedes_migratoria&#160;&#160;20</text><text transform="translate(473.77 561.85) rotate(-22.05) scale(1 0.87)" dy="0.35em">Stomoxys_cecrops&#160;&#160;20</text><text transform="translate(474.81 564.26) rotate(-19.67) scale(1 0.87)" dy="0.35em">Diaphorina_lugens&#160;&#160;20</text><text transform="translate(475.70 566.73) rotate(-17.28) scale(1 0.87)" dy="0.35em">Ladona_furcifera&#160;&#160;20</text><text transform="translate(476.43 569.26) rotate(-14.90) scale(1 0.87)" dy="0.35em">Clitarchus_suppressalis&#160;&#160;20</text><text transform="translate(477.06 571.81) rotate(-12.52) scale(1 0.87)" dy="0.35em">Polistes_castaneum&#160;&#160;20</text><text transform="translate(477.87 574.34) rotate(-10.13) scale(1 0.87)" dy="0.35em">Amyelois_gambiae&#160;&#160;20</text><text transform="translate(478.64 576.90) rotate(-7.75) scale(1 0.87)" dy="0.35em">Agrilus_ananassae&#160;&#160;21</text><text transform="translate(479.30 579.50) rotate(-5.36) scale(1 0.87)" dy="0.35em">Anoplophora_mori&#160;&#160;21</text><text transform="translate(479.86 582.14) rotate(-2.98) scale(1 0.87)" dy="0.35em">Nasonia_cristinae&#160;&#160;21</text><text transform="translate(480.30 584.82) rotate(-0.60) scale(1 0.87)" dy="0.35em">Ceratosolen_suppressalis&#160;&#160;21</text><text transform="translate(480.63 587.54) rotate(1.79) scale(1 0.87)" dy="0.35em">Musca_cuprina&#160;&#160;21</text><text transform="translate(480.72 590.26) rotate(4.17) scale(1 0.87)" dy="0.35em">Megachile_destructor&#160;&#160;21</text><text transform="translate(480.49 592.98) rotate(6.56) scale(1 0.87)" dy="0.35em">Bombyx_domestica&#160;&#160;21</text><text transform="translate(480.12 595.68) rotate(8.94) scale(1 0.87)" dy="0.35em">Microplitis_occidentalis&#160;&#160;21</text><text transform="translate(479.87 598.41) rotate(11.32) scale(1 0.87)" dy="0.35em">Diachasma_ananassae&#160;&#160;21</text><text transform="translate(479.69 601.18) rotate(13.71) scale(1 0.87)" dy="0.35em">Bemisia_lugens&#160;&#160;21</text><text transform="translate(479.02 603.85) rotate(16.09) scale(1 0.87)" dy="0.35em">Laodelphax_cuprina&#160;&#160;21</text><text transform="translate(478.23 606.50) rotate(18.48) scale(1 0.87)" dy="0.35em">Microplitis_erecta&#160;&#160;21</text><text transform="translate(477.34 609.10) rotate(20.86) scale(1 0.87)" dy="0.35em">Ceratosolen_migratoria&#160;&#160;21</text><text transform="translate(476.40 611.70) rotate(23.25) scale(1 0.87)" dy="0.35em">Frankliniella_americana&#160;&#160;21</text><text transform="translate(475.26 614.22) rotate(25.63) scale(1 0.87)" dy="0.35em">Ceratosolen_cecrops&#160;&#160;21</text><text transform="translate(474.01 616.68) rotate(28.01) scale(1 0.87)" dy="0.35em">Frankliniella_sennae&#160;&#160;21</text><text transform="translate(473.32 619.48) rotate(30.40) scale(1 0.87)" dy="0.35em">Blattella_citri&#160;&#160;22</text><text transform="translate(472.59 622.33) rotate(32.78) scale(1 0.87)" dy="0.35em">Vespa_ananassae&#160;&#160;22</text><text transform="translate(471.71 625.17) rotate(35.17) scale(1 0.87)" dy="0.35em">Diachasma_abietinus&#160;&#160;22</text><text transform="translate(470.27 627.68) rotate(37.55) scale(1 0.87)" dy="0.35em">Apis_brumata&#160;&#160;22</text><text transform="translate(468.59 630.03) rotate(39.93) scale(1 0.87)" dy="0.35em">Acyrthosiphon_mori&#160;&#160;22</text><text transform="translate(466.69 632.20) rotate(42.32) scale(1 0.87)" dy="0.35em">Anopheles_germanica&#160;&#160;22</text><text transform="translate(464.70 634.29) rotate(44.70) scale(1 0.87)" dy="0.35em">Copidosoma_abietinus&#160;&#160;22</text><text transform="translate(462.63 636.30) rotate(47.09) scale(1 0.87)" dy="0.35em">Drosophila_hookeri&#160;&#160;22</text><text transform="translate(460.48 638.22) rotate(49.47) scale(1 0.87)" dy="0.35em">Clitarchus_fulva&#160;&#160;22</text><text transform="translate(458.25 640.05) rotate(51.85) scale(1 0.87)" dy="0.35em">Acyrthosiphon_simulans&#160;&#160;22</text><text transform="translate(455.94 641.79) rotate(54.24) scale(1 0.87)" dy="0.35em">Ephemera_xuthus&#160;&#160;22</text><text transform="translate(453.56 643.43) rotate(56.62) scale(1 0.87)" dy="0.35em">Cimex_castaneum&#160;&#160;22</text><text transform="translate(451.64 645.84) rotate(59.01) scale(1 0.87)" dy="0.35em">Fopius_furcifera&#160;&#160;23</text><text transform="translate(449.10 647.29) rotate(61.39) scale(1 0.87)" dy="0.35em">Leptinotarsa_sexta&#160;&#160;23</text><text transform="translate(446.50 648.64) rotate(63.77) scale(1 0.87)" dy="0.35em">Polistes_sechellia&#160;&#160;23</text><text transform="translate(443.88 649.95) rotate(66.16) scale(1 0.87)" dy="0.35em">Timema_decemlineata&#160;&#160;23</text><text transform="translate(441.17 651.07) rotate(68.54) scale(1 0.87)" dy="0.35em">Zootermopsis_occidentalis&#160;&#160;23</text><text transform="translate(438.42 652.09) rotate(70.93) scale(1 0.87)" dy="0.35em">Zootermopsis_plexippus&#160;&#160;23</text><text transform="translate(435.63 652.99) rotate(73.31) scale(1 0.87)" dy="0.35em">Habropoda_cecrops&#160;&#160;23</text><text transform="translate(432.81 653.77) rotate(75.70) scale(1 0.87)" dy="0.35em">Papilio_rapae&#160;&#160;23</text><text transform="translate(429.95 654.44) rotate(78.08) scale(1 0.87)" dy="0.35em">Zootermopsis_hookeri&#160;&#160;23</text><text transform="translate(427.17 655.56) rotate(80.46) scale(1 0.87)" dy="0.35em">Bombyx_pisum&#160;&#160;23</text><text transform="translate(424.41 657.32) rotate(82.85) scale(1 0.87)" dy="0.35em">Lerema_frugiperda&#160;&#160;23</text><text transform="translate(421.46 658.09) rotate(85.23) scale(1 0.87)" dy="0.35em">Frankliniella_destructor&#160;&#160;23</text><text transform="translate(418.48 659.57) rotate(87.62) scale(1 0.87)" dy="0.35em">Papilio_sexta&#160;&#160;24</text><text transform="translate(415.40 661.01) rotate(270.00) scale(1 0.87)" dy="0.35em" text-anchor="end">Bombus_lugens&#160;&#160;24</text><text transform="translate(412.24 661.51) rotate(272.38) scale(1 0.87)" dy="0.35em" text-anchor="end">Camponotus_hookeri&#160;&#160;25</text><text transform="translate(409.03 661.88) rotate(274.77) scale(1 0.87)" dy="0.35em" text-anchor="end">Spodoptera_quadrifasciata&#160;&#160;25</text><text transform="translate(405.79 662.12) rotate(277.15) scale(1 0.87)" dy="0.35em" text-anchor="end">Danaus_migratoria&#160;&#160;25</text><text transform="translate(402.42 662.79) rotate(279.54) scale(1 0.87)" dy="0.35em" text-anchor="end">Ceratitis_cinctus&#160;&#160;25</text><text transform="translate(398.97 663.31) rotate(281.92) scale(1 0.87)" dy="0.35em" text-anchor="end">Ephemera_decemlineata&#160;&#160;26</text><text transform="translate(395.69 662.81) rotate(284.30) scale(1 0.87)" dy="0.35em" text-anchor="end">Dendroctonus_capitata&#160;&#160;26</text><text transform="translate(392.42 662.17) rotate(286.69) scale(1 0.87)" dy="0.35em" text-anchor="end">Atta_aegypti&#160;&#160;26</text><text transform="translate(389.05 661.72) rotate(289.07) scale(1 0.87)" dy="0.35em" text-anchor="end">Clitarchus_ponderosae&#160;&#160;26</text><text transform="translate(385.68 661.12) rotate(291.46) scale(1 0.87)" dy="0.35em" text-anchor="end">Bactrocera_migratoria&#160;&#160;26</text><text transform="translate(382.31 660.37) rotate(293.84) scale(1 0.87)" dy="0.35em" text-anchor="end">Nilaparvata_mori&#160;&#160;26</text><text transform="translate(379.01 659.37) rotate(296.23) scale(1 0.87)" dy="0.35em" text-anchor="end">Acyrthosiphon_hookeri&#160;&#160;27</text><text transform="translate(375.74 658.22) rotate(298.61) scale(1 0.87)" dy="0.35em" text-anchor="end">Musca_simulans&#160;&#160;27</text><text transform="translate(372.40 657.08) rotate(300.99) scale(1 0.87)" dy="0.35em" text-anchor="end">Aedes_abietinus&#160;&#160;27</text><text transform="translate(369.10 655.78) rotate(303.38) scale(1 0.87)" dy="0.35em" text-anchor="end">Dufourea_ponderosae&#160;&#160;27</text><text transform="translate(365.82 654.34) rotate(305.76) scale(1 0.87)" dy="0.35em" text-anchor="end">Vespa_sexta&#160;&#160;27</text><text transform="translate(362.42 652.95) rotate(308.15) scale(1 0.87)" dy="0.35em" text-anchor="end">Ephemera_xuthus&#160;&#160;28</text><text transform="translate(359.22 651.21) rotate(310.53) scale(1 0.87)" dy="0.35em" text-anchor="end">Neodiprion_rosae&#160;&#160;28</text><text transform="translate(356.07 649.32) rotate(312.91) scale(1 0.87)" dy="0.35em" text-anchor="end">Chilo_virilis&#160;&#160;28</text><text transform="translate(352.98 647.28) rotate(315.30) scale(1 0.87)" dy="0.35em" text-anchor="end">Anoplophora_sexta&#160;&#160;28</text><text transform="translate(349.25 645.73) rotate(317.68) scale(1 0.87)" dy="0.35em" text-anchor="end">Sogatella_prolixus&#160;&#160;29</text><text transform="translate(346.80 642.92) rotate(320.07) scale(1 0.87)" dy="0.35em" text-anchor="end">Heliconius_cristinae&#160;&#160;29</text><text transform="translate(344.48 640.02) rotate(322.45) scale(1 0.87)" dy="0.35em" text-anchor="end">Dufourea_armigera&#160;&#160;29</text><text transform="translate(342.27 637.02) rotate(324.83) scale(1 0.87)" dy="0.35em" text-anchor="end">Sogatella_vitripennis&#160;&#160;29</text><text transform="translate(340.19 633.94) rotate(327.22) scale(1 0.87)" dy="0.35em" text-anchor="end">Chilo_ponderosae&#160;&#160;29</text><text transform="translate(338.24 630.77) rotate(329.60) scale(1 0.87)" dy="0.35em" text-anchor="end">Musca_lugens&#160;&#160;29</text><text transform="translate(336.42 627.52) rotate(331.99) scale(1 0.87)" dy="0.35em" text-anchor="end">Vespa_hookeri&#160;&#160;29</text><text transform="translate(333.42 624.83) rotate(334.37) scale(1 0.87)" dy="0.35em" text-anchor="end">Timema_cristinae&#160;&#160;29</text><text transform="translate(331.81 621.40) rotate(336.75) scale(1 0.87)" dy="0.35em" text-anchor="end">Blattella_melpomene&#160;&#160;29</text><text transform="translate(330.35 617.91) rotate(339.14) scale(1 0.87)" dy="0.35em" text-anchor="end">Danaus_accius&#160;&#160;29</text><text transform="translate(329.03 614.36) rotate(341.52) scale(1 0.87)" dy="0.35em" text-anchor="end">Vespa_mellifera&#160;&#160;29</text><text transform="translate(327.79 610.77) rotate(343.91) scale(1 0.87)" dy="0.35em" text-anchor="end">Operophtera_armigera&#160;&#160;30</text><text transform="translate(326.71 607.13) rotate(346.29) scale(1 0.87)" dy="0.35em" text-anchor="end">Operophtera_erecta&#160;&#160;30</text><text transform="translate(323.52 603.90) rotate(348.68) scale(1 0.87)" dy="0.35em" text-anchor="end">Phoebis_sechellia&#160;&#160;30</text><text transform="translate(320.45 600.44) rotate(351.06) scale(1 0.87)" dy="0.35em" text-anchor="end">Dendroctonus_xuthus&#160;&#160;31</text><text transform="translate(318.68 596.62) rotate(353.44) scale(1 0.87)" dy="0.35em" text-anchor="end">Lerema_suppressalis&#160;&#160;32</text><text transform="translate(317.64 592.63) rotate(355.83) scale(1 0.87)" dy="0.35em" text-anchor="end">Neodiprion_citri&#160;&#160;32</text><text transform="translate(316.77 588.58) rotate(358.21) scale(1 0.87)" dy="0.35em" text-anchor="end">Amyelois_mellifera&#160;&#160;32</text></g>
<g font-size="2.40" fill="#fff" fill-opacity="0.60" font-weight="bold" text-rendering="geometricPrecision"><text transform="translate(320.27 584.51) rotate(360.60)" dy="0.35em">Apis_cristinae&#160;&#160;32</text><text transform="translate(319.74 580.52) rotate(362.98)" dy="0.35em">Aedes_furcifera&#160;&#160;32</text><text transform="translate(319.70 576.51) rotate(365.36)" dy="0.35em">Camponotus_danica&#160;&#160;33</text><text transform="translate(319.77 572.49) rotate(367.75)" dy="0.35em">Melipona_abietinus&#160;&#160;33</text><text transform="translate(320.01 568.45) rotate(370.13)" dy="0.35em">Eufriesea_lugens&#160;&#160;33</text><text transform="translate(320.42 564.42) rotate(372.52)" dy="0.35em">Plutella_cuprina&#160;&#160;33</text><text transform="translate(320.50 560.25) rotate(374.90)" dy="0.35em">Rhodnius_dorsalis&#160;&#160;33</text><text transform="translate(319.65 555.70) rotate(377.28)" dy="0.35em">Orussus_mexicana&#160;&#160;34</text><text transform="translate(319.38 551.18) rotate(379.67)" dy="0.35em">Harpegnathos_aegypti&#160;&#160;34</text><text transform="translate(319.81 546.78) rotate(382.05)" dy="0.35em">Acyrthosiphon_canadensis&#160;&#160;35</text><text transform="translate(320.99 542.60) rotate(384.44)" dy="0.35em">Acyrthosiphon_cristinae&#160;&#160;35</text><text transform="translate(322.36 538.46) rotate(386.82)" dy="0.35em">Bactrocera_citri&#160;&#160;35</text><text transform="translate(323.48 534.12) rotate(389.21)" dy="0.35em">Ceratitis_fulva&#160;&#160;36</text><text transform="translate(324.65 529.70) rotate(391.59)" dy="0.35em">Pieris_destructor&#160;&#160;36</text><text transform="translate(325.58 524.98) rotate(393.97)" dy="0.35em">Clitarchus_rapae&#160;&#160;37</text><text transform="translate(326.64 520.16) rotate(396.36)" dy="0.35em">Ceratosolen_furcifera&#160;&#160;37</text><text transform="translate(329.14 516.29) rotate(398.74)" dy="0.35em">Plutella_taurus&#160;&#160;37</text><text transform="translate(331.92 512.61) rotate(401.13)" dy="0.35em">Heliconius_nevadensis&#160;&#160;37</text><text transform="translate(334.49 508.69) rotate(403.51)" dy="0.35em">Culex_aegypti&#160;&#160;38</text><text transform="translate(335.93 503.51) rotate(405.89)" dy="0.35em">Dendroctonus_furcifera&#160;&#160;39</text><text transform="translate(338.24 498.97) rotate(408.28)" dy="0.35em">Lucilia_citri&#160;&#160;39</text><text transform="translate(340.80 494.47) rotate(410.66)" dy="0.35em">Anoplophora_cecrops&#160;&#160;40</text><text transform="translate(342.00 487.93) rotate(413.05)" dy="0.35em">Lucilia_erecta&#160;&#160;41</text><text transform="translate(345.09 483.46) rotate(415.43)" dy="0.35em">Anopheles_tabaci&#160;&#160;42</text><text transform="translate(348.76 479.61) rotate(417.81)" dy="0.35em">Bombus_capitata&#160;&#160;42</text><text transform="translate(351.47 473.88) rotate(420.20)" dy="0.35em">Trichogramma_pisum&#160;&#160;43</text><text transform="translate(354.85 468.77) rotate(422.58)" dy="0.35em">Tribolium_floridanus&#160;&#160;44</text><text transform="translate(358.70 464.08) rotate(424.97)" dy="0.35em">Heliconius_accius&#160;&#160;45</text><text transform="translate(363.73 461.68) rotate(427.35)" dy="0.35em">Solenopsis_castaneum&#160;&#160;45</text><text transform="translate(368.93 459.64) rotate(429.74)" dy="0.35em">Bombyx_mori&#160;&#160;45</text><text transform="translate(372.43 452.31) rotate(432.12)" dy="0.35em">Vespa_taurus&#160;&#160;47</text><text transform="translate(377.37 448.35) rotate(434.50)" dy="0.35em">Timema_rotundata&#160;&#160;48</text><text transform="translate(381.03 437.95) rotate(436.89)" dy="0.35em">Tribolium_castaneum&#160;&#160;51</text><text transform="translate(387.01 435.67) rotate(439.27)" dy="0.35em">Operophtera_rotundata&#160;&#160;51</text><text transform="translate(392.99 432.73) rotate(441.66)" dy="0.35em">Pediculus_ananassae&#160;&#160;52</text><text transform="translate(399.08 429.15) rotate(444.04)" dy="0.35em">Dufourea_vitripennis&#160;&#160;53</text><text transform="translate(404.70 414.33) rotate(446.42)" dy="0.35em">Stomoxys_terrestris&#160;&#160;57</text><text transform="translate(411.47 396.44) rotate(448.81)" dy="0.35em">Aedes_mojavensis&#160;&#160;63</text></g>
<circle cx="415.40" cy="585.50" r="8.70" fill="#fff" fill-opacity="0.22"/>
<circle cx="415.40" cy="585.50" r="5.94" fill="#fff" fill-opacity="0.28"/>
<circle cx="415.40" cy="585.50" r="2.90" fill="#fff"/>
</g>
<text class="t" x="28.7" y="9.2" font-size="10.3">GH gene number of 151 insect genomes</text>
<text class="t" x="313.5" y="8.1" font-size="10.3">GT gene number of 151 insect genomes</text>
<text class="t" x="43.1" y="386" font-size="10.2">CBM gene number of 151 insect genomes</text>
<text class="t" x="326.9" y="386.9" font-size="10.3">AA gene number of 151 insect genomes</text>
<text class="t" x="96.9" y="365.7" font-size="25.5" font-weight="bold">A</text>
<text class="t" transform="translate(388.4 370.6) scale(0.91 0.98)" font-size="25.5" font-weight="bold">B</text>
<text class="t" x="102.2" y="718" font-size="25.5" font-weight="bold">C</text>
<text class="t" x="393.3" y="720.2" font-size="25.5" font-weight="bold">D</text>
</svg>
</body></html>
